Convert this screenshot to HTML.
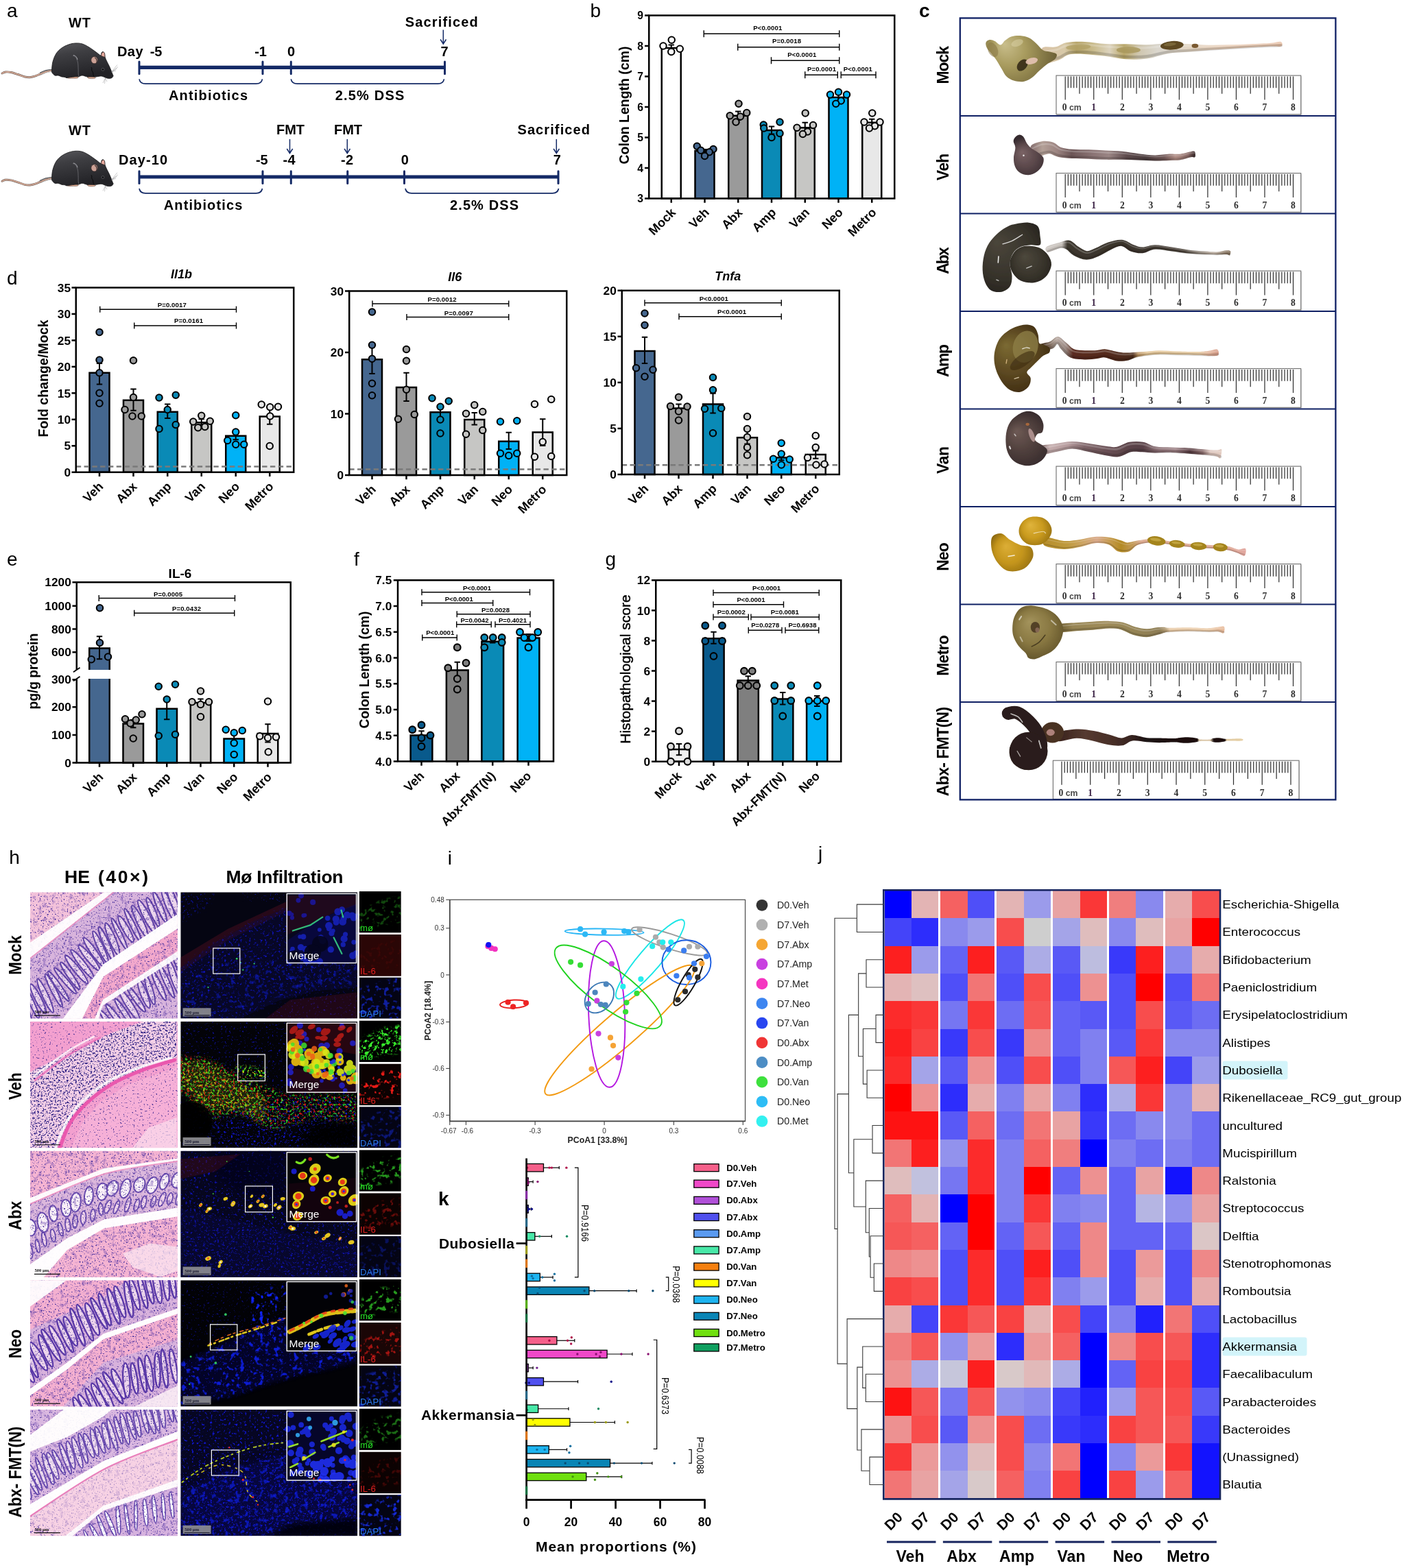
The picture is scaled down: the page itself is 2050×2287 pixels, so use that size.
<!DOCTYPE html>
<html lang="en"><head><meta charset="utf-8"><title>Figure</title>
<style>html,body{margin:0;padding:0;background:#fff}svg{display:block}</style>
</head><body>
<svg width="2050" height="2287" viewBox="0 0 2050 2287" font-family='"Liberation Sans", sans-serif'>
<defs><linearGradient id="mouseg" x1="0" y1="0" x2="0.3" y2="1"><stop offset="0" stop-color="#58585c"/><stop offset=".35" stop-color="#3e3e42"/><stop offset="1" stop-color="#222226"/></linearGradient>
<filter id="cblur" x="-5%" y="-20%" width="110%" height="140%"><feGaussianBlur stdDeviation=".55"/></filter>
<linearGradient id="cg1" gradientUnits="userSpaceOnUse" x1="1520.88" y1="0" x2="1867.8" y2="0"><stop offset="0" stop-color="#d9c3a6"/><stop offset="0.09" stop-color="#d8c9a8"/><stop offset="0.14" stop-color="#b7a56a"/><stop offset="0.21" stop-color="#c9bb8c"/><stop offset="0.28" stop-color="#dcd3bd"/><stop offset="0.34" stop-color="#b9a76a"/><stop offset="0.4" stop-color="#cfc6ae"/><stop offset="0.48" stop-color="#dad6cd"/><stop offset="0.61" stop-color="#e3d6c4"/><stop offset="0.78" stop-color="#e9cdb6"/><stop offset="1" stop-color="#e8c2a8"/></linearGradient>
<radialGradient id="cg2" gradientUnits="userSpaceOnUse" cx="1480" cy="82.5" r="62.5" fx="1464.38" fy="63.75"><stop offset="0" stop-color="#c9be8c"/><stop offset="0.4" stop-color="#a89b5e"/><stop offset="1" stop-color="#6a5e34"/></radialGradient>
<linearGradient id="cg3" gradientUnits="userSpaceOnUse" x1="1505.77" y1="0" x2="1742.09" y2="0"><stop offset="0" stop-color="#8c7674"/><stop offset="0.06" stop-color="#b3a097"/><stop offset="0.15" stop-color="#9c8481"/><stop offset="0.24" stop-color="#6c5556"/><stop offset="0.37" stop-color="#8a7374"/><stop offset="0.47" stop-color="#9a8584"/><stop offset="0.58" stop-color="#5d4a4c"/><stop offset="0.7" stop-color="#4a3b3c"/><stop offset="0.81" stop-color="#6e5554"/><stop offset="0.88" stop-color="#b08c84"/><stop offset="0.96" stop-color="#8a6a66"/><stop offset="1" stop-color="#3c2c2c"/></linearGradient>
<radialGradient id="cg4" gradientUnits="userSpaceOnUse" cx="1498.21" cy="231.95" r="33.24" fx="1489.9" fy="221.98"><stop offset="0" stop-color="#7b6466"/><stop offset="0.5" stop-color="#5b484b"/><stop offset="1" stop-color="#352a2e"/></radialGradient>
<linearGradient id="cg5" gradientUnits="userSpaceOnUse" x1="1526.92" y1="0" x2="1793.46" y2="0"><stop offset="0" stop-color="#cfc9c4"/><stop offset="0.08" stop-color="#c4beb8"/><stop offset="0.11" stop-color="#3d372f"/><stop offset="0.32" stop-color="#3a342c"/><stop offset="0.54" stop-color="#3b342d"/><stop offset="0.75" stop-color="#4a4138"/><stop offset="0.83" stop-color="#8d8378"/><stop offset="0.91" stop-color="#b9aa9c"/><stop offset="1" stop-color="#7d6a55"/></linearGradient>
<radialGradient id="cg6" gradientUnits="userSpaceOnUse" cx="1469.51" cy="372.44" r="66.48" fx="1452.88" fy="352.49"><stop offset="0" stop-color="#4b463b"/><stop offset="0.6" stop-color="#37332b"/><stop offset="1" stop-color="#24211c"/></radialGradient>
<radialGradient id="cg7" gradientUnits="userSpaceOnUse" cx="1502.75" cy="384.53" r="36.26" fx="1493.68" fy="373.65"><stop offset="0" stop-color="#4d483c"/><stop offset="0.6" stop-color="#39352c"/><stop offset="1" stop-color="#25221d"/></radialGradient>
<linearGradient id="cg8" gradientUnits="userSpaceOnUse" x1="1517.86" y1="0" x2="1775.33" y2="0"><stop offset="0" stop-color="#3a2414"/><stop offset="0.05" stop-color="#7a6658"/><stop offset="0.09" stop-color="#b9aaa2"/><stop offset="0.14" stop-color="#9b8a84"/><stop offset="0.18" stop-color="#5a2c20"/><stop offset="0.36" stop-color="#552a1c"/><stop offset="0.52" stop-color="#4a2a1a"/><stop offset="0.55" stop-color="#b89060"/><stop offset="0.6" stop-color="#e3c493"/><stop offset="0.89" stop-color="#e6c89c"/><stop offset="0.95" stop-color="#e2b49a"/><stop offset="1" stop-color="#d9a08c"/></linearGradient>
<radialGradient id="cg9" gradientUnits="userSpaceOnUse" cx="1481.59" cy="521.48" r="60.44" fx="1466.48" fy="503.35"><stop offset="0" stop-color="#7b6a32"/><stop offset="0.5" stop-color="#5e4a22"/><stop offset="1" stop-color="#3a2810"/></radialGradient>
<linearGradient id="cg10" gradientUnits="userSpaceOnUse" x1="1514.84" y1="0" x2="1780.16" y2="0"><stop offset="0" stop-color="#6a5453"/><stop offset="0.06" stop-color="#c4acac"/><stop offset="0.16" stop-color="#b59a9c"/><stop offset="0.25" stop-color="#7e6468"/><stop offset="0.36" stop-color="#6a5055"/><stop offset="0.48" stop-color="#5c4449"/><stop offset="0.57" stop-color="#584046"/><stop offset="0.66" stop-color="#8b6f74"/><stop offset="0.75" stop-color="#9a7e82"/><stop offset="0.83" stop-color="#55393f"/><stop offset="0.9" stop-color="#8a6c6c"/><stop offset="0.94" stop-color="#dcc4bc"/><stop offset="1" stop-color="#e2cbc0"/></linearGradient>
<radialGradient id="cg11" gradientUnits="userSpaceOnUse" cx="1493.68" cy="642.33" r="45.33" fx="1482.35" fy="628.73"><stop offset="0" stop-color="#6e5a55"/><stop offset="0.5" stop-color="#50403d"/><stop offset="1" stop-color="#33282a"/></radialGradient>
<linearGradient id="cg12" gradientUnits="userSpaceOnUse" x1="1523.9" y1="0" x2="1815.22" y2="0"><stop offset="0" stop-color="#b78f2c"/><stop offset="0.11" stop-color="#bf9a3c"/><stop offset="0.2" stop-color="#cfa66a"/><stop offset="0.26" stop-color="#d9a98a"/><stop offset="0.33" stop-color="#c49a4a"/><stop offset="0.38" stop-color="#b38a24"/><stop offset="0.44" stop-color="#c39a58"/><stop offset="0.48" stop-color="#dba98e"/><stop offset="0.92" stop-color="#dda592"/><stop offset="1" stop-color="#e2a8a0"/></linearGradient>
<radialGradient id="cg13" gradientUnits="userSpaceOnUse" cx="1475.55" cy="806.99" r="36.26" fx="1466.48" fy="796.12"><stop offset="0" stop-color="#dcae36"/><stop offset="0.55" stop-color="#c4951c"/><stop offset="1" stop-color="#8e6a10"/></radialGradient>
<radialGradient id="cg14" gradientUnits="userSpaceOnUse" cx="1508.79" cy="773.75" r="27.8" fx="1501.84" fy="765.41"><stop offset="0" stop-color="#e0b43c"/><stop offset="0.55" stop-color="#c99a1e"/><stop offset="1" stop-color="#936e12"/></radialGradient>
<linearGradient id="cg15" gradientUnits="userSpaceOnUse" x1="1545.05" y1="0" x2="1784.4" y2="0"><stop offset="0" stop-color="#6f5e32"/><stop offset="0.08" stop-color="#978553"/><stop offset="0.28" stop-color="#9f8c5a"/><stop offset="0.47" stop-color="#948354"/><stop offset="0.61" stop-color="#8e7d55"/><stop offset="0.65" stop-color="#b9a078"/><stop offset="0.67" stop-color="#e8c9a4"/><stop offset="0.91" stop-color="#ecccaa"/><stop offset="1" stop-color="#e8bb9c"/></linearGradient>
<radialGradient id="cg16" gradientUnits="userSpaceOnUse" cx="1511.81" cy="920.29" r="45.33" fx="1500.48" fy="906.69"><stop offset="0" stop-color="#a3935c"/><stop offset="0.55" stop-color="#897842"/><stop offset="1" stop-color="#5f5128"/></radialGradient>
<linearGradient id="cg17" gradientUnits="userSpaceOnUse" x1="1542.03" y1="0" x2="1810.08" y2="0"><stop offset="0" stop-color="#3a231d"/><stop offset="0.15" stop-color="#553a30"/><stop offset="0.28" stop-color="#4a3029"/><stop offset="0.39" stop-color="#3a2622"/><stop offset="0.48" stop-color="#1c1212"/><stop offset="0.76" stop-color="#1a1010"/><stop offset="0.77" stop-color="#d9c6a8"/><stop offset="0.83" stop-color="#dcc8aa"/><stop offset="0.85" stop-color="#1a1010"/><stop offset="0.91" stop-color="#1a1010"/><stop offset="0.92" stop-color="#e0c9a0"/><stop offset="1" stop-color="#e6d0a6"/></linearGradient>
<filter id="spP" x="0" y="0" width="1" height="1" color-interpolation-filters="sRGB"><feTurbulence type="fractalNoise" baseFrequency=".45" numOctaves="2" seed="3"/><feColorMatrix values="0 0 0 0 0.3 0 0 0 0 0.2 0 0 0 0 0.62 7 0 0 0 -4.3"/><feComposite in2="SourceAlpha" operator="in"/></filter>
<filter id="spP3" x="0" y="0" width="1" height="1" color-interpolation-filters="sRGB"><feTurbulence type="fractalNoise" baseFrequency=".16" numOctaves="2" seed="17"/><feColorMatrix values="0 0 0 0 0.42 0 0 0 0 0.28 0 0 0 0 0.68 6 0 0 0 -3.3"/><feComposite in2="SourceAlpha" operator="in"/></filter>
<filter id="spP2" x="0" y="0" width="1" height="1" color-interpolation-filters="sRGB"><feTurbulence type="fractalNoise" baseFrequency=".4" numOctaves="2" seed="11"/><feColorMatrix values="0 0 0 0 0.28 0 0 0 0 0.18 0 0 0 0 0.58 7 0 0 0 -4.5"/><feComposite in2="SourceAlpha" operator="in"/></filter>
<filter id="spV" x="0" y="0" width="1" height="1" color-interpolation-filters="sRGB"><feTurbulence type="fractalNoise" baseFrequency=".4" numOctaves="2" seed="5"/><feColorMatrix values="0 0 0 0 0.2 0 0 0 0 0.15 0 0 0 0 0.52 7 0 0 0 -3.8"/><feComposite in2="SourceAlpha" operator="in"/></filter>
<filter id="hb6" x="-20%" y="-20%" width="140%" height="140%"><feGaussianBlur stdDeviation="6"/></filter><filter id="hb3" x="-20%" y="-20%" width="140%" height="140%"><feGaussianBlur stdDeviation="3"/></filter>
<clipPath id="hc1"><rect x="43.9" y="1301.3" width="215" height="184.3"/></clipPath>
<clipPath id="hc2"><rect x="43.9" y="1489.95" width="215" height="184.3"/></clipPath>
<clipPath id="hc3"><rect x="43.9" y="1678.6" width="215" height="184.3"/></clipPath>
<clipPath id="hc4"><rect x="43.9" y="1867.25" width="215" height="184.3"/></clipPath>
<clipPath id="hc5"><rect x="43.9" y="2055.9" width="215" height="184.3"/></clipPath>
<filter id="fB1" x="0" y="0" width="1" height="1" color-interpolation-filters="sRGB"><feTurbulence type="fractalNoise" baseFrequency=".32" numOctaves="2" seed="2"/><feColorMatrix result="n" values="0 0 0 0 0.08 0 0 0 0 0.09 0 0 0 0 0.82 6 0 0 0 -3.85"/><feGaussianBlur in="SourceAlpha" stdDeviation="3" result="m"/><feComposite in="n" in2="m" operator="in"/></filter>
<filter id="fB2" x="0" y="0" width="1" height="1" color-interpolation-filters="sRGB"><feTurbulence type="fractalNoise" baseFrequency=".3" numOctaves="2" seed="8"/><feColorMatrix result="n" values="0 0 0 0 0.07 0 0 0 0 0.09 0 0 0 0 0.85 6 0 0 0 -3.6"/><feGaussianBlur in="SourceAlpha" stdDeviation="3" result="m"/><feComposite in="n" in2="m" operator="in"/></filter>
<filter id="fB3" x="0" y="0" width="1" height="1" color-interpolation-filters="sRGB"><feTurbulence type="fractalNoise" baseFrequency=".14" numOctaves="2" seed="4"/><feColorMatrix result="n" values="0 0 0 0 0.06 0 0 0 0 0.14 0 0 0 0 1 7 0 0 0 -4"/><feGaussianBlur in="SourceAlpha" stdDeviation="2" result="m"/><feComposite in="n" in2="m" operator="in"/></filter>
<filter id="fG" x="0" y="0" width="1" height="1" color-interpolation-filters="sRGB"><feTurbulence type="fractalNoise" baseFrequency=".3" numOctaves="2" seed="21"/><feColorMatrix result="n" values="0 0 0 0 0.2 0 0 0 0 0.95 0 0 0 0 0.15 7 0 0 0 -4"/><feGaussianBlur in="SourceAlpha" stdDeviation="3" result="m"/><feComposite in="n" in2="m" operator="in"/></filter>
<filter id="fR" x="0" y="0" width="1" height="1" color-interpolation-filters="sRGB"><feTurbulence type="fractalNoise" baseFrequency=".3" numOctaves="2" seed="33"/><feColorMatrix result="n" values="0 0 0 0 0.95 0 0 0 0 0.1 0 0 0 0 0.08 7 0 0 0 -4"/><feGaussianBlur in="SourceAlpha" stdDeviation="3" result="m"/><feComposite in="n" in2="m" operator="in"/></filter>
<filter id="fY" x="0" y="0" width="1" height="1" color-interpolation-filters="sRGB"><feTurbulence type="fractalNoise" baseFrequency=".28" numOctaves="2" seed="45"/><feColorMatrix result="n" values="0 0 0 0 0.95 0 0 0 0 0.9 0 0 0 0 0.1 7 0 0 0 -4.1"/><feGaussianBlur in="SourceAlpha" stdDeviation="3" result="m"/><feComposite in="n" in2="m" operator="in"/></filter>
<filter id="fG2" x="0" y="0" width="1" height="1" color-interpolation-filters="sRGB"><feTurbulence type="fractalNoise" baseFrequency=".16" numOctaves="2" seed="5"/><feColorMatrix result="n" values="0 0 0 0 0.25 0 0 0 0 1 0 0 0 0 0.2 7 0 0 0 -3.9"/><feGaussianBlur in="SourceAlpha" stdDeviation="1.5" result="m"/><feComposite in="n" in2="m" operator="in"/></filter>
<filter id="fR2" x="0" y="0" width="1" height="1" color-interpolation-filters="sRGB"><feTurbulence type="fractalNoise" baseFrequency=".16" numOctaves="2" seed="9"/><feColorMatrix result="n" values="0 0 0 0 1 0 0 0 0 0.12 0 0 0 0 0.1 7 0 0 0 -3.9"/><feGaussianBlur in="SourceAlpha" stdDeviation="1.5" result="m"/><feComposite in="n" in2="m" operator="in"/></filter>
<filter id="fB4" x="0" y="0" width="1" height="1" color-interpolation-filters="sRGB"><feTurbulence type="fractalNoise" baseFrequency=".15" numOctaves="2" seed="13"/><feColorMatrix result="n" values="0 0 0 0 0.1 0 0 0 0 0.2 0 0 0 0 1 7 0 0 0 -3.8"/><feGaussianBlur in="SourceAlpha" stdDeviation="1.5" result="m"/><feComposite in="n" in2="m" operator="in"/></filter>
<clipPath id="hc6"><rect x="263.3" y="1301.3" width="257.9" height="184.3"/></clipPath>
<clipPath id="hc7"><rect x="523.9" y="1300.1" width="60.8" height="60.2"/></clipPath>
<clipPath id="hc8"><rect x="523.9" y="1363.1" width="60.8" height="60.4"/></clipPath>
<clipPath id="hc9"><rect x="523.9" y="1425.7" width="60.8" height="59.9"/></clipPath>
<clipPath id="hc10"><rect x="263.3" y="1489.95" width="257.9" height="184.3"/></clipPath>
<clipPath id="hc11"><rect x="523.9" y="1488.75" width="60.8" height="60.2"/></clipPath>
<clipPath id="hc12"><rect x="523.9" y="1551.75" width="60.8" height="60.4"/></clipPath>
<clipPath id="hc13"><rect x="523.9" y="1614.35" width="60.8" height="59.9"/></clipPath>
<clipPath id="hc14"><rect x="263.3" y="1678.6" width="257.9" height="184.3"/></clipPath>
<clipPath id="hc15"><rect x="523.9" y="1677.4" width="60.8" height="60.2"/></clipPath>
<clipPath id="hc16"><rect x="523.9" y="1740.4" width="60.8" height="60.4"/></clipPath>
<clipPath id="hc17"><rect x="523.9" y="1803" width="60.8" height="59.9"/></clipPath>
<clipPath id="hc18"><rect x="263.3" y="1867.25" width="257.9" height="184.3"/></clipPath>
<clipPath id="hc19"><rect x="523.9" y="1866.05" width="60.8" height="60.2"/></clipPath>
<clipPath id="hc20"><rect x="523.9" y="1929.05" width="60.8" height="60.4"/></clipPath>
<clipPath id="hc21"><rect x="523.9" y="1991.65" width="60.8" height="59.9"/></clipPath>
<clipPath id="hc22"><rect x="263.3" y="2055.9" width="257.9" height="184.3"/></clipPath>
<clipPath id="hc23"><rect x="523.9" y="2054.7" width="60.8" height="60.2"/></clipPath>
<clipPath id="hc24"><rect x="523.9" y="2117.7" width="60.8" height="60.4"/></clipPath>
<clipPath id="hc25"><rect x="523.9" y="2180.3" width="60.8" height="59.9"/></clipPath></defs>
<rect width="2050" height="2287" fill="#fff"/>
<text x="10" y="24.5" font-size="28">a</text>
<text x="116" y="39.5" font-size="20" text-anchor="middle" font-weight="bold" textLength="32" lengthAdjust="spacing">WT</text>
<g transform="translate(0 50)">
<path d="M75.5 52.5C73.92 52.92 69.42 53.83 66 55C62.58 56.17 58.5 58.25 55 59.5C51.5 60.75 48.17 62.08 45 62.5C41.83 62.92 39.17 62.67 36 62C32.83 61.33 29.33 59.58 26 58.5C22.67 57.42 19 56.08 16 55.5C13 54.92 10.17 54.75 8 55C5.83 55.25 3.83 56.67 3 57" fill="none" stroke="#6b5a52" stroke-width="2.9" stroke-linecap="round"/>
<path d="M75.5 52.5C73.92 52.92 69.42 53.83 66 55C62.58 56.17 58.5 58.25 55 59.5C51.5 60.75 48.17 62.08 45 62.5C41.83 62.92 39.17 62.67 36 62C32.83 61.33 29.33 59.58 26 58.5C22.67 57.42 19 56.08 16 55.5C13 54.92 10.17 54.75 8 55C5.83 55.25 3.83 56.67 3 57" fill="none" stroke="#dcae9a" stroke-width="1.6" stroke-linecap="round"/>
<path d="M75.5 51.5C70 51.6 64 53 58 56.5" fill="none" stroke="#6b6b6e" stroke-width="1.6"/>
<path d="M75.5 54.6C70 55 65 57 60 59.5" fill="none" stroke="#d8d8d8" stroke-width="1"/>
<path d="M97 61.5C100 60.5 110 60.5 114.5 62.5C114 64.5 110 64.3 106 64.2C102 64.4 98.5 64.6 97 63Z" fill="#e2ad93" stroke="#4a3a34" stroke-width=".5"/>
<path d="M127.5 61.5C131 60.8 136 61.5 139.5 63C139 65 135 64.6 132 64.6C130 64.6 128 64 127.5 63Z" fill="#e2ad93" stroke="#4a3a34" stroke-width=".5"/>
<path d="M75.5 52C75.67 49.33 75.92 44 77 40C78.08 36 79.83 31.33 82 28C84.17 24.67 87 22.17 90 20C93 17.83 96.67 16.17 100 15C103.33 13.83 106.67 13.17 110 13C113.33 12.83 116.67 13 120 14C123.33 15 126.67 17 130 19C133.33 21 137.17 24 140 26C142.83 28 145.67 30.83 147 31C148.33 31.17 147.5 27.92 148 27C148.5 26.08 149.25 25.33 150 25.5C150.75 25.67 152 26.75 152.5 28C153 29.25 152.42 31 153 33C153.58 35 154.83 37.5 156 40C157.17 42.5 158.67 45 160 48C161.33 51 163.17 55.83 164 58C164.83 60.17 165.33 60 165 61C164.67 62 163.5 63.5 162 64C160.5 64.5 158.33 64.5 156 64C153.67 63.5 150.67 61.33 148 61C145.33 60.67 142.67 61.83 140 62C137.33 62.17 134.17 62 132 62C129.83 62 129 62.33 127 62C125 61.67 122 60.08 120 60C118 59.92 117 61.17 115 61.5C113 61.83 111 61.67 108 62C105 62.33 99.17 63.42 97 63.5C94.83 63.58 96.17 62.75 95 62.5C93.83 62.25 91.67 62.42 90 62C88.33 61.58 86.67 60.33 85 60C83.33 59.67 81.5 60.67 80 60C78.5 59.33 76.75 57.33 76 56C75.25 54.67 75.33 54.67 75.5 52Z" fill="url(#mouseg)" stroke="#151517" stroke-width=".8"/>
<path d="M106 31C112 32 114 40 114 48C114.5 54 113.5 58 115 61" fill="none" stroke="#77777c" stroke-width=".9" opacity=".8"/>
<path d="M107 30.5C110.5 31.2 112.5 34 113 37" fill="none" stroke="#c9c9cf" stroke-width=".9" opacity=".8"/>
<path d="M133 48C135 50 132.5 52 134.5 54C136.5 56 135 59 137 61.5" fill="none" stroke="#0a0a0b" stroke-width="1"/>
<path d="M147.5 31.5C147.5 28 149 25.8 150.8 26C152.8 26.3 153 30 152.8 33.5Z" fill="#e6a99c" stroke="#2a2224" stroke-width=".7"/>
<ellipse cx="137.6" cy="37.6" rx="4.8" ry="5.2" fill="#cda296" stroke="#3a2c2c" stroke-width=".8"/>
<path d="M138 34C141 35 142 39 140.5 42.5" fill="none" stroke="#3a3030" stroke-width="1.2"/>
<circle cx="150" cy="51.3" r="1.9" fill="#0c0c0e" stroke="#86868c" stroke-width=".5"/>
<path d="M162.5 55L171 44.5" stroke="#8a8a8e" stroke-width=".45" fill="none"/>
<path d="M162.5 55L172 47.5" stroke="#8a8a8e" stroke-width=".45" fill="none"/>
<path d="M162.5 55L170.5 50" stroke="#8a8a8e" stroke-width=".45" fill="none"/>
<path d="M162.5 55L169 53" stroke="#8a8a8e" stroke-width=".45" fill="none"/>
<path d="M153.5 64L150 71" stroke="#8a8a8e" stroke-width=".45" fill="none"/>
<path d="M153.5 64L152.5 72" stroke="#8a8a8e" stroke-width=".45" fill="none"/>
<path d="M153.5 64L156 69" stroke="#8a8a8e" stroke-width=".45" fill="none"/>
</g>
<text x="171" y="82" font-size="20" font-weight="bold" textLength="37.5" lengthAdjust="spacing">Day</text>
<text x="227.5" y="82" font-size="20" text-anchor="middle" font-weight="bold" textLength="17.5" lengthAdjust="spacing">-5</text>
<text x="380" y="82" font-size="20" text-anchor="middle" font-weight="bold" textLength="17.5" lengthAdjust="spacing">-1</text>
<text x="424.5" y="82" font-size="20" text-anchor="middle" font-weight="bold">0</text>
<text x="648" y="82" font-size="20" text-anchor="middle" font-weight="bold">7</text>
<line x1="203" y1="98.3" x2="648.5" y2="98.3" stroke="#142a66" stroke-width="5.2"/>
<line x1="203" y1="90" x2="203" y2="107.8" stroke="#142a66" stroke-width="3" stroke-linecap="round"/>
<line x1="383" y1="90" x2="383" y2="107.8" stroke="#142a66" stroke-width="3" stroke-linecap="round"/>
<line x1="424.3" y1="90" x2="424.3" y2="107.8" stroke="#142a66" stroke-width="3" stroke-linecap="round"/>
<line x1="648.5" y1="90" x2="648.5" y2="107.8" stroke="#142a66" stroke-width="3" stroke-linecap="round"/>
<path d="M203 115.3C204 120.6 207 122.1 212 122.1L373.5 122.1C378.5 122.1 381.5 120.6 382.5 115.3" fill="none" stroke="#142a66" stroke-width="1.7"/>
<path d="M424.3 115.3C425.3 120.6 428.3 122.1 433.3 122.1L638.5 122.1C643.5 122.1 646.5 120.6 647.5 115.3" fill="none" stroke="#142a66" stroke-width="1.7"/>
<text x="303.5" y="145.5" font-size="20" text-anchor="middle" font-weight="bold" textLength="115" lengthAdjust="spacing">Antibiotics</text>
<text x="539" y="145.5" font-size="20" text-anchor="middle" font-weight="bold" textLength="100.5" lengthAdjust="spacing">2.5% DSS</text>
<text x="643.7" y="39" font-size="20" text-anchor="middle" font-weight="bold" textLength="106" lengthAdjust="spacing">Sacrificed</text>
<line x1="646.3" y1="43.5" x2="646.3" y2="63" stroke="#142a66" stroke-width="1.5"/>
<path d="M642.1 57.5L646.3 64L650.5 57.5" fill="none" stroke="#142a66" stroke-width="1.5" stroke-linejoin="miter"/>
<text x="116" y="196.8" font-size="20" text-anchor="middle" font-weight="bold" textLength="32" lengthAdjust="spacing">WT</text>
<g transform="translate(0 207.3)">
<path d="M75.5 52.5C73.92 52.92 69.42 53.83 66 55C62.58 56.17 58.5 58.25 55 59.5C51.5 60.75 48.17 62.08 45 62.5C41.83 62.92 39.17 62.67 36 62C32.83 61.33 29.33 59.58 26 58.5C22.67 57.42 19 56.08 16 55.5C13 54.92 10.17 54.75 8 55C5.83 55.25 3.83 56.67 3 57" fill="none" stroke="#6b5a52" stroke-width="2.9" stroke-linecap="round"/>
<path d="M75.5 52.5C73.92 52.92 69.42 53.83 66 55C62.58 56.17 58.5 58.25 55 59.5C51.5 60.75 48.17 62.08 45 62.5C41.83 62.92 39.17 62.67 36 62C32.83 61.33 29.33 59.58 26 58.5C22.67 57.42 19 56.08 16 55.5C13 54.92 10.17 54.75 8 55C5.83 55.25 3.83 56.67 3 57" fill="none" stroke="#dcae9a" stroke-width="1.6" stroke-linecap="round"/>
<path d="M75.5 51.5C70 51.6 64 53 58 56.5" fill="none" stroke="#6b6b6e" stroke-width="1.6"/>
<path d="M75.5 54.6C70 55 65 57 60 59.5" fill="none" stroke="#d8d8d8" stroke-width="1"/>
<path d="M97 61.5C100 60.5 110 60.5 114.5 62.5C114 64.5 110 64.3 106 64.2C102 64.4 98.5 64.6 97 63Z" fill="#e2ad93" stroke="#4a3a34" stroke-width=".5"/>
<path d="M127.5 61.5C131 60.8 136 61.5 139.5 63C139 65 135 64.6 132 64.6C130 64.6 128 64 127.5 63Z" fill="#e2ad93" stroke="#4a3a34" stroke-width=".5"/>
<path d="M75.5 52C75.67 49.33 75.92 44 77 40C78.08 36 79.83 31.33 82 28C84.17 24.67 87 22.17 90 20C93 17.83 96.67 16.17 100 15C103.33 13.83 106.67 13.17 110 13C113.33 12.83 116.67 13 120 14C123.33 15 126.67 17 130 19C133.33 21 137.17 24 140 26C142.83 28 145.67 30.83 147 31C148.33 31.17 147.5 27.92 148 27C148.5 26.08 149.25 25.33 150 25.5C150.75 25.67 152 26.75 152.5 28C153 29.25 152.42 31 153 33C153.58 35 154.83 37.5 156 40C157.17 42.5 158.67 45 160 48C161.33 51 163.17 55.83 164 58C164.83 60.17 165.33 60 165 61C164.67 62 163.5 63.5 162 64C160.5 64.5 158.33 64.5 156 64C153.67 63.5 150.67 61.33 148 61C145.33 60.67 142.67 61.83 140 62C137.33 62.17 134.17 62 132 62C129.83 62 129 62.33 127 62C125 61.67 122 60.08 120 60C118 59.92 117 61.17 115 61.5C113 61.83 111 61.67 108 62C105 62.33 99.17 63.42 97 63.5C94.83 63.58 96.17 62.75 95 62.5C93.83 62.25 91.67 62.42 90 62C88.33 61.58 86.67 60.33 85 60C83.33 59.67 81.5 60.67 80 60C78.5 59.33 76.75 57.33 76 56C75.25 54.67 75.33 54.67 75.5 52Z" fill="url(#mouseg)" stroke="#151517" stroke-width=".8"/>
<path d="M106 31C112 32 114 40 114 48C114.5 54 113.5 58 115 61" fill="none" stroke="#77777c" stroke-width=".9" opacity=".8"/>
<path d="M107 30.5C110.5 31.2 112.5 34 113 37" fill="none" stroke="#c9c9cf" stroke-width=".9" opacity=".8"/>
<path d="M133 48C135 50 132.5 52 134.5 54C136.5 56 135 59 137 61.5" fill="none" stroke="#0a0a0b" stroke-width="1"/>
<path d="M147.5 31.5C147.5 28 149 25.8 150.8 26C152.8 26.3 153 30 152.8 33.5Z" fill="#e6a99c" stroke="#2a2224" stroke-width=".7"/>
<ellipse cx="137.6" cy="37.6" rx="4.8" ry="5.2" fill="#cda296" stroke="#3a2c2c" stroke-width=".8"/>
<path d="M138 34C141 35 142 39 140.5 42.5" fill="none" stroke="#3a3030" stroke-width="1.2"/>
<circle cx="150" cy="51.3" r="1.9" fill="#0c0c0e" stroke="#86868c" stroke-width=".5"/>
<path d="M162.5 55L171 44.5" stroke="#8a8a8e" stroke-width=".45" fill="none"/>
<path d="M162.5 55L172 47.5" stroke="#8a8a8e" stroke-width=".45" fill="none"/>
<path d="M162.5 55L170.5 50" stroke="#8a8a8e" stroke-width=".45" fill="none"/>
<path d="M162.5 55L169 53" stroke="#8a8a8e" stroke-width=".45" fill="none"/>
<path d="M153.5 64L150 71" stroke="#8a8a8e" stroke-width=".45" fill="none"/>
<path d="M153.5 64L152.5 72" stroke="#8a8a8e" stroke-width=".45" fill="none"/>
<path d="M153.5 64L156 69" stroke="#8a8a8e" stroke-width=".45" fill="none"/>
</g>
<text x="173" y="240" font-size="20" font-weight="bold" textLength="71" lengthAdjust="spacing">Day-10</text>
<text x="381.8" y="240" font-size="20" text-anchor="middle" font-weight="bold" textLength="17.5" lengthAdjust="spacing">-5</text>
<text x="421.5" y="240" font-size="20" text-anchor="middle" font-weight="bold" textLength="18" lengthAdjust="spacing">-4</text>
<text x="506" y="240" font-size="20" text-anchor="middle" font-weight="bold" textLength="18" lengthAdjust="spacing">-2</text>
<text x="590.3" y="240" font-size="20" text-anchor="middle" font-weight="bold">0</text>
<text x="812.3" y="240" font-size="20" text-anchor="middle" font-weight="bold">7</text>
<line x1="203" y1="258" x2="814" y2="258" stroke="#142a66" stroke-width="5.2"/>
<line x1="203" y1="249.7" x2="203" y2="267.5" stroke="#142a66" stroke-width="3" stroke-linecap="round"/>
<line x1="383" y1="249.7" x2="383" y2="267.5" stroke="#142a66" stroke-width="3" stroke-linecap="round"/>
<line x1="424.3" y1="249.7" x2="424.3" y2="267.5" stroke="#142a66" stroke-width="3" stroke-linecap="round"/>
<line x1="506.75" y1="249.7" x2="506.75" y2="267.5" stroke="#142a66" stroke-width="3" stroke-linecap="round"/>
<line x1="589.5" y1="249.7" x2="589.5" y2="267.5" stroke="#142a66" stroke-width="3" stroke-linecap="round"/>
<line x1="814" y1="249.7" x2="814" y2="267.5" stroke="#142a66" stroke-width="3" stroke-linecap="round"/>
<path d="M203 275C204 280.3 207 281.8 212 281.8L373.5 281.8C378.5 281.8 381.5 280.3 382.5 275" fill="none" stroke="#142a66" stroke-width="1.7"/>
<path d="M591 275C592 280.3 595 281.8 600 281.8L805.5 281.8C810.5 281.8 813.5 280.3 814.5 275" fill="none" stroke="#142a66" stroke-width="1.7"/>
<text x="296" y="305.5" font-size="20" text-anchor="middle" font-weight="bold" textLength="114.5" lengthAdjust="spacing">Antibiotics</text>
<text x="706" y="305.5" font-size="20" text-anchor="middle" font-weight="bold" textLength="100" lengthAdjust="spacing">2.5% DSS</text>
<text x="423.5" y="196.3" font-size="20" text-anchor="middle" font-weight="bold" textLength="41" lengthAdjust="spacing">FMT</text>
<text x="507.5" y="196.3" font-size="20" text-anchor="middle" font-weight="bold" textLength="41" lengthAdjust="spacing">FMT</text>
<text x="807.2" y="196.3" font-size="20" text-anchor="middle" font-weight="bold" textLength="105.5" lengthAdjust="spacing">Sacrificed</text>
<line x1="422.5" y1="203" x2="422.5" y2="222.5" stroke="#142a66" stroke-width="1.5"/>
<path d="M418.3 217L422.5 223.5L426.7 217" fill="none" stroke="#142a66" stroke-width="1.5" stroke-linejoin="miter"/>
<line x1="506.3" y1="203" x2="506.3" y2="222.5" stroke="#142a66" stroke-width="1.5"/>
<path d="M502.1 217L506.3 223.5L510.5 217" fill="none" stroke="#142a66" stroke-width="1.5" stroke-linejoin="miter"/>
<line x1="811.3" y1="203" x2="811.3" y2="222.5" stroke="#142a66" stroke-width="1.5"/>
<path d="M807.1 217L811.3 223.5L815.5 217" fill="none" stroke="#142a66" stroke-width="1.5" stroke-linejoin="miter"/>
<text x="860.5" y="24.5" font-size="28">b</text>
<rect x="964.75" y="70" width="28" height="219.5" fill="#fff" stroke="#000" stroke-width="2.5"/>
<rect x="1013.5" y="220" width="28" height="69.5" fill="#45678f" stroke="#000" stroke-width="2.5"/>
<rect x="1062.25" y="168.75" width="28" height="120.75" fill="#9a9a9a" stroke="#000" stroke-width="2.5"/>
<rect x="1111" y="190" width="28" height="99.5" fill="#0a8ab6" stroke="#000" stroke-width="2.5"/>
<rect x="1159.75" y="186.25" width="28" height="103.25" fill="#c6c6c4" stroke="#000" stroke-width="2.5"/>
<rect x="1208.5" y="142" width="28" height="147.5" fill="#00b2f6" stroke="#000" stroke-width="2.5"/>
<rect x="1257.25" y="178.75" width="28" height="110.75" fill="#e8e8e8" stroke="#000" stroke-width="2.5"/>
<line x1="978.75" y1="65.5" x2="978.75" y2="74" stroke="#000" stroke-width="2"/>
<line x1="974.55" y1="65.5" x2="982.95" y2="65.5" stroke="#000" stroke-width="2"/>
<line x1="974.55" y1="74" x2="982.95" y2="74" stroke="#000" stroke-width="2"/>
<line x1="1027.5" y1="218" x2="1027.5" y2="222.5" stroke="#000" stroke-width="2"/>
<line x1="1023.3" y1="218" x2="1031.7" y2="218" stroke="#000" stroke-width="2"/>
<line x1="1023.3" y1="222.5" x2="1031.7" y2="222.5" stroke="#000" stroke-width="2"/>
<line x1="1076.25" y1="162.5" x2="1076.25" y2="175" stroke="#000" stroke-width="2"/>
<line x1="1072.05" y1="162.5" x2="1080.45" y2="162.5" stroke="#000" stroke-width="2"/>
<line x1="1072.05" y1="175" x2="1080.45" y2="175" stroke="#000" stroke-width="2"/>
<line x1="1125" y1="184.5" x2="1125" y2="195.5" stroke="#000" stroke-width="2"/>
<line x1="1120.8" y1="184.5" x2="1129.2" y2="184.5" stroke="#000" stroke-width="2"/>
<line x1="1120.8" y1="195.5" x2="1129.2" y2="195.5" stroke="#000" stroke-width="2"/>
<line x1="1173.75" y1="178.75" x2="1173.75" y2="193.75" stroke="#000" stroke-width="2"/>
<line x1="1169.55" y1="178.75" x2="1177.95" y2="178.75" stroke="#000" stroke-width="2"/>
<line x1="1169.55" y1="193.75" x2="1177.95" y2="193.75" stroke="#000" stroke-width="2"/>
<line x1="1222.5" y1="137.5" x2="1222.5" y2="147" stroke="#000" stroke-width="2"/>
<line x1="1218.3" y1="137.5" x2="1226.7" y2="137.5" stroke="#000" stroke-width="2"/>
<line x1="1218.3" y1="147" x2="1226.7" y2="147" stroke="#000" stroke-width="2"/>
<line x1="1271.25" y1="173.75" x2="1271.25" y2="183.75" stroke="#000" stroke-width="2"/>
<line x1="1267.05" y1="173.75" x2="1275.45" y2="173.75" stroke="#000" stroke-width="2"/>
<line x1="1267.05" y1="183.75" x2="1275.45" y2="183.75" stroke="#000" stroke-width="2"/>
<rect x="946.25" y="22.5" width="358" height="267" fill="none" stroke="#000" stroke-width="2.5"/>
<circle cx="979.25" cy="58.25" r="4.7" fill="#fff" stroke="#000" stroke-width="2.1"/>
<circle cx="967" cy="67" r="4.7" fill="#fff" stroke="#000" stroke-width="2.1"/>
<circle cx="991.25" cy="71.25" r="4.7" fill="#fff" stroke="#000" stroke-width="2.1"/>
<circle cx="978.75" cy="75.5" r="4.7" fill="#fff" stroke="#000" stroke-width="2.1"/>
<circle cx="1016.25" cy="213.25" r="4.7" fill="#45678f" stroke="#000" stroke-width="2.1"/>
<circle cx="1040" cy="217.5" r="4.7" fill="#45678f" stroke="#000" stroke-width="2.1"/>
<circle cx="1021.75" cy="219.25" r="4.7" fill="#45678f" stroke="#000" stroke-width="2.1"/>
<circle cx="1034.25" cy="221.75" r="4.7" fill="#45678f" stroke="#000" stroke-width="2.1"/>
<circle cx="1027.5" cy="227.5" r="4.7" fill="#45678f" stroke="#000" stroke-width="2.1"/>
<circle cx="1077" cy="151.25" r="4.7" fill="#9a9a9a" stroke="#000" stroke-width="2.1"/>
<circle cx="1088.75" cy="164.5" r="4.7" fill="#9a9a9a" stroke="#000" stroke-width="2.1"/>
<circle cx="1064.25" cy="168.75" r="4.7" fill="#9a9a9a" stroke="#000" stroke-width="2.1"/>
<circle cx="1079.5" cy="170" r="4.7" fill="#9a9a9a" stroke="#000" stroke-width="2.1"/>
<circle cx="1073" cy="178" r="4.7" fill="#9a9a9a" stroke="#000" stroke-width="2.1"/>
<circle cx="1113.25" cy="182" r="4.7" fill="#0a8ab6" stroke="#000" stroke-width="2.1"/>
<circle cx="1137" cy="178" r="4.7" fill="#0a8ab6" stroke="#000" stroke-width="2.1"/>
<circle cx="1113.75" cy="187" r="4.7" fill="#0a8ab6" stroke="#000" stroke-width="2.1"/>
<circle cx="1137" cy="194.5" r="4.7" fill="#0a8ab6" stroke="#000" stroke-width="2.1"/>
<circle cx="1125" cy="200.5" r="4.7" fill="#0a8ab6" stroke="#000" stroke-width="2.1"/>
<circle cx="1174.25" cy="165" r="4.7" fill="#c6c6c4" stroke="#000" stroke-width="2.1"/>
<circle cx="1162" cy="186.25" r="4.7" fill="#c6c6c4" stroke="#000" stroke-width="2.1"/>
<circle cx="1185.5" cy="182.5" r="4.7" fill="#c6c6c4" stroke="#000" stroke-width="2.1"/>
<circle cx="1177.5" cy="192" r="4.7" fill="#c6c6c4" stroke="#000" stroke-width="2.1"/>
<circle cx="1170.5" cy="195.5" r="4.7" fill="#c6c6c4" stroke="#000" stroke-width="2.1"/>
<circle cx="1222.5" cy="134.25" r="4.7" fill="#00b2f6" stroke="#000" stroke-width="2.1"/>
<circle cx="1210.5" cy="138" r="4.7" fill="#00b2f6" stroke="#000" stroke-width="2.1"/>
<circle cx="1234.5" cy="138" r="4.7" fill="#00b2f6" stroke="#000" stroke-width="2.1"/>
<circle cx="1226.25" cy="147" r="4.7" fill="#00b2f6" stroke="#000" stroke-width="2.1"/>
<circle cx="1218.75" cy="151.25" r="4.7" fill="#00b2f6" stroke="#000" stroke-width="2.1"/>
<circle cx="1271.75" cy="165" r="4.7" fill="#e8e8e8" stroke="#000" stroke-width="2.1"/>
<circle cx="1260" cy="178" r="4.7" fill="#e8e8e8" stroke="#000" stroke-width="2.1"/>
<circle cx="1283" cy="178" r="4.7" fill="#e8e8e8" stroke="#000" stroke-width="2.1"/>
<circle cx="1275.5" cy="183.75" r="4.7" fill="#e8e8e8" stroke="#000" stroke-width="2.1"/>
<circle cx="1267.5" cy="187" r="4.7" fill="#e8e8e8" stroke="#000" stroke-width="2.1"/>
<line x1="940" y1="22.5" x2="946.25" y2="22.5" stroke="#000" stroke-width="2.5"/>
<text x="938" y="28.12" font-size="15.7" text-anchor="end" font-weight="bold">9</text>
<line x1="940" y1="67" x2="946.25" y2="67" stroke="#000" stroke-width="2.5"/>
<text x="938" y="72.62" font-size="15.7" text-anchor="end" font-weight="bold">8</text>
<line x1="940" y1="111.5" x2="946.25" y2="111.5" stroke="#000" stroke-width="2.5"/>
<text x="938" y="117.12" font-size="15.7" text-anchor="end" font-weight="bold">7</text>
<line x1="940" y1="156" x2="946.25" y2="156" stroke="#000" stroke-width="2.5"/>
<text x="938" y="161.62" font-size="15.7" text-anchor="end" font-weight="bold">6</text>
<line x1="940" y1="200.5" x2="946.25" y2="200.5" stroke="#000" stroke-width="2.5"/>
<text x="938" y="206.12" font-size="15.7" text-anchor="end" font-weight="bold">5</text>
<line x1="940" y1="245" x2="946.25" y2="245" stroke="#000" stroke-width="2.5"/>
<text x="938" y="250.62" font-size="15.7" text-anchor="end" font-weight="bold">4</text>
<line x1="940" y1="289.5" x2="946.25" y2="289.5" stroke="#000" stroke-width="2.5"/>
<text x="938" y="295.12" font-size="15.7" text-anchor="end" font-weight="bold">3</text>
<line x1="978.75" y1="289.5" x2="978.75" y2="295.75" stroke="#000" stroke-width="2.5"/>
<text x="986.25" y="311" font-size="18.2" transform="rotate(-45 986.25 311)" text-anchor="end" font-weight="bold">Mock</text>
<line x1="1027.5" y1="289.5" x2="1027.5" y2="295.75" stroke="#000" stroke-width="2.5"/>
<text x="1035" y="311" font-size="18.2" transform="rotate(-45 1035 311)" text-anchor="end" font-weight="bold">Veh</text>
<line x1="1076.25" y1="289.5" x2="1076.25" y2="295.75" stroke="#000" stroke-width="2.5"/>
<text x="1083.75" y="311" font-size="18.2" transform="rotate(-45 1083.75 311)" text-anchor="end" font-weight="bold">Abx</text>
<line x1="1125" y1="289.5" x2="1125" y2="295.75" stroke="#000" stroke-width="2.5"/>
<text x="1132.5" y="311" font-size="18.2" transform="rotate(-45 1132.5 311)" text-anchor="end" font-weight="bold">Amp</text>
<line x1="1173.75" y1="289.5" x2="1173.75" y2="295.75" stroke="#000" stroke-width="2.5"/>
<text x="1181.25" y="311" font-size="18.2" transform="rotate(-45 1181.25 311)" text-anchor="end" font-weight="bold">Van</text>
<line x1="1222.5" y1="289.5" x2="1222.5" y2="295.75" stroke="#000" stroke-width="2.5"/>
<text x="1230" y="311" font-size="18.2" transform="rotate(-45 1230 311)" text-anchor="end" font-weight="bold">Neo</text>
<line x1="1271.25" y1="289.5" x2="1271.25" y2="295.75" stroke="#000" stroke-width="2.5"/>
<text x="1278.75" y="311" font-size="18.2" transform="rotate(-45 1278.75 311)" text-anchor="end" font-weight="bold">Metro</text>
<text x="917" y="153.5" font-size="19.5" transform="rotate(-90 917 153.5)" text-anchor="middle" font-weight="bold" textLength="172" lengthAdjust="spacing">Colon Length (cm)</text>
<line x1="1026.25" y1="49.25" x2="1223.75" y2="49.25" stroke="#000" stroke-width="1.4"/>
<line x1="1026.25" y1="44.25" x2="1026.25" y2="54.25" stroke="#000" stroke-width="1.4"/>
<line x1="1223.75" y1="44.25" x2="1223.75" y2="54.25" stroke="#000" stroke-width="1.4"/>
<text x="1119.25" y="43.75" font-size="9.6" text-anchor="middle" font-weight="bold" textLength="42" lengthAdjust="spacing">P&lt;0.0001</text>
<line x1="1075.75" y1="68.75" x2="1223.75" y2="68.75" stroke="#000" stroke-width="1.4"/>
<line x1="1075.75" y1="63.75" x2="1075.75" y2="73.75" stroke="#000" stroke-width="1.4"/>
<line x1="1223.75" y1="63.75" x2="1223.75" y2="73.75" stroke="#000" stroke-width="1.4"/>
<text x="1147" y="63" font-size="9.6" text-anchor="middle" font-weight="bold" textLength="42" lengthAdjust="spacing">P=0.0018</text>
<line x1="1124.5" y1="88.25" x2="1223.75" y2="88.25" stroke="#000" stroke-width="1.4"/>
<line x1="1124.5" y1="83.25" x2="1124.5" y2="93.25" stroke="#000" stroke-width="1.4"/>
<line x1="1223.75" y1="83.25" x2="1223.75" y2="93.25" stroke="#000" stroke-width="1.4"/>
<text x="1169.25" y="83.25" font-size="9.6" text-anchor="middle" font-weight="bold" textLength="42" lengthAdjust="spacing">P&lt;0.0001</text>
<line x1="1173.75" y1="109.25" x2="1221.25" y2="109.25" stroke="#000" stroke-width="1.4"/>
<line x1="1173.75" y1="104.25" x2="1173.75" y2="114.25" stroke="#000" stroke-width="1.4"/>
<line x1="1221.25" y1="104.25" x2="1221.25" y2="114.25" stroke="#000" stroke-width="1.4"/>
<text x="1198" y="104.25" font-size="9.6" text-anchor="middle" font-weight="bold" textLength="42" lengthAdjust="spacing">P=0.0001</text>
<line x1="1226.25" y1="109.25" x2="1277" y2="109.25" stroke="#000" stroke-width="1.4"/>
<line x1="1226.25" y1="104.25" x2="1226.25" y2="114.25" stroke="#000" stroke-width="1.4"/>
<line x1="1277" y1="104.25" x2="1277" y2="114.25" stroke="#000" stroke-width="1.4"/>
<text x="1250.75" y="104.25" font-size="9.6" text-anchor="middle" font-weight="bold" textLength="42" lengthAdjust="spacing">P&lt;0.0001</text>
<text x="10" y="415" font-size="28">d</text>
<rect x="130.5" y="543.75" width="29" height="145" fill="#45678f" stroke="#000" stroke-width="2.5"/>
<rect x="180" y="583.75" width="29" height="105" fill="#9a9a9a" stroke="#000" stroke-width="2.5"/>
<rect x="229.75" y="600.75" width="29" height="88" fill="#0a8ab6" stroke="#000" stroke-width="2.5"/>
<rect x="279.25" y="616.25" width="29" height="72.5" fill="#c6c6c4" stroke="#000" stroke-width="2.5"/>
<rect x="329.25" y="635.75" width="29" height="53" fill="#00b2f6" stroke="#000" stroke-width="2.5"/>
<rect x="378.75" y="607.5" width="29" height="81.25" fill="#e8e8e8" stroke="#000" stroke-width="2.5"/>
<line x1="110.75" y1="680.5" x2="428.25" y2="680.5" stroke="#7a7a7a" stroke-width="2.3" stroke-dasharray="7.4 4.4"/>
<line x1="145" y1="530" x2="145" y2="560.5" stroke="#000" stroke-width="2"/>
<line x1="140.8" y1="530" x2="149.2" y2="530" stroke="#000" stroke-width="2"/>
<line x1="140.8" y1="560.5" x2="149.2" y2="560.5" stroke="#000" stroke-width="2"/>
<line x1="194.5" y1="567.5" x2="194.5" y2="598.75" stroke="#000" stroke-width="2"/>
<line x1="190.3" y1="567.5" x2="198.7" y2="567.5" stroke="#000" stroke-width="2"/>
<line x1="190.3" y1="598.75" x2="198.7" y2="598.75" stroke="#000" stroke-width="2"/>
<line x1="244.25" y1="589.5" x2="244.25" y2="610" stroke="#000" stroke-width="2"/>
<line x1="240.05" y1="589.5" x2="248.45" y2="589.5" stroke="#000" stroke-width="2"/>
<line x1="240.05" y1="610" x2="248.45" y2="610" stroke="#000" stroke-width="2"/>
<line x1="293.75" y1="611.25" x2="293.75" y2="619.5" stroke="#000" stroke-width="2"/>
<line x1="289.55" y1="611.25" x2="297.95" y2="611.25" stroke="#000" stroke-width="2"/>
<line x1="289.55" y1="619.5" x2="297.95" y2="619.5" stroke="#000" stroke-width="2"/>
<line x1="343.75" y1="630" x2="343.75" y2="641.25" stroke="#000" stroke-width="2"/>
<line x1="339.55" y1="630" x2="347.95" y2="630" stroke="#000" stroke-width="2"/>
<line x1="339.55" y1="641.25" x2="347.95" y2="641.25" stroke="#000" stroke-width="2"/>
<line x1="393.25" y1="596.25" x2="393.25" y2="618.75" stroke="#000" stroke-width="2"/>
<line x1="389.05" y1="596.25" x2="397.45" y2="596.25" stroke="#000" stroke-width="2"/>
<line x1="389.05" y1="618.75" x2="397.45" y2="618.75" stroke="#000" stroke-width="2"/>
<rect x="110.75" y="419.5" width="317.5" height="269.25" fill="none" stroke="#000" stroke-width="2.5"/>
<circle cx="145" cy="484.5" r="4.7" fill="#45678f" stroke="#000" stroke-width="2.1"/>
<circle cx="145" cy="525" r="4.7" fill="#45678f" stroke="#000" stroke-width="2.1"/>
<circle cx="145" cy="543.75" r="4.7" fill="#45678f" stroke="#000" stroke-width="2.1"/>
<circle cx="145" cy="573.25" r="4.7" fill="#45678f" stroke="#000" stroke-width="2.1"/>
<circle cx="145" cy="588.25" r="4.7" fill="#45678f" stroke="#000" stroke-width="2.1"/>
<circle cx="194.5" cy="525.75" r="4.7" fill="#9a9a9a" stroke="#000" stroke-width="2.1"/>
<circle cx="194.5" cy="579.5" r="4.7" fill="#9a9a9a" stroke="#000" stroke-width="2.1"/>
<circle cx="182" cy="597.5" r="4.7" fill="#9a9a9a" stroke="#000" stroke-width="2.1"/>
<circle cx="193" cy="607" r="4.7" fill="#9a9a9a" stroke="#000" stroke-width="2.1"/>
<circle cx="206.25" cy="607" r="4.7" fill="#9a9a9a" stroke="#000" stroke-width="2.1"/>
<circle cx="232" cy="580" r="4.7" fill="#0a8ab6" stroke="#000" stroke-width="2.1"/>
<circle cx="256.25" cy="576.25" r="4.7" fill="#0a8ab6" stroke="#000" stroke-width="2.1"/>
<circle cx="244.25" cy="597.5" r="4.7" fill="#0a8ab6" stroke="#000" stroke-width="2.1"/>
<circle cx="256.25" cy="619.5" r="4.7" fill="#0a8ab6" stroke="#000" stroke-width="2.1"/>
<circle cx="232" cy="625.5" r="4.7" fill="#0a8ab6" stroke="#000" stroke-width="2.1"/>
<circle cx="293.75" cy="606.25" r="4.7" fill="#c6c6c4" stroke="#000" stroke-width="2.1"/>
<circle cx="281.75" cy="615" r="4.7" fill="#c6c6c4" stroke="#000" stroke-width="2.1"/>
<circle cx="306.25" cy="614.25" r="4.7" fill="#c6c6c4" stroke="#000" stroke-width="2.1"/>
<circle cx="288.75" cy="623.75" r="4.7" fill="#c6c6c4" stroke="#000" stroke-width="2.1"/>
<circle cx="298.75" cy="622.5" r="4.7" fill="#c6c6c4" stroke="#000" stroke-width="2.1"/>
<circle cx="343.75" cy="605.75" r="4.7" fill="#00b2f6" stroke="#000" stroke-width="2.1"/>
<circle cx="343.75" cy="630" r="4.7" fill="#00b2f6" stroke="#000" stroke-width="2.1"/>
<circle cx="331.75" cy="642.5" r="4.7" fill="#00b2f6" stroke="#000" stroke-width="2.1"/>
<circle cx="343.75" cy="648.25" r="4.7" fill="#00b2f6" stroke="#000" stroke-width="2.1"/>
<circle cx="355.75" cy="648.25" r="4.7" fill="#00b2f6" stroke="#000" stroke-width="2.1"/>
<circle cx="381.25" cy="590" r="4.7" fill="#e8e8e8" stroke="#000" stroke-width="2.1"/>
<circle cx="393.75" cy="593.75" r="4.7" fill="#e8e8e8" stroke="#000" stroke-width="2.1"/>
<circle cx="405.5" cy="593.25" r="4.7" fill="#e8e8e8" stroke="#000" stroke-width="2.1"/>
<circle cx="393.75" cy="607" r="4.7" fill="#e8e8e8" stroke="#000" stroke-width="2.1"/>
<circle cx="393.25" cy="650.5" r="4.7" fill="#e8e8e8" stroke="#000" stroke-width="2.1"/>
<line x1="104.5" y1="688.75" x2="110.75" y2="688.75" stroke="#000" stroke-width="2.5"/>
<text x="103" y="694.94" font-size="17.3" text-anchor="end" font-weight="bold">0</text>
<line x1="104.5" y1="650.29" x2="110.75" y2="650.29" stroke="#000" stroke-width="2.5"/>
<text x="103" y="656.48" font-size="17.3" text-anchor="end" font-weight="bold">5</text>
<line x1="104.5" y1="611.82" x2="110.75" y2="611.82" stroke="#000" stroke-width="2.5"/>
<text x="103" y="618.01" font-size="17.3" text-anchor="end" font-weight="bold">10</text>
<line x1="104.5" y1="573.36" x2="110.75" y2="573.36" stroke="#000" stroke-width="2.5"/>
<text x="103" y="579.55" font-size="17.3" text-anchor="end" font-weight="bold">15</text>
<line x1="104.5" y1="534.89" x2="110.75" y2="534.89" stroke="#000" stroke-width="2.5"/>
<text x="103" y="541.09" font-size="17.3" text-anchor="end" font-weight="bold">20</text>
<line x1="104.5" y1="496.43" x2="110.75" y2="496.43" stroke="#000" stroke-width="2.5"/>
<text x="103" y="502.62" font-size="17.3" text-anchor="end" font-weight="bold">25</text>
<line x1="104.5" y1="457.96" x2="110.75" y2="457.96" stroke="#000" stroke-width="2.5"/>
<text x="103" y="464.16" font-size="17.3" text-anchor="end" font-weight="bold">30</text>
<line x1="104.5" y1="419.5" x2="110.75" y2="419.5" stroke="#000" stroke-width="2.5"/>
<text x="103" y="425.69" font-size="17.3" text-anchor="end" font-weight="bold">35</text>
<line x1="145" y1="688.75" x2="145" y2="695" stroke="#000" stroke-width="2.5"/>
<text x="151.5" y="710.75" font-size="18.2" transform="rotate(-45 151.5 710.75)" text-anchor="end" font-weight="bold">Veh</text>
<line x1="194.5" y1="688.75" x2="194.5" y2="695" stroke="#000" stroke-width="2.5"/>
<text x="201" y="710.75" font-size="18.2" transform="rotate(-45 201 710.75)" text-anchor="end" font-weight="bold">Abx</text>
<line x1="244.25" y1="688.75" x2="244.25" y2="695" stroke="#000" stroke-width="2.5"/>
<text x="250.75" y="710.75" font-size="18.2" transform="rotate(-45 250.75 710.75)" text-anchor="end" font-weight="bold">Amp</text>
<line x1="293.75" y1="688.75" x2="293.75" y2="695" stroke="#000" stroke-width="2.5"/>
<text x="300.25" y="710.75" font-size="18.2" transform="rotate(-45 300.25 710.75)" text-anchor="end" font-weight="bold">Van</text>
<line x1="343.75" y1="688.75" x2="343.75" y2="695" stroke="#000" stroke-width="2.5"/>
<text x="350.25" y="710.75" font-size="18.2" transform="rotate(-45 350.25 710.75)" text-anchor="end" font-weight="bold">Neo</text>
<line x1="393.25" y1="688.75" x2="393.25" y2="695" stroke="#000" stroke-width="2.5"/>
<text x="399.75" y="710.75" font-size="18.2" transform="rotate(-45 399.75 710.75)" text-anchor="end" font-weight="bold">Metro</text>
<text x="264.5" y="405.75" font-size="18" text-anchor="middle" font-weight="bold" font-style="italic">Il1b</text>
<text x="70" y="552" font-size="19.5" transform="rotate(-90 70 552)" text-anchor="middle" font-weight="bold" textLength="171" lengthAdjust="spacing">Fold change/Mock</text>
<line x1="145.75" y1="451.25" x2="344.5" y2="451.25" stroke="#000" stroke-width="1.4"/>
<line x1="145.75" y1="446.65" x2="145.75" y2="455.85" stroke="#000" stroke-width="1.4"/>
<line x1="344.5" y1="446.65" x2="344.5" y2="455.85" stroke="#000" stroke-width="1.4"/>
<text x="250.75" y="448" font-size="9.6" text-anchor="middle" font-weight="bold" textLength="42" lengthAdjust="spacing">P=0.0017</text>
<line x1="195.75" y1="475" x2="344.5" y2="475" stroke="#000" stroke-width="1.4"/>
<line x1="195.75" y1="470.4" x2="195.75" y2="479.6" stroke="#000" stroke-width="1.4"/>
<line x1="344.5" y1="470.4" x2="344.5" y2="479.6" stroke="#000" stroke-width="1.4"/>
<text x="275" y="471.25" font-size="9.6" text-anchor="middle" font-weight="bold" textLength="42" lengthAdjust="spacing">P=0.0161</text>
<rect x="528" y="524.25" width="29" height="168.75" fill="#45678f" stroke="#000" stroke-width="2.5"/>
<rect x="578" y="565" width="29" height="128" fill="#9a9a9a" stroke="#000" stroke-width="2.5"/>
<rect x="627.5" y="601.25" width="29" height="91.75" fill="#0a8ab6" stroke="#000" stroke-width="2.5"/>
<rect x="677.25" y="612" width="29" height="81" fill="#c6c6c4" stroke="#000" stroke-width="2.5"/>
<rect x="727.25" y="643.75" width="29" height="49.25" fill="#00b2f6" stroke="#000" stroke-width="2.5"/>
<rect x="776.75" y="630.5" width="29" height="62.5" fill="#e8e8e8" stroke="#000" stroke-width="2.5"/>
<line x1="509.25" y1="684.5" x2="826.25" y2="684.5" stroke="#7a7a7a" stroke-width="2.3" stroke-dasharray="7.4 4.4"/>
<line x1="542.5" y1="506.25" x2="542.5" y2="545" stroke="#000" stroke-width="2"/>
<line x1="538.3" y1="506.25" x2="546.7" y2="506.25" stroke="#000" stroke-width="2"/>
<line x1="538.3" y1="545" x2="546.7" y2="545" stroke="#000" stroke-width="2"/>
<line x1="592.5" y1="543.75" x2="592.5" y2="585" stroke="#000" stroke-width="2"/>
<line x1="588.3" y1="543.75" x2="596.7" y2="543.75" stroke="#000" stroke-width="2"/>
<line x1="588.3" y1="585" x2="596.7" y2="585" stroke="#000" stroke-width="2"/>
<line x1="642" y1="592.5" x2="642" y2="610" stroke="#000" stroke-width="2"/>
<line x1="637.8" y1="592.5" x2="646.2" y2="592.5" stroke="#000" stroke-width="2"/>
<line x1="637.8" y1="610" x2="646.2" y2="610" stroke="#000" stroke-width="2"/>
<line x1="691.75" y1="602" x2="691.75" y2="619.5" stroke="#000" stroke-width="2"/>
<line x1="687.55" y1="602" x2="695.95" y2="602" stroke="#000" stroke-width="2"/>
<line x1="687.55" y1="619.5" x2="695.95" y2="619.5" stroke="#000" stroke-width="2"/>
<line x1="741.75" y1="630.75" x2="741.75" y2="655" stroke="#000" stroke-width="2"/>
<line x1="737.55" y1="630.75" x2="745.95" y2="630.75" stroke="#000" stroke-width="2"/>
<line x1="737.55" y1="655" x2="745.95" y2="655" stroke="#000" stroke-width="2"/>
<line x1="791.25" y1="611.25" x2="791.25" y2="650" stroke="#000" stroke-width="2"/>
<line x1="787.05" y1="611.25" x2="795.45" y2="611.25" stroke="#000" stroke-width="2"/>
<line x1="787.05" y1="650" x2="795.45" y2="650" stroke="#000" stroke-width="2"/>
<rect x="509.25" y="424.5" width="317" height="268.5" fill="none" stroke="#000" stroke-width="2.5"/>
<circle cx="542.5" cy="455" r="4.7" fill="#45678f" stroke="#000" stroke-width="2.1"/>
<circle cx="542.5" cy="503.25" r="4.7" fill="#45678f" stroke="#000" stroke-width="2.1"/>
<circle cx="542.5" cy="523.25" r="4.7" fill="#45678f" stroke="#000" stroke-width="2.1"/>
<circle cx="542.5" cy="559.25" r="4.7" fill="#45678f" stroke="#000" stroke-width="2.1"/>
<circle cx="542.5" cy="576.75" r="4.7" fill="#45678f" stroke="#000" stroke-width="2.1"/>
<circle cx="592.5" cy="509.5" r="4.7" fill="#9a9a9a" stroke="#000" stroke-width="2.1"/>
<circle cx="592.5" cy="526.25" r="4.7" fill="#9a9a9a" stroke="#000" stroke-width="2.1"/>
<circle cx="592.5" cy="568.25" r="4.7" fill="#9a9a9a" stroke="#000" stroke-width="2.1"/>
<circle cx="580.5" cy="611.25" r="4.7" fill="#9a9a9a" stroke="#000" stroke-width="2.1"/>
<circle cx="604.25" cy="604.5" r="4.7" fill="#9a9a9a" stroke="#000" stroke-width="2.1"/>
<circle cx="630" cy="580.75" r="4.7" fill="#0a8ab6" stroke="#000" stroke-width="2.1"/>
<circle cx="654.25" cy="585" r="4.7" fill="#0a8ab6" stroke="#000" stroke-width="2.1"/>
<circle cx="642" cy="593.25" r="4.7" fill="#0a8ab6" stroke="#000" stroke-width="2.1"/>
<circle cx="642" cy="612" r="4.7" fill="#0a8ab6" stroke="#000" stroke-width="2.1"/>
<circle cx="642" cy="632" r="4.7" fill="#0a8ab6" stroke="#000" stroke-width="2.1"/>
<circle cx="691.75" cy="590.75" r="4.7" fill="#c6c6c4" stroke="#000" stroke-width="2.1"/>
<circle cx="679.5" cy="603.25" r="4.7" fill="#c6c6c4" stroke="#000" stroke-width="2.1"/>
<circle cx="703.75" cy="600.5" r="4.7" fill="#c6c6c4" stroke="#000" stroke-width="2.1"/>
<circle cx="679.5" cy="633.25" r="4.7" fill="#c6c6c4" stroke="#000" stroke-width="2.1"/>
<circle cx="703.75" cy="627.5" r="4.7" fill="#c6c6c4" stroke="#000" stroke-width="2.1"/>
<circle cx="729.5" cy="615" r="4.7" fill="#00b2f6" stroke="#000" stroke-width="2.1"/>
<circle cx="753.75" cy="613.75" r="4.7" fill="#00b2f6" stroke="#000" stroke-width="2.1"/>
<circle cx="729.5" cy="661.25" r="4.7" fill="#00b2f6" stroke="#000" stroke-width="2.1"/>
<circle cx="741.75" cy="664.5" r="4.7" fill="#00b2f6" stroke="#000" stroke-width="2.1"/>
<circle cx="753.75" cy="661.25" r="4.7" fill="#00b2f6" stroke="#000" stroke-width="2.1"/>
<circle cx="779.5" cy="589.5" r="4.7" fill="#e8e8e8" stroke="#000" stroke-width="2.1"/>
<circle cx="803.75" cy="582.5" r="4.7" fill="#e8e8e8" stroke="#000" stroke-width="2.1"/>
<circle cx="791.25" cy="644.5" r="4.7" fill="#e8e8e8" stroke="#000" stroke-width="2.1"/>
<circle cx="779.5" cy="666.25" r="4.7" fill="#e8e8e8" stroke="#000" stroke-width="2.1"/>
<circle cx="803.75" cy="665.5" r="4.7" fill="#e8e8e8" stroke="#000" stroke-width="2.1"/>
<line x1="503" y1="693" x2="509.25" y2="693" stroke="#000" stroke-width="2.5"/>
<text x="501" y="699.19" font-size="17.3" text-anchor="end" font-weight="bold">0</text>
<line x1="503" y1="603.5" x2="509.25" y2="603.5" stroke="#000" stroke-width="2.5"/>
<text x="501" y="609.69" font-size="17.3" text-anchor="end" font-weight="bold">10</text>
<line x1="503" y1="514" x2="509.25" y2="514" stroke="#000" stroke-width="2.5"/>
<text x="501" y="520.19" font-size="17.3" text-anchor="end" font-weight="bold">20</text>
<line x1="503" y1="424.5" x2="509.25" y2="424.5" stroke="#000" stroke-width="2.5"/>
<text x="501" y="430.69" font-size="17.3" text-anchor="end" font-weight="bold">30</text>
<line x1="542.5" y1="693" x2="542.5" y2="699.25" stroke="#000" stroke-width="2.5"/>
<text x="549" y="715" font-size="18.2" transform="rotate(-45 549 715)" text-anchor="end" font-weight="bold">Veh</text>
<line x1="592.5" y1="693" x2="592.5" y2="699.25" stroke="#000" stroke-width="2.5"/>
<text x="599" y="715" font-size="18.2" transform="rotate(-45 599 715)" text-anchor="end" font-weight="bold">Abx</text>
<line x1="642" y1="693" x2="642" y2="699.25" stroke="#000" stroke-width="2.5"/>
<text x="648.5" y="715" font-size="18.2" transform="rotate(-45 648.5 715)" text-anchor="end" font-weight="bold">Amp</text>
<line x1="691.75" y1="693" x2="691.75" y2="699.25" stroke="#000" stroke-width="2.5"/>
<text x="698.25" y="715" font-size="18.2" transform="rotate(-45 698.25 715)" text-anchor="end" font-weight="bold">Van</text>
<line x1="741.75" y1="693" x2="741.75" y2="699.25" stroke="#000" stroke-width="2.5"/>
<text x="748.25" y="715" font-size="18.2" transform="rotate(-45 748.25 715)" text-anchor="end" font-weight="bold">Neo</text>
<line x1="791.25" y1="693" x2="791.25" y2="699.25" stroke="#000" stroke-width="2.5"/>
<text x="797.75" y="715" font-size="18.2" transform="rotate(-45 797.75 715)" text-anchor="end" font-weight="bold">Metro</text>
<text x="663.25" y="410" font-size="18" text-anchor="middle" font-weight="bold" font-style="italic">Il6</text>
<line x1="543" y1="443" x2="741.75" y2="443" stroke="#000" stroke-width="1.4"/>
<line x1="543" y1="438.4" x2="543" y2="447.6" stroke="#000" stroke-width="1.4"/>
<line x1="741.75" y1="438.4" x2="741.75" y2="447.6" stroke="#000" stroke-width="1.4"/>
<text x="644.5" y="440" font-size="9.6" text-anchor="middle" font-weight="bold" textLength="42" lengthAdjust="spacing">P=0.0012</text>
<line x1="593" y1="462.5" x2="741.75" y2="462.5" stroke="#000" stroke-width="1.4"/>
<line x1="593" y1="457.9" x2="593" y2="467.1" stroke="#000" stroke-width="1.4"/>
<line x1="741.75" y1="457.9" x2="741.75" y2="467.1" stroke="#000" stroke-width="1.4"/>
<text x="668.75" y="459.5" font-size="9.6" text-anchor="middle" font-weight="bold" textLength="42" lengthAdjust="spacing">P=0.0097</text>
<rect x="925.5" y="512" width="29" height="180" fill="#45678f" stroke="#000" stroke-width="2.5"/>
<rect x="975" y="595.5" width="29" height="96.5" fill="#9a9a9a" stroke="#000" stroke-width="2.5"/>
<rect x="1025" y="589.5" width="29" height="102.5" fill="#0a8ab6" stroke="#000" stroke-width="2.5"/>
<rect x="1075" y="638.25" width="29" height="53.75" fill="#c6c6c4" stroke="#000" stroke-width="2.5"/>
<rect x="1124.75" y="667.5" width="29" height="24.5" fill="#00b2f6" stroke="#000" stroke-width="2.5"/>
<rect x="1174.75" y="663" width="29" height="29" fill="#e8e8e8" stroke="#000" stroke-width="2.5"/>
<line x1="906.75" y1="678.25" x2="1223.75" y2="678.25" stroke="#7a7a7a" stroke-width="2.3" stroke-dasharray="7.4 4.4"/>
<line x1="940" y1="491.75" x2="940" y2="530" stroke="#000" stroke-width="2"/>
<line x1="935.8" y1="491.75" x2="944.2" y2="491.75" stroke="#000" stroke-width="2"/>
<line x1="935.8" y1="530" x2="944.2" y2="530" stroke="#000" stroke-width="2"/>
<line x1="989.5" y1="589.5" x2="989.5" y2="597.5" stroke="#000" stroke-width="2"/>
<line x1="985.3" y1="589.5" x2="993.7" y2="589.5" stroke="#000" stroke-width="2"/>
<line x1="985.3" y1="597.5" x2="993.7" y2="597.5" stroke="#000" stroke-width="2"/>
<line x1="1039.5" y1="573.75" x2="1039.5" y2="602.5" stroke="#000" stroke-width="2"/>
<line x1="1035.3" y1="573.75" x2="1043.7" y2="573.75" stroke="#000" stroke-width="2"/>
<line x1="1035.3" y1="602.5" x2="1043.7" y2="602.5" stroke="#000" stroke-width="2"/>
<line x1="1089.5" y1="627.5" x2="1089.5" y2="647.5" stroke="#000" stroke-width="2"/>
<line x1="1085.3" y1="627.5" x2="1093.7" y2="627.5" stroke="#000" stroke-width="2"/>
<line x1="1085.3" y1="647.5" x2="1093.7" y2="647.5" stroke="#000" stroke-width="2"/>
<line x1="1139.25" y1="663.75" x2="1139.25" y2="671.25" stroke="#000" stroke-width="2"/>
<line x1="1135.05" y1="663.75" x2="1143.45" y2="663.75" stroke="#000" stroke-width="2"/>
<line x1="1135.05" y1="671.25" x2="1143.45" y2="671.25" stroke="#000" stroke-width="2"/>
<line x1="1189.25" y1="657.5" x2="1189.25" y2="668.75" stroke="#000" stroke-width="2"/>
<line x1="1185.05" y1="657.5" x2="1193.45" y2="657.5" stroke="#000" stroke-width="2"/>
<line x1="1185.05" y1="668.75" x2="1193.45" y2="668.75" stroke="#000" stroke-width="2"/>
<rect x="906.75" y="423.75" width="317" height="268.25" fill="none" stroke="#000" stroke-width="2.5"/>
<circle cx="940" cy="457" r="4.7" fill="#45678f" stroke="#000" stroke-width="2.1"/>
<circle cx="940" cy="474.25" r="4.7" fill="#45678f" stroke="#000" stroke-width="2.1"/>
<circle cx="927.5" cy="536.75" r="4.7" fill="#45678f" stroke="#000" stroke-width="2.1"/>
<circle cx="952" cy="539.25" r="4.7" fill="#45678f" stroke="#000" stroke-width="2.1"/>
<circle cx="940" cy="549.25" r="4.7" fill="#45678f" stroke="#000" stroke-width="2.1"/>
<circle cx="989.5" cy="579.25" r="4.7" fill="#9a9a9a" stroke="#000" stroke-width="2.1"/>
<circle cx="977.5" cy="592.5" r="4.7" fill="#9a9a9a" stroke="#000" stroke-width="2.1"/>
<circle cx="1002" cy="593" r="4.7" fill="#9a9a9a" stroke="#000" stroke-width="2.1"/>
<circle cx="989.5" cy="600" r="4.7" fill="#9a9a9a" stroke="#000" stroke-width="2.1"/>
<circle cx="989.5" cy="613" r="4.7" fill="#9a9a9a" stroke="#000" stroke-width="2.1"/>
<circle cx="1039.5" cy="550.5" r="4.7" fill="#0a8ab6" stroke="#000" stroke-width="2.1"/>
<circle cx="1039.5" cy="568.75" r="4.7" fill="#0a8ab6" stroke="#000" stroke-width="2.1"/>
<circle cx="1027.5" cy="596.25" r="4.7" fill="#0a8ab6" stroke="#000" stroke-width="2.1"/>
<circle cx="1051.75" cy="595.5" r="4.7" fill="#0a8ab6" stroke="#000" stroke-width="2.1"/>
<circle cx="1039.5" cy="631.75" r="4.7" fill="#0a8ab6" stroke="#000" stroke-width="2.1"/>
<circle cx="1089.5" cy="607.5" r="4.7" fill="#c6c6c4" stroke="#000" stroke-width="2.1"/>
<circle cx="1089.5" cy="625.5" r="4.7" fill="#c6c6c4" stroke="#000" stroke-width="2.1"/>
<circle cx="1089.5" cy="637.5" r="4.7" fill="#c6c6c4" stroke="#000" stroke-width="2.1"/>
<circle cx="1089.5" cy="652.5" r="4.7" fill="#c6c6c4" stroke="#000" stroke-width="2.1"/>
<circle cx="1089.5" cy="663.75" r="4.7" fill="#c6c6c4" stroke="#000" stroke-width="2.1"/>
<circle cx="1139.25" cy="646.25" r="4.7" fill="#00b2f6" stroke="#000" stroke-width="2.1"/>
<circle cx="1139.25" cy="662" r="4.7" fill="#00b2f6" stroke="#000" stroke-width="2.1"/>
<circle cx="1127.5" cy="669.25" r="4.7" fill="#00b2f6" stroke="#000" stroke-width="2.1"/>
<circle cx="1151.25" cy="670" r="4.7" fill="#00b2f6" stroke="#000" stroke-width="2.1"/>
<circle cx="1139.25" cy="678" r="4.7" fill="#00b2f6" stroke="#000" stroke-width="2.1"/>
<circle cx="1189.25" cy="635.5" r="4.7" fill="#e8e8e8" stroke="#000" stroke-width="2.1"/>
<circle cx="1189.25" cy="652.5" r="4.7" fill="#e8e8e8" stroke="#000" stroke-width="2.1"/>
<circle cx="1177.5" cy="667.5" r="4.7" fill="#e8e8e8" stroke="#000" stroke-width="2.1"/>
<circle cx="1190" cy="678" r="4.7" fill="#e8e8e8" stroke="#000" stroke-width="2.1"/>
<circle cx="1202" cy="677" r="4.7" fill="#e8e8e8" stroke="#000" stroke-width="2.1"/>
<line x1="900.5" y1="692" x2="906.75" y2="692" stroke="#000" stroke-width="2.5"/>
<text x="898.75" y="698.19" font-size="17.3" text-anchor="end" font-weight="bold">0</text>
<line x1="900.5" y1="624.94" x2="906.75" y2="624.94" stroke="#000" stroke-width="2.5"/>
<text x="898.75" y="631.13" font-size="17.3" text-anchor="end" font-weight="bold">5</text>
<line x1="900.5" y1="557.88" x2="906.75" y2="557.88" stroke="#000" stroke-width="2.5"/>
<text x="898.75" y="564.07" font-size="17.3" text-anchor="end" font-weight="bold">10</text>
<line x1="900.5" y1="490.81" x2="906.75" y2="490.81" stroke="#000" stroke-width="2.5"/>
<text x="898.75" y="497.01" font-size="17.3" text-anchor="end" font-weight="bold">15</text>
<line x1="900.5" y1="423.75" x2="906.75" y2="423.75" stroke="#000" stroke-width="2.5"/>
<text x="898.75" y="429.94" font-size="17.3" text-anchor="end" font-weight="bold">20</text>
<line x1="940" y1="692" x2="940" y2="698.25" stroke="#000" stroke-width="2.5"/>
<text x="946.5" y="714" font-size="18.2" transform="rotate(-45 946.5 714)" text-anchor="end" font-weight="bold">Veh</text>
<line x1="989.5" y1="692" x2="989.5" y2="698.25" stroke="#000" stroke-width="2.5"/>
<text x="996" y="714" font-size="18.2" transform="rotate(-45 996 714)" text-anchor="end" font-weight="bold">Abx</text>
<line x1="1039.5" y1="692" x2="1039.5" y2="698.25" stroke="#000" stroke-width="2.5"/>
<text x="1046" y="714" font-size="18.2" transform="rotate(-45 1046 714)" text-anchor="end" font-weight="bold">Amp</text>
<line x1="1089.5" y1="692" x2="1089.5" y2="698.25" stroke="#000" stroke-width="2.5"/>
<text x="1096" y="714" font-size="18.2" transform="rotate(-45 1096 714)" text-anchor="end" font-weight="bold">Van</text>
<line x1="1139.25" y1="692" x2="1139.25" y2="698.25" stroke="#000" stroke-width="2.5"/>
<text x="1145.75" y="714" font-size="18.2" transform="rotate(-45 1145.75 714)" text-anchor="end" font-weight="bold">Neo</text>
<line x1="1189.25" y1="692" x2="1189.25" y2="698.25" stroke="#000" stroke-width="2.5"/>
<text x="1195.75" y="714" font-size="18.2" transform="rotate(-45 1195.75 714)" text-anchor="end" font-weight="bold">Metro</text>
<text x="1061.25" y="408.75" font-size="18" text-anchor="middle" font-weight="bold" font-style="italic">Tnfa</text>
<line x1="940" y1="441.75" x2="1139.25" y2="441.75" stroke="#000" stroke-width="1.4"/>
<line x1="940" y1="437.15" x2="940" y2="446.35" stroke="#000" stroke-width="1.4"/>
<line x1="1139.25" y1="437.15" x2="1139.25" y2="446.35" stroke="#000" stroke-width="1.4"/>
<text x="1040.75" y="438.75" font-size="9.6" text-anchor="middle" font-weight="bold" textLength="42" lengthAdjust="spacing">P&lt;0.0001</text>
<line x1="990" y1="461.75" x2="1139.25" y2="461.75" stroke="#000" stroke-width="1.4"/>
<line x1="990" y1="457.15" x2="990" y2="466.35" stroke="#000" stroke-width="1.4"/>
<line x1="1139.25" y1="457.15" x2="1139.25" y2="466.35" stroke="#000" stroke-width="1.4"/>
<text x="1067" y="458.25" font-size="9.6" text-anchor="middle" font-weight="bold" textLength="42" lengthAdjust="spacing">P&lt;0.0001</text>
<text x="10" y="824.5" font-size="28">e</text>
<rect x="130.25" y="945.5" width="29.5" height="167" fill="#45678f" stroke="#000" stroke-width="2.5"/>
<rect x="179.5" y="1055.5" width="29.5" height="57" fill="#9a9a9a" stroke="#000" stroke-width="2.5"/>
<rect x="228.5" y="1033.75" width="29.5" height="78.75" fill="#0a8ab6" stroke="#000" stroke-width="2.5"/>
<rect x="277.75" y="1025" width="29.5" height="87.5" fill="#c6c6c4" stroke="#000" stroke-width="2.5"/>
<rect x="326.5" y="1077.5" width="29.5" height="35" fill="#00b2f6" stroke="#000" stroke-width="2.5"/>
<rect x="375.75" y="1070" width="29.5" height="42.5" fill="#e8e8e8" stroke="#000" stroke-width="2.5"/>
<rect x="126.25" y="977" width="37.5" height="13" fill="#fff"/>
<line x1="145" y1="928.25" x2="145" y2="961.25" stroke="#000" stroke-width="2"/>
<line x1="140.8" y1="928.25" x2="149.2" y2="928.25" stroke="#000" stroke-width="2"/>
<line x1="140.8" y1="961.25" x2="149.2" y2="961.25" stroke="#000" stroke-width="2"/>
<line x1="194.25" y1="1050" x2="194.25" y2="1061.25" stroke="#000" stroke-width="2"/>
<line x1="190.05" y1="1050" x2="198.45" y2="1050" stroke="#000" stroke-width="2"/>
<line x1="190.05" y1="1061.25" x2="198.45" y2="1061.25" stroke="#000" stroke-width="2"/>
<line x1="243.25" y1="1017.5" x2="243.25" y2="1049.25" stroke="#000" stroke-width="2"/>
<line x1="239.05" y1="1017.5" x2="247.45" y2="1017.5" stroke="#000" stroke-width="2"/>
<line x1="239.05" y1="1049.25" x2="247.45" y2="1049.25" stroke="#000" stroke-width="2"/>
<line x1="292.5" y1="1019.5" x2="292.5" y2="1030.5" stroke="#000" stroke-width="2"/>
<line x1="288.3" y1="1019.5" x2="296.7" y2="1019.5" stroke="#000" stroke-width="2"/>
<line x1="288.3" y1="1030.5" x2="296.7" y2="1030.5" stroke="#000" stroke-width="2"/>
<line x1="341.25" y1="1071.25" x2="341.25" y2="1083.75" stroke="#000" stroke-width="2"/>
<line x1="337.05" y1="1071.25" x2="345.45" y2="1071.25" stroke="#000" stroke-width="2"/>
<line x1="337.05" y1="1083.75" x2="345.45" y2="1083.75" stroke="#000" stroke-width="2"/>
<line x1="390.5" y1="1056.25" x2="390.5" y2="1082.5" stroke="#000" stroke-width="2"/>
<line x1="386.3" y1="1056.25" x2="394.7" y2="1056.25" stroke="#000" stroke-width="2"/>
<line x1="386.3" y1="1082.5" x2="394.7" y2="1082.5" stroke="#000" stroke-width="2"/>
<rect x="111.75" y="849.25" width="312" height="263.25" fill="none" stroke="#000" stroke-width="2.5"/>
<rect x="108.75" y="977" width="6" height="13" fill="#fff"/>
<line x1="106.95" y1="980.2" x2="116.55" y2="973.8" stroke="#000" stroke-width="1.9"/>
<line x1="106.95" y1="993.2" x2="116.55" y2="986.8" stroke="#000" stroke-width="1.9"/>
<circle cx="145.5" cy="886.75" r="4.7" fill="#45678f" stroke="#000" stroke-width="2.1"/>
<circle cx="145.5" cy="937.5" r="4.7" fill="#45678f" stroke="#000" stroke-width="2.1"/>
<circle cx="133.25" cy="961.75" r="4.7" fill="#45678f" stroke="#000" stroke-width="2.1"/>
<circle cx="157.5" cy="958" r="4.7" fill="#45678f" stroke="#000" stroke-width="2.1"/>
<circle cx="182.5" cy="1048.75" r="4.7" fill="#9a9a9a" stroke="#000" stroke-width="2.1"/>
<circle cx="198.25" cy="1050" r="4.7" fill="#9a9a9a" stroke="#000" stroke-width="2.1"/>
<circle cx="207" cy="1041.75" r="4.7" fill="#9a9a9a" stroke="#000" stroke-width="2.1"/>
<circle cx="190" cy="1055" r="4.7" fill="#9a9a9a" stroke="#000" stroke-width="2.1"/>
<circle cx="194.25" cy="1077" r="4.7" fill="#9a9a9a" stroke="#000" stroke-width="2.1"/>
<circle cx="231.25" cy="1001.25" r="4.7" fill="#0a8ab6" stroke="#000" stroke-width="2.1"/>
<circle cx="255.5" cy="998.25" r="4.7" fill="#0a8ab6" stroke="#000" stroke-width="2.1"/>
<circle cx="243.25" cy="1020" r="4.7" fill="#0a8ab6" stroke="#000" stroke-width="2.1"/>
<circle cx="231.25" cy="1073.25" r="4.7" fill="#0a8ab6" stroke="#000" stroke-width="2.1"/>
<circle cx="255.5" cy="1071.25" r="4.7" fill="#0a8ab6" stroke="#000" stroke-width="2.1"/>
<circle cx="292.5" cy="1008" r="4.7" fill="#c6c6c4" stroke="#000" stroke-width="2.1"/>
<circle cx="280" cy="1023.75" r="4.7" fill="#c6c6c4" stroke="#000" stroke-width="2.1"/>
<circle cx="304.5" cy="1023.75" r="4.7" fill="#c6c6c4" stroke="#000" stroke-width="2.1"/>
<circle cx="292.5" cy="1027.5" r="4.7" fill="#c6c6c4" stroke="#000" stroke-width="2.1"/>
<circle cx="292.5" cy="1045.5" r="4.7" fill="#c6c6c4" stroke="#000" stroke-width="2.1"/>
<circle cx="329.25" cy="1064.25" r="4.7" fill="#00b2f6" stroke="#000" stroke-width="2.1"/>
<circle cx="353.25" cy="1065.5" r="4.7" fill="#00b2f6" stroke="#000" stroke-width="2.1"/>
<circle cx="341.25" cy="1068.75" r="4.7" fill="#00b2f6" stroke="#000" stroke-width="2.1"/>
<circle cx="341.25" cy="1083.75" r="4.7" fill="#00b2f6" stroke="#000" stroke-width="2.1"/>
<circle cx="341.25" cy="1100.5" r="4.7" fill="#00b2f6" stroke="#000" stroke-width="2.1"/>
<circle cx="390.5" cy="1023" r="4.7" fill="#e8e8e8" stroke="#000" stroke-width="2.1"/>
<circle cx="378.75" cy="1073.75" r="4.7" fill="#e8e8e8" stroke="#000" stroke-width="2.1"/>
<circle cx="402.5" cy="1075" r="4.7" fill="#e8e8e8" stroke="#000" stroke-width="2.1"/>
<circle cx="390.5" cy="1076.25" r="4.7" fill="#e8e8e8" stroke="#000" stroke-width="2.1"/>
<circle cx="391.25" cy="1096.75" r="4.7" fill="#e8e8e8" stroke="#000" stroke-width="2.1"/>
<line x1="105.5" y1="849.25" x2="111.75" y2="849.25" stroke="#000" stroke-width="2.5"/>
<text x="103.75" y="855.44" font-size="17.3" text-anchor="end" font-weight="bold">1200</text>
<line x1="105.5" y1="883.75" x2="111.75" y2="883.75" stroke="#000" stroke-width="2.5"/>
<text x="103.75" y="889.94" font-size="17.3" text-anchor="end" font-weight="bold">1000</text>
<line x1="105.5" y1="917.5" x2="111.75" y2="917.5" stroke="#000" stroke-width="2.5"/>
<text x="103.75" y="923.69" font-size="17.3" text-anchor="end" font-weight="bold">800</text>
<line x1="105.5" y1="951.25" x2="111.75" y2="951.25" stroke="#000" stroke-width="2.5"/>
<text x="103.75" y="957.44" font-size="17.3" text-anchor="end" font-weight="bold">600</text>
<line x1="105.5" y1="991.25" x2="111.75" y2="991.25" stroke="#000" stroke-width="2.5"/>
<text x="103.75" y="997.44" font-size="17.3" text-anchor="end" font-weight="bold">300</text>
<line x1="105.5" y1="1031.25" x2="111.75" y2="1031.25" stroke="#000" stroke-width="2.5"/>
<text x="103.75" y="1037.44" font-size="17.3" text-anchor="end" font-weight="bold">200</text>
<line x1="105.5" y1="1072" x2="111.75" y2="1072" stroke="#000" stroke-width="2.5"/>
<text x="103.75" y="1078.19" font-size="17.3" text-anchor="end" font-weight="bold">100</text>
<line x1="105.5" y1="1112.5" x2="111.75" y2="1112.5" stroke="#000" stroke-width="2.5"/>
<text x="103.75" y="1118.69" font-size="17.3" text-anchor="end" font-weight="bold">0</text>
<line x1="145" y1="1112.5" x2="145" y2="1118.75" stroke="#000" stroke-width="2.5"/>
<text x="151.5" y="1134.5" font-size="18.2" transform="rotate(-45 151.5 1134.5)" text-anchor="end" font-weight="bold">Veh</text>
<line x1="194.25" y1="1112.5" x2="194.25" y2="1118.75" stroke="#000" stroke-width="2.5"/>
<text x="200.75" y="1134.5" font-size="18.2" transform="rotate(-45 200.75 1134.5)" text-anchor="end" font-weight="bold">Abx</text>
<line x1="243.25" y1="1112.5" x2="243.25" y2="1118.75" stroke="#000" stroke-width="2.5"/>
<text x="249.75" y="1134.5" font-size="18.2" transform="rotate(-45 249.75 1134.5)" text-anchor="end" font-weight="bold">Amp</text>
<line x1="292.5" y1="1112.5" x2="292.5" y2="1118.75" stroke="#000" stroke-width="2.5"/>
<text x="299" y="1134.5" font-size="18.2" transform="rotate(-45 299 1134.5)" text-anchor="end" font-weight="bold">Van</text>
<line x1="341.25" y1="1112.5" x2="341.25" y2="1118.75" stroke="#000" stroke-width="2.5"/>
<text x="347.75" y="1134.5" font-size="18.2" transform="rotate(-45 347.75 1134.5)" text-anchor="end" font-weight="bold">Neo</text>
<line x1="390.5" y1="1112.5" x2="390.5" y2="1118.75" stroke="#000" stroke-width="2.5"/>
<text x="397" y="1134.5" font-size="18.2" transform="rotate(-45 397 1134.5)" text-anchor="end" font-weight="bold">Metro</text>
<text x="262.5" y="842.5" font-size="19" text-anchor="middle" font-weight="bold">IL-6</text>
<text x="55" y="979" font-size="19.5" transform="rotate(-90 55 979)" text-anchor="middle" font-weight="bold" textLength="111" lengthAdjust="spacing">pg/g protein</text>
<line x1="144.25" y1="872.5" x2="342.5" y2="872.5" stroke="#000" stroke-width="1.4"/>
<line x1="144.25" y1="867.9" x2="144.25" y2="877.1" stroke="#000" stroke-width="1.4"/>
<line x1="342.5" y1="867.9" x2="342.5" y2="877.1" stroke="#000" stroke-width="1.4"/>
<text x="245" y="869.5" font-size="9.6" text-anchor="middle" font-weight="bold" textLength="42" lengthAdjust="spacing">P=0.0005</text>
<line x1="195.75" y1="894.25" x2="341.75" y2="894.25" stroke="#000" stroke-width="1.4"/>
<line x1="195.75" y1="889.65" x2="195.75" y2="898.85" stroke="#000" stroke-width="1.4"/>
<line x1="341.75" y1="889.65" x2="341.75" y2="898.85" stroke="#000" stroke-width="1.4"/>
<text x="272" y="890.75" font-size="9.6" text-anchor="middle" font-weight="bold" textLength="42" lengthAdjust="spacing">P=0.0432</text>
<text x="516" y="824.5" font-size="28">f</text>
<rect x="598.62" y="1072.5" width="31.75" height="38" fill="#095a8c" stroke="#000" stroke-width="2.5"/>
<rect x="650.88" y="977.5" width="31.75" height="133" fill="#7f7f7f" stroke="#000" stroke-width="2.5"/>
<rect x="702.38" y="935.75" width="31.75" height="174.75" fill="#0a8ab6" stroke="#000" stroke-width="2.5"/>
<rect x="754.62" y="930.5" width="31.75" height="180" fill="#00b2f6" stroke="#000" stroke-width="2.5"/>
<line x1="614.5" y1="1066.25" x2="614.5" y2="1078.75" stroke="#000" stroke-width="2"/>
<line x1="610.3" y1="1066.25" x2="618.7" y2="1066.25" stroke="#000" stroke-width="2"/>
<line x1="610.3" y1="1078.75" x2="618.7" y2="1078.75" stroke="#000" stroke-width="2"/>
<line x1="666.75" y1="965.75" x2="666.75" y2="989.25" stroke="#000" stroke-width="2"/>
<line x1="662.55" y1="965.75" x2="670.95" y2="965.75" stroke="#000" stroke-width="2"/>
<line x1="662.55" y1="989.25" x2="670.95" y2="989.25" stroke="#000" stroke-width="2"/>
<line x1="718.25" y1="932.5" x2="718.25" y2="937.5" stroke="#000" stroke-width="2"/>
<line x1="714.05" y1="932.5" x2="722.45" y2="932.5" stroke="#000" stroke-width="2"/>
<line x1="714.05" y1="937.5" x2="722.45" y2="937.5" stroke="#000" stroke-width="2"/>
<line x1="770.5" y1="925" x2="770.5" y2="935" stroke="#000" stroke-width="2"/>
<line x1="766.3" y1="925" x2="774.7" y2="925" stroke="#000" stroke-width="2"/>
<line x1="766.3" y1="935" x2="774.7" y2="935" stroke="#000" stroke-width="2"/>
<rect x="580" y="846.25" width="227" height="264.25" fill="none" stroke="#000" stroke-width="2.5"/>
<circle cx="614.5" cy="1057.5" r="4.85" fill="#095a8c" stroke="#000" stroke-width="2.1"/>
<circle cx="601.25" cy="1064.25" r="4.85" fill="#095a8c" stroke="#000" stroke-width="2.1"/>
<circle cx="627.5" cy="1072.5" r="4.85" fill="#095a8c" stroke="#000" stroke-width="2.1"/>
<circle cx="614.5" cy="1076.25" r="4.85" fill="#095a8c" stroke="#000" stroke-width="2.1"/>
<circle cx="614.5" cy="1088.75" r="4.85" fill="#095a8c" stroke="#000" stroke-width="2.1"/>
<circle cx="666.75" cy="944.25" r="4.85" fill="#7f7f7f" stroke="#000" stroke-width="2.1"/>
<circle cx="679.5" cy="967" r="4.85" fill="#7f7f7f" stroke="#000" stroke-width="2.1"/>
<circle cx="653.25" cy="974.25" r="4.85" fill="#7f7f7f" stroke="#000" stroke-width="2.1"/>
<circle cx="666.75" cy="990" r="4.85" fill="#7f7f7f" stroke="#000" stroke-width="2.1"/>
<circle cx="666.75" cy="1005.5" r="4.85" fill="#7f7f7f" stroke="#000" stroke-width="2.1"/>
<circle cx="706.25" cy="930" r="4.85" fill="#0a8ab6" stroke="#000" stroke-width="2.1"/>
<circle cx="718.75" cy="930" r="4.85" fill="#0a8ab6" stroke="#000" stroke-width="2.1"/>
<circle cx="731.75" cy="930" r="4.85" fill="#0a8ab6" stroke="#000" stroke-width="2.1"/>
<circle cx="706.25" cy="944.25" r="4.85" fill="#0a8ab6" stroke="#000" stroke-width="2.1"/>
<circle cx="731.75" cy="937" r="4.85" fill="#0a8ab6" stroke="#000" stroke-width="2.1"/>
<circle cx="758" cy="922" r="4.85" fill="#00b2f6" stroke="#000" stroke-width="2.1"/>
<circle cx="784.25" cy="922" r="4.85" fill="#00b2f6" stroke="#000" stroke-width="2.1"/>
<circle cx="764.5" cy="930" r="4.85" fill="#00b2f6" stroke="#000" stroke-width="2.1"/>
<circle cx="776.25" cy="930" r="4.85" fill="#00b2f6" stroke="#000" stroke-width="2.1"/>
<circle cx="770.5" cy="944.25" r="4.85" fill="#00b2f6" stroke="#000" stroke-width="2.1"/>
<line x1="573.75" y1="1110.5" x2="580" y2="1110.5" stroke="#000" stroke-width="2.5"/>
<text x="571.25" y="1116.69" font-size="17.3" text-anchor="end" font-weight="bold">4.0</text>
<line x1="573.75" y1="1072.75" x2="580" y2="1072.75" stroke="#000" stroke-width="2.5"/>
<text x="571.25" y="1078.94" font-size="17.3" text-anchor="end" font-weight="bold">4.5</text>
<line x1="573.75" y1="1035" x2="580" y2="1035" stroke="#000" stroke-width="2.5"/>
<text x="571.25" y="1041.19" font-size="17.3" text-anchor="end" font-weight="bold">5.0</text>
<line x1="573.75" y1="997.25" x2="580" y2="997.25" stroke="#000" stroke-width="2.5"/>
<text x="571.25" y="1003.44" font-size="17.3" text-anchor="end" font-weight="bold">5.5</text>
<line x1="573.75" y1="959.5" x2="580" y2="959.5" stroke="#000" stroke-width="2.5"/>
<text x="571.25" y="965.69" font-size="17.3" text-anchor="end" font-weight="bold">6.0</text>
<line x1="573.75" y1="921.75" x2="580" y2="921.75" stroke="#000" stroke-width="2.5"/>
<text x="571.25" y="927.94" font-size="17.3" text-anchor="end" font-weight="bold">6.5</text>
<line x1="573.75" y1="884" x2="580" y2="884" stroke="#000" stroke-width="2.5"/>
<text x="571.25" y="890.19" font-size="17.3" text-anchor="end" font-weight="bold">7.0</text>
<line x1="573.75" y1="846.25" x2="580" y2="846.25" stroke="#000" stroke-width="2.5"/>
<text x="571.25" y="852.44" font-size="17.3" text-anchor="end" font-weight="bold">7.5</text>
<line x1="614.5" y1="1110.5" x2="614.5" y2="1116.75" stroke="#000" stroke-width="2.5"/>
<text x="619.5" y="1132.8" font-size="18.2" transform="rotate(-45 619.5 1132.8)" text-anchor="end" font-weight="bold">Veh</text>
<line x1="666.75" y1="1110.5" x2="666.75" y2="1116.75" stroke="#000" stroke-width="2.5"/>
<text x="671.75" y="1132.8" font-size="18.2" transform="rotate(-45 671.75 1132.8)" text-anchor="end" font-weight="bold">Abx</text>
<line x1="718.25" y1="1110.5" x2="718.25" y2="1116.75" stroke="#000" stroke-width="2.5"/>
<text x="723.25" y="1132.8" font-size="18.2" transform="rotate(-45 723.25 1132.8)" text-anchor="end" font-weight="bold">Abx-FMT(N)</text>
<line x1="770.5" y1="1110.5" x2="770.5" y2="1116.75" stroke="#000" stroke-width="2.5"/>
<text x="775.5" y="1132.8" font-size="18.2" transform="rotate(-45 775.5 1132.8)" text-anchor="end" font-weight="bold">Neo</text>
<text x="537.5" y="977" font-size="19.5" transform="rotate(-90 537.5 977)" text-anchor="middle" font-weight="bold" textLength="171" lengthAdjust="spacing">Colon Length (cm)</text>
<line x1="615" y1="863.75" x2="772.5" y2="863.75" stroke="#000" stroke-width="1.4"/>
<line x1="615" y1="859.15" x2="615" y2="868.35" stroke="#000" stroke-width="1.4"/>
<line x1="772.5" y1="859.15" x2="772.5" y2="868.35" stroke="#000" stroke-width="1.4"/>
<text x="695.5" y="860.75" font-size="9.6" text-anchor="middle" font-weight="bold" textLength="41" lengthAdjust="spacing">P&lt;0.0001</text>
<line x1="615" y1="879.5" x2="718.75" y2="879.5" stroke="#000" stroke-width="1.4"/>
<line x1="615" y1="874.9" x2="615" y2="884.1" stroke="#000" stroke-width="1.4"/>
<line x1="718.75" y1="874.9" x2="718.75" y2="884.1" stroke="#000" stroke-width="1.4"/>
<text x="669.25" y="877" font-size="9.6" text-anchor="middle" font-weight="bold" textLength="41" lengthAdjust="spacing">P&lt;0.0001</text>
<line x1="666.25" y1="895.75" x2="773" y2="895.75" stroke="#000" stroke-width="1.4"/>
<line x1="666.25" y1="891.15" x2="666.25" y2="900.35" stroke="#000" stroke-width="1.4"/>
<line x1="773" y1="891.15" x2="773" y2="900.35" stroke="#000" stroke-width="1.4"/>
<text x="722.5" y="893" font-size="9.6" text-anchor="middle" font-weight="bold" textLength="41" lengthAdjust="spacing">P=0.0028</text>
<line x1="665.75" y1="910.75" x2="716.25" y2="910.75" stroke="#000" stroke-width="1.4"/>
<line x1="665.75" y1="906.15" x2="665.75" y2="915.35" stroke="#000" stroke-width="1.4"/>
<line x1="716.25" y1="906.15" x2="716.25" y2="915.35" stroke="#000" stroke-width="1.4"/>
<text x="692" y="908" font-size="9.6" text-anchor="middle" font-weight="bold" textLength="41" lengthAdjust="spacing">P=0.0042</text>
<line x1="722" y1="910.75" x2="773" y2="910.75" stroke="#000" stroke-width="1.4"/>
<line x1="722" y1="906.15" x2="722" y2="915.35" stroke="#000" stroke-width="1.4"/>
<line x1="773" y1="906.15" x2="773" y2="915.35" stroke="#000" stroke-width="1.4"/>
<text x="747.5" y="908" font-size="9.6" text-anchor="middle" font-weight="bold" textLength="41" lengthAdjust="spacing">P=0.4021</text>
<line x1="615.75" y1="930" x2="666.25" y2="930" stroke="#000" stroke-width="1.4"/>
<line x1="615.75" y1="925.4" x2="615.75" y2="934.6" stroke="#000" stroke-width="1.4"/>
<line x1="666.25" y1="925.4" x2="666.25" y2="934.6" stroke="#000" stroke-width="1.4"/>
<text x="641.75" y="925.75" font-size="9.6" text-anchor="middle" font-weight="bold" textLength="41" lengthAdjust="spacing">P&lt;0.0001</text>
<text x="882.5" y="824.5" font-size="28">g</text>
<rect x="974.88" y="1093" width="30.25" height="17.75" fill="#f1f1f1" stroke="#000" stroke-width="2.5"/>
<rect x="1025.38" y="931.25" width="30.25" height="179.5" fill="#095a8c" stroke="#000" stroke-width="2.5"/>
<rect x="1075.62" y="992.5" width="30.25" height="118.25" fill="#7f7f7f" stroke="#000" stroke-width="2.5"/>
<rect x="1126.12" y="1019.5" width="30.25" height="91.25" fill="#0a8ab6" stroke="#000" stroke-width="2.5"/>
<rect x="1176.12" y="1022.5" width="30.25" height="88.25" fill="#00b2f6" stroke="#000" stroke-width="2.5"/>
<line x1="990" y1="1085" x2="990" y2="1101.25" stroke="#000" stroke-width="2"/>
<line x1="985.8" y1="1085" x2="994.2" y2="1085" stroke="#000" stroke-width="2"/>
<line x1="985.8" y1="1101.25" x2="994.2" y2="1101.25" stroke="#000" stroke-width="2"/>
<line x1="1040.5" y1="921.75" x2="1040.5" y2="938.75" stroke="#000" stroke-width="2"/>
<line x1="1036.3" y1="921.75" x2="1044.7" y2="921.75" stroke="#000" stroke-width="2"/>
<line x1="1036.3" y1="938.75" x2="1044.7" y2="938.75" stroke="#000" stroke-width="2"/>
<line x1="1090.75" y1="986.25" x2="1090.75" y2="997.5" stroke="#000" stroke-width="2"/>
<line x1="1086.55" y1="986.25" x2="1094.95" y2="986.25" stroke="#000" stroke-width="2"/>
<line x1="1086.55" y1="997.5" x2="1094.95" y2="997.5" stroke="#000" stroke-width="2"/>
<line x1="1141.25" y1="1010" x2="1141.25" y2="1027.5" stroke="#000" stroke-width="2"/>
<line x1="1137.05" y1="1010" x2="1145.45" y2="1010" stroke="#000" stroke-width="2"/>
<line x1="1137.05" y1="1027.5" x2="1145.45" y2="1027.5" stroke="#000" stroke-width="2"/>
<line x1="1191.25" y1="1015" x2="1191.25" y2="1030" stroke="#000" stroke-width="2"/>
<line x1="1187.05" y1="1015" x2="1195.45" y2="1015" stroke="#000" stroke-width="2"/>
<line x1="1187.05" y1="1030" x2="1195.45" y2="1030" stroke="#000" stroke-width="2"/>
<rect x="956.25" y="846.25" width="270" height="264.5" fill="none" stroke="#000" stroke-width="2.5"/>
<circle cx="990" cy="1066.25" r="4.85" fill="#dedede" stroke="#000" stroke-width="2.1"/>
<circle cx="978" cy="1088.75" r="4.85" fill="#dedede" stroke="#000" stroke-width="2.1"/>
<circle cx="1002.5" cy="1088.75" r="4.85" fill="#dedede" stroke="#000" stroke-width="2.1"/>
<circle cx="978" cy="1110.75" r="4.85" fill="#dedede" stroke="#000" stroke-width="2.1"/>
<circle cx="1002.5" cy="1110.75" r="4.85" fill="#dedede" stroke="#000" stroke-width="2.1"/>
<circle cx="1028.25" cy="912.5" r="4.85" fill="#095a8c" stroke="#000" stroke-width="2.1"/>
<circle cx="1053" cy="912.5" r="4.85" fill="#095a8c" stroke="#000" stroke-width="2.1"/>
<circle cx="1028.25" cy="935" r="4.85" fill="#095a8c" stroke="#000" stroke-width="2.1"/>
<circle cx="1053" cy="935" r="4.85" fill="#095a8c" stroke="#000" stroke-width="2.1"/>
<circle cx="1040.5" cy="957" r="4.85" fill="#095a8c" stroke="#000" stroke-width="2.1"/>
<circle cx="1085" cy="978.75" r="4.85" fill="#7f7f7f" stroke="#000" stroke-width="2.1"/>
<circle cx="1096.75" cy="978.75" r="4.85" fill="#7f7f7f" stroke="#000" stroke-width="2.1"/>
<circle cx="1078.75" cy="1000" r="4.85" fill="#7f7f7f" stroke="#000" stroke-width="2.1"/>
<circle cx="1090.75" cy="1000" r="4.85" fill="#7f7f7f" stroke="#000" stroke-width="2.1"/>
<circle cx="1103.25" cy="1000" r="4.85" fill="#7f7f7f" stroke="#000" stroke-width="2.1"/>
<circle cx="1129.25" cy="1000" r="4.85" fill="#0a8ab6" stroke="#000" stroke-width="2.1"/>
<circle cx="1153.25" cy="1000" r="4.85" fill="#0a8ab6" stroke="#000" stroke-width="2.1"/>
<circle cx="1129.25" cy="1022" r="4.85" fill="#0a8ab6" stroke="#000" stroke-width="2.1"/>
<circle cx="1153.25" cy="1022" r="4.85" fill="#0a8ab6" stroke="#000" stroke-width="2.1"/>
<circle cx="1141.25" cy="1044.5" r="4.85" fill="#0a8ab6" stroke="#000" stroke-width="2.1"/>
<circle cx="1191.75" cy="1000" r="4.85" fill="#00b2f6" stroke="#000" stroke-width="2.1"/>
<circle cx="1179.25" cy="1022" r="4.85" fill="#00b2f6" stroke="#000" stroke-width="2.1"/>
<circle cx="1191.75" cy="1022" r="4.85" fill="#00b2f6" stroke="#000" stroke-width="2.1"/>
<circle cx="1204.25" cy="1022" r="4.85" fill="#00b2f6" stroke="#000" stroke-width="2.1"/>
<circle cx="1191.75" cy="1044.5" r="4.85" fill="#00b2f6" stroke="#000" stroke-width="2.1"/>
<line x1="950" y1="1110.75" x2="956.25" y2="1110.75" stroke="#000" stroke-width="2.5"/>
<text x="948" y="1116.94" font-size="17.3" text-anchor="end" font-weight="bold">0</text>
<line x1="950" y1="1066.67" x2="956.25" y2="1066.67" stroke="#000" stroke-width="2.5"/>
<text x="948" y="1072.86" font-size="17.3" text-anchor="end" font-weight="bold">2</text>
<line x1="950" y1="1022.58" x2="956.25" y2="1022.58" stroke="#000" stroke-width="2.5"/>
<text x="948" y="1028.78" font-size="17.3" text-anchor="end" font-weight="bold">4</text>
<line x1="950" y1="978.5" x2="956.25" y2="978.5" stroke="#000" stroke-width="2.5"/>
<text x="948" y="984.69" font-size="17.3" text-anchor="end" font-weight="bold">6</text>
<line x1="950" y1="934.42" x2="956.25" y2="934.42" stroke="#000" stroke-width="2.5"/>
<text x="948" y="940.61" font-size="17.3" text-anchor="end" font-weight="bold">8</text>
<line x1="950" y1="890.33" x2="956.25" y2="890.33" stroke="#000" stroke-width="2.5"/>
<text x="948" y="896.53" font-size="17.3" text-anchor="end" font-weight="bold">10</text>
<line x1="950" y1="846.25" x2="956.25" y2="846.25" stroke="#000" stroke-width="2.5"/>
<text x="948" y="852.44" font-size="17.3" text-anchor="end" font-weight="bold">12</text>
<line x1="990" y1="1110.75" x2="990" y2="1117" stroke="#000" stroke-width="2.5"/>
<text x="995" y="1133.05" font-size="18.2" transform="rotate(-45 995 1133.05)" text-anchor="end" font-weight="bold">Mock</text>
<line x1="1040.5" y1="1110.75" x2="1040.5" y2="1117" stroke="#000" stroke-width="2.5"/>
<text x="1045.5" y="1133.05" font-size="18.2" transform="rotate(-45 1045.5 1133.05)" text-anchor="end" font-weight="bold">Veh</text>
<line x1="1090.75" y1="1110.75" x2="1090.75" y2="1117" stroke="#000" stroke-width="2.5"/>
<text x="1095.75" y="1133.05" font-size="18.2" transform="rotate(-45 1095.75 1133.05)" text-anchor="end" font-weight="bold">Abx</text>
<line x1="1141.25" y1="1110.75" x2="1141.25" y2="1117" stroke="#000" stroke-width="2.5"/>
<text x="1146.25" y="1133.05" font-size="18.2" transform="rotate(-45 1146.25 1133.05)" text-anchor="end" font-weight="bold">Abx-FMT(N)</text>
<line x1="1191.25" y1="1110.75" x2="1191.25" y2="1117" stroke="#000" stroke-width="2.5"/>
<text x="1196.25" y="1133.05" font-size="18.2" transform="rotate(-45 1196.25 1133.05)" text-anchor="end" font-weight="bold">Neo</text>
<text x="918.5" y="976" font-size="20.5" transform="rotate(-90 918.5 976)" text-anchor="middle" textLength="217.5" lengthAdjust="spacingAndGlyphs" stroke="#000" stroke-width=".45">Histopathological score</text>
<line x1="1040" y1="864.5" x2="1194.25" y2="864.5" stroke="#000" stroke-width="1.4"/>
<line x1="1040" y1="859.9" x2="1040" y2="869.1" stroke="#000" stroke-width="1.4"/>
<line x1="1194.25" y1="859.9" x2="1194.25" y2="869.1" stroke="#000" stroke-width="1.4"/>
<text x="1117.5" y="860.75" font-size="9.6" text-anchor="middle" font-weight="bold" textLength="41" lengthAdjust="spacing">P&lt;0.0001</text>
<line x1="1040" y1="881.75" x2="1142.5" y2="881.75" stroke="#000" stroke-width="1.4"/>
<line x1="1040" y1="877.15" x2="1040" y2="886.35" stroke="#000" stroke-width="1.4"/>
<line x1="1142.5" y1="877.15" x2="1142.5" y2="886.35" stroke="#000" stroke-width="1.4"/>
<text x="1095" y="878" font-size="9.6" text-anchor="middle" font-weight="bold" textLength="41" lengthAdjust="spacing">P&lt;0.0001</text>
<line x1="1040" y1="900" x2="1091.25" y2="900" stroke="#000" stroke-width="1.4"/>
<line x1="1040" y1="895.4" x2="1040" y2="904.6" stroke="#000" stroke-width="1.4"/>
<line x1="1091.25" y1="895.4" x2="1091.25" y2="904.6" stroke="#000" stroke-width="1.4"/>
<text x="1066.25" y="895.75" font-size="9.6" text-anchor="middle" font-weight="bold" textLength="41" lengthAdjust="spacing">P=0.0002</text>
<line x1="1095" y1="900" x2="1194.25" y2="900" stroke="#000" stroke-width="1.4"/>
<line x1="1095" y1="895.4" x2="1095" y2="904.6" stroke="#000" stroke-width="1.4"/>
<line x1="1194.25" y1="895.4" x2="1194.25" y2="904.6" stroke="#000" stroke-width="1.4"/>
<text x="1144.25" y="895.75" font-size="9.6" text-anchor="middle" font-weight="bold" textLength="41" lengthAdjust="spacing">P=0.0081</text>
<line x1="1091.25" y1="919.25" x2="1140" y2="919.25" stroke="#000" stroke-width="1.4"/>
<line x1="1091.25" y1="914.65" x2="1091.25" y2="923.85" stroke="#000" stroke-width="1.4"/>
<line x1="1140" y1="914.65" x2="1140" y2="923.85" stroke="#000" stroke-width="1.4"/>
<text x="1115.75" y="915" font-size="9.6" text-anchor="middle" font-weight="bold" textLength="41" lengthAdjust="spacing">P=0.0278</text>
<line x1="1145" y1="919.25" x2="1193.75" y2="919.25" stroke="#000" stroke-width="1.4"/>
<line x1="1145" y1="914.65" x2="1145" y2="923.85" stroke="#000" stroke-width="1.4"/>
<line x1="1193.75" y1="914.65" x2="1193.75" y2="923.85" stroke="#000" stroke-width="1.4"/>
<text x="1170" y="915" font-size="9.6" text-anchor="middle" font-weight="bold" textLength="41" lengthAdjust="spacing">P=0.6938</text>
<text x="1340" y="24.5" font-size="28" font-weight="bold">c</text>
<text x="1383" y="94.75" font-size="23" transform="rotate(-90 1383 94.75)" text-anchor="middle" font-weight="bold" textLength="55.5" lengthAdjust="spacing">Mock</text>
<text x="1383" y="243.4" font-size="23" transform="rotate(-90 1383 243.4)" text-anchor="middle" font-weight="bold" textLength="39.5" lengthAdjust="spacing">Veh</text>
<text x="1383" y="380" font-size="23" transform="rotate(-90 1383 380)" text-anchor="middle" font-weight="bold" textLength="39.5" lengthAdjust="spacing">Abx</text>
<text x="1383" y="526" font-size="23" transform="rotate(-90 1383 526)" text-anchor="middle" font-weight="bold" textLength="48" lengthAdjust="spacing">Amp</text>
<text x="1383" y="671" font-size="23" transform="rotate(-90 1383 671)" text-anchor="middle" font-weight="bold" textLength="40" lengthAdjust="spacing">Van</text>
<text x="1383" y="812" font-size="23" transform="rotate(-90 1383 812)" text-anchor="middle" font-weight="bold" textLength="41.5" lengthAdjust="spacing">Neo</text>
<text x="1383" y="956" font-size="23" transform="rotate(-90 1383 956)" text-anchor="middle" font-weight="bold" textLength="59.5" lengthAdjust="spacing">Metro</text>
<text x="1383" y="1096" font-size="23" transform="rotate(-90 1383 1096)" text-anchor="middle" font-weight="bold" textLength="130.5" lengthAdjust="spacing">Abx- FMT(N)</text>
<g transform="translate(1540 110.1)">
<rect x="1" y="1.2" width="356.75" height="56.75" fill="#9a9a9a" opacity=".55"/>
<rect x="0" y="0" width="356.75" height="56.75" fill="#fff" stroke="#6e6e6e" stroke-width="1.1"/>
<path d="M13.2 1.5v34M17.35 1.5v16.6M21.51 1.5v16.6M25.66 1.5v16.6M29.82 1.5v16.6M33.97 1.5v25.2M38.12 1.5v16.6M42.28 1.5v16.6M46.43 1.5v16.6M50.59 1.5v16.6M54.74 1.5v34M58.89 1.5v16.6M63.05 1.5v16.6M67.2 1.5v16.6M71.36 1.5v16.6M75.51 1.5v25.2M79.66 1.5v16.6M83.82 1.5v16.6M87.97 1.5v16.6M92.13 1.5v16.6M96.28 1.5v34M100.43 1.5v16.6M104.59 1.5v16.6M108.74 1.5v16.6M112.9 1.5v16.6M117.05 1.5v25.2M121.2 1.5v16.6M125.36 1.5v16.6M129.51 1.5v16.6M133.67 1.5v16.6M137.82 1.5v34M141.97 1.5v16.6M146.13 1.5v16.6M150.28 1.5v16.6M154.44 1.5v16.6M158.59 1.5v25.2M162.74 1.5v16.6M166.9 1.5v16.6M171.05 1.5v16.6M175.21 1.5v16.6M179.36 1.5v34M183.51 1.5v16.6M187.67 1.5v16.6M191.82 1.5v16.6M195.98 1.5v16.6M200.13 1.5v25.2M204.28 1.5v16.6M208.44 1.5v16.6M212.59 1.5v16.6M216.75 1.5v16.6M220.9 1.5v34M225.05 1.5v16.6M229.21 1.5v16.6M233.36 1.5v16.6M237.52 1.5v16.6M241.67 1.5v25.2M245.82 1.5v16.6M249.98 1.5v16.6M254.13 1.5v16.6M258.29 1.5v16.6M262.44 1.5v34M266.59 1.5v16.6M270.75 1.5v16.6M274.9 1.5v16.6M279.06 1.5v16.6M283.21 1.5v25.2M287.36 1.5v16.6M291.52 1.5v16.6M295.67 1.5v16.6M299.83 1.5v16.6M303.98 1.5v34M308.13 1.5v16.6M312.29 1.5v16.6M316.44 1.5v16.6M320.6 1.5v16.6M324.75 1.5v25.2M328.9 1.5v16.6M333.06 1.5v16.6M337.21 1.5v16.6M341.37 1.5v16.6M345.52 1.5v34" stroke="#2c2c2c" stroke-width="1.2" fill="none"/>
<g font-family='"Liberation Serif", serif' font-size="13.6" font-weight="bold" fill="#2e2e2e" text-anchor="middle">
<text x="22.7" y="51.4">0<tspan font-family='"Liberation Sans", sans-serif' font-size="12.3" fill="#4a4a4a"> cm</tspan></text>
<text x="54.74" y="51.4" fill="#3c2446">1</text>
<text x="96.28" y="51.4">2</text>
<text x="137.82" y="51.4">3</text>
<text x="179.36" y="51.4">4</text>
<text x="220.9" y="51.4">5</text>
<text x="262.44" y="51.4">6</text>
<text x="303.98" y="51.4">7</text>
<text x="345.52" y="51.4">8</text>
</g></g>
<g transform="translate(1540 252.6)">
<rect x="1" y="1.2" width="356.75" height="56.75" fill="#9a9a9a" opacity=".55"/>
<rect x="0" y="0" width="356.75" height="56.75" fill="#fff" stroke="#6e6e6e" stroke-width="1.1"/>
<path d="M13.2 1.5v34M17.35 1.5v16.6M21.51 1.5v16.6M25.66 1.5v16.6M29.82 1.5v16.6M33.97 1.5v25.2M38.12 1.5v16.6M42.28 1.5v16.6M46.43 1.5v16.6M50.59 1.5v16.6M54.74 1.5v34M58.89 1.5v16.6M63.05 1.5v16.6M67.2 1.5v16.6M71.36 1.5v16.6M75.51 1.5v25.2M79.66 1.5v16.6M83.82 1.5v16.6M87.97 1.5v16.6M92.13 1.5v16.6M96.28 1.5v34M100.43 1.5v16.6M104.59 1.5v16.6M108.74 1.5v16.6M112.9 1.5v16.6M117.05 1.5v25.2M121.2 1.5v16.6M125.36 1.5v16.6M129.51 1.5v16.6M133.67 1.5v16.6M137.82 1.5v34M141.97 1.5v16.6M146.13 1.5v16.6M150.28 1.5v16.6M154.44 1.5v16.6M158.59 1.5v25.2M162.74 1.5v16.6M166.9 1.5v16.6M171.05 1.5v16.6M175.21 1.5v16.6M179.36 1.5v34M183.51 1.5v16.6M187.67 1.5v16.6M191.82 1.5v16.6M195.98 1.5v16.6M200.13 1.5v25.2M204.28 1.5v16.6M208.44 1.5v16.6M212.59 1.5v16.6M216.75 1.5v16.6M220.9 1.5v34M225.05 1.5v16.6M229.21 1.5v16.6M233.36 1.5v16.6M237.52 1.5v16.6M241.67 1.5v25.2M245.82 1.5v16.6M249.98 1.5v16.6M254.13 1.5v16.6M258.29 1.5v16.6M262.44 1.5v34M266.59 1.5v16.6M270.75 1.5v16.6M274.9 1.5v16.6M279.06 1.5v16.6M283.21 1.5v25.2M287.36 1.5v16.6M291.52 1.5v16.6M295.67 1.5v16.6M299.83 1.5v16.6M303.98 1.5v34M308.13 1.5v16.6M312.29 1.5v16.6M316.44 1.5v16.6M320.6 1.5v16.6M324.75 1.5v25.2M328.9 1.5v16.6M333.06 1.5v16.6M337.21 1.5v16.6M341.37 1.5v16.6M345.52 1.5v34" stroke="#2c2c2c" stroke-width="1.2" fill="none"/>
<g font-family='"Liberation Serif", serif' font-size="13.6" font-weight="bold" fill="#2e2e2e" text-anchor="middle">
<text x="22.7" y="51.4">0<tspan font-family='"Liberation Sans", sans-serif' font-size="12.3" fill="#4a4a4a"> cm</tspan></text>
<text x="54.74" y="51.4" fill="#3c2446">1</text>
<text x="96.28" y="51.4">2</text>
<text x="137.82" y="51.4">3</text>
<text x="179.36" y="51.4">4</text>
<text x="220.9" y="51.4">5</text>
<text x="262.44" y="51.4">6</text>
<text x="303.98" y="51.4">7</text>
<text x="345.52" y="51.4">8</text>
</g></g>
<g transform="translate(1540 395.1)">
<rect x="1" y="1.2" width="356.75" height="56.75" fill="#9a9a9a" opacity=".55"/>
<rect x="0" y="0" width="356.75" height="56.75" fill="#fff" stroke="#6e6e6e" stroke-width="1.1"/>
<path d="M13.2 1.5v34M17.35 1.5v16.6M21.51 1.5v16.6M25.66 1.5v16.6M29.82 1.5v16.6M33.97 1.5v25.2M38.12 1.5v16.6M42.28 1.5v16.6M46.43 1.5v16.6M50.59 1.5v16.6M54.74 1.5v34M58.89 1.5v16.6M63.05 1.5v16.6M67.2 1.5v16.6M71.36 1.5v16.6M75.51 1.5v25.2M79.66 1.5v16.6M83.82 1.5v16.6M87.97 1.5v16.6M92.13 1.5v16.6M96.28 1.5v34M100.43 1.5v16.6M104.59 1.5v16.6M108.74 1.5v16.6M112.9 1.5v16.6M117.05 1.5v25.2M121.2 1.5v16.6M125.36 1.5v16.6M129.51 1.5v16.6M133.67 1.5v16.6M137.82 1.5v34M141.97 1.5v16.6M146.13 1.5v16.6M150.28 1.5v16.6M154.44 1.5v16.6M158.59 1.5v25.2M162.74 1.5v16.6M166.9 1.5v16.6M171.05 1.5v16.6M175.21 1.5v16.6M179.36 1.5v34M183.51 1.5v16.6M187.67 1.5v16.6M191.82 1.5v16.6M195.98 1.5v16.6M200.13 1.5v25.2M204.28 1.5v16.6M208.44 1.5v16.6M212.59 1.5v16.6M216.75 1.5v16.6M220.9 1.5v34M225.05 1.5v16.6M229.21 1.5v16.6M233.36 1.5v16.6M237.52 1.5v16.6M241.67 1.5v25.2M245.82 1.5v16.6M249.98 1.5v16.6M254.13 1.5v16.6M258.29 1.5v16.6M262.44 1.5v34M266.59 1.5v16.6M270.75 1.5v16.6M274.9 1.5v16.6M279.06 1.5v16.6M283.21 1.5v25.2M287.36 1.5v16.6M291.52 1.5v16.6M295.67 1.5v16.6M299.83 1.5v16.6M303.98 1.5v34M308.13 1.5v16.6M312.29 1.5v16.6M316.44 1.5v16.6M320.6 1.5v16.6M324.75 1.5v25.2M328.9 1.5v16.6M333.06 1.5v16.6M337.21 1.5v16.6M341.37 1.5v16.6M345.52 1.5v34" stroke="#2c2c2c" stroke-width="1.2" fill="none"/>
<g font-family='"Liberation Serif", serif' font-size="13.6" font-weight="bold" fill="#2e2e2e" text-anchor="middle">
<text x="22.7" y="51.4">0<tspan font-family='"Liberation Sans", sans-serif' font-size="12.3" fill="#4a4a4a"> cm</tspan></text>
<text x="54.74" y="51.4" fill="#3c2446">1</text>
<text x="96.28" y="51.4">2</text>
<text x="137.82" y="51.4">3</text>
<text x="179.36" y="51.4">4</text>
<text x="220.9" y="51.4">5</text>
<text x="262.44" y="51.4">6</text>
<text x="303.98" y="51.4">7</text>
<text x="345.52" y="51.4">8</text>
</g></g>
<g transform="translate(1540 537.6)">
<rect x="1" y="1.2" width="356.75" height="56.75" fill="#9a9a9a" opacity=".55"/>
<rect x="0" y="0" width="356.75" height="56.75" fill="#fff" stroke="#6e6e6e" stroke-width="1.1"/>
<path d="M13.2 1.5v34M17.35 1.5v16.6M21.51 1.5v16.6M25.66 1.5v16.6M29.82 1.5v16.6M33.97 1.5v25.2M38.12 1.5v16.6M42.28 1.5v16.6M46.43 1.5v16.6M50.59 1.5v16.6M54.74 1.5v34M58.89 1.5v16.6M63.05 1.5v16.6M67.2 1.5v16.6M71.36 1.5v16.6M75.51 1.5v25.2M79.66 1.5v16.6M83.82 1.5v16.6M87.97 1.5v16.6M92.13 1.5v16.6M96.28 1.5v34M100.43 1.5v16.6M104.59 1.5v16.6M108.74 1.5v16.6M112.9 1.5v16.6M117.05 1.5v25.2M121.2 1.5v16.6M125.36 1.5v16.6M129.51 1.5v16.6M133.67 1.5v16.6M137.82 1.5v34M141.97 1.5v16.6M146.13 1.5v16.6M150.28 1.5v16.6M154.44 1.5v16.6M158.59 1.5v25.2M162.74 1.5v16.6M166.9 1.5v16.6M171.05 1.5v16.6M175.21 1.5v16.6M179.36 1.5v34M183.51 1.5v16.6M187.67 1.5v16.6M191.82 1.5v16.6M195.98 1.5v16.6M200.13 1.5v25.2M204.28 1.5v16.6M208.44 1.5v16.6M212.59 1.5v16.6M216.75 1.5v16.6M220.9 1.5v34M225.05 1.5v16.6M229.21 1.5v16.6M233.36 1.5v16.6M237.52 1.5v16.6M241.67 1.5v25.2M245.82 1.5v16.6M249.98 1.5v16.6M254.13 1.5v16.6M258.29 1.5v16.6M262.44 1.5v34M266.59 1.5v16.6M270.75 1.5v16.6M274.9 1.5v16.6M279.06 1.5v16.6M283.21 1.5v25.2M287.36 1.5v16.6M291.52 1.5v16.6M295.67 1.5v16.6M299.83 1.5v16.6M303.98 1.5v34M308.13 1.5v16.6M312.29 1.5v16.6M316.44 1.5v16.6M320.6 1.5v16.6M324.75 1.5v25.2M328.9 1.5v16.6M333.06 1.5v16.6M337.21 1.5v16.6M341.37 1.5v16.6M345.52 1.5v34" stroke="#2c2c2c" stroke-width="1.2" fill="none"/>
<g font-family='"Liberation Serif", serif' font-size="13.6" font-weight="bold" fill="#2e2e2e" text-anchor="middle">
<text x="22.7" y="51.4">0<tspan font-family='"Liberation Sans", sans-serif' font-size="12.3" fill="#4a4a4a"> cm</tspan></text>
<text x="54.74" y="51.4" fill="#3c2446">1</text>
<text x="96.28" y="51.4">2</text>
<text x="137.82" y="51.4">3</text>
<text x="179.36" y="51.4">4</text>
<text x="220.9" y="51.4">5</text>
<text x="262.44" y="51.4">6</text>
<text x="303.98" y="51.4">7</text>
<text x="345.52" y="51.4">8</text>
</g></g>
<g transform="translate(1540 680.1)">
<rect x="1" y="1.2" width="356.75" height="56.75" fill="#9a9a9a" opacity=".55"/>
<rect x="0" y="0" width="356.75" height="56.75" fill="#fff" stroke="#6e6e6e" stroke-width="1.1"/>
<path d="M13.2 1.5v34M17.35 1.5v16.6M21.51 1.5v16.6M25.66 1.5v16.6M29.82 1.5v16.6M33.97 1.5v25.2M38.12 1.5v16.6M42.28 1.5v16.6M46.43 1.5v16.6M50.59 1.5v16.6M54.74 1.5v34M58.89 1.5v16.6M63.05 1.5v16.6M67.2 1.5v16.6M71.36 1.5v16.6M75.51 1.5v25.2M79.66 1.5v16.6M83.82 1.5v16.6M87.97 1.5v16.6M92.13 1.5v16.6M96.28 1.5v34M100.43 1.5v16.6M104.59 1.5v16.6M108.74 1.5v16.6M112.9 1.5v16.6M117.05 1.5v25.2M121.2 1.5v16.6M125.36 1.5v16.6M129.51 1.5v16.6M133.67 1.5v16.6M137.82 1.5v34M141.97 1.5v16.6M146.13 1.5v16.6M150.28 1.5v16.6M154.44 1.5v16.6M158.59 1.5v25.2M162.74 1.5v16.6M166.9 1.5v16.6M171.05 1.5v16.6M175.21 1.5v16.6M179.36 1.5v34M183.51 1.5v16.6M187.67 1.5v16.6M191.82 1.5v16.6M195.98 1.5v16.6M200.13 1.5v25.2M204.28 1.5v16.6M208.44 1.5v16.6M212.59 1.5v16.6M216.75 1.5v16.6M220.9 1.5v34M225.05 1.5v16.6M229.21 1.5v16.6M233.36 1.5v16.6M237.52 1.5v16.6M241.67 1.5v25.2M245.82 1.5v16.6M249.98 1.5v16.6M254.13 1.5v16.6M258.29 1.5v16.6M262.44 1.5v34M266.59 1.5v16.6M270.75 1.5v16.6M274.9 1.5v16.6M279.06 1.5v16.6M283.21 1.5v25.2M287.36 1.5v16.6M291.52 1.5v16.6M295.67 1.5v16.6M299.83 1.5v16.6M303.98 1.5v34M308.13 1.5v16.6M312.29 1.5v16.6M316.44 1.5v16.6M320.6 1.5v16.6M324.75 1.5v25.2M328.9 1.5v16.6M333.06 1.5v16.6M337.21 1.5v16.6M341.37 1.5v16.6M345.52 1.5v34" stroke="#2c2c2c" stroke-width="1.2" fill="none"/>
<g font-family='"Liberation Serif", serif' font-size="13.6" font-weight="bold" fill="#2e2e2e" text-anchor="middle">
<text x="22.7" y="51.4">0<tspan font-family='"Liberation Sans", sans-serif' font-size="12.3" fill="#4a4a4a"> cm</tspan></text>
<text x="54.74" y="51.4" fill="#3c2446">1</text>
<text x="96.28" y="51.4">2</text>
<text x="137.82" y="51.4">3</text>
<text x="179.36" y="51.4">4</text>
<text x="220.9" y="51.4">5</text>
<text x="262.44" y="51.4">6</text>
<text x="303.98" y="51.4">7</text>
<text x="345.52" y="51.4">8</text>
</g></g>
<g transform="translate(1540 822.6)">
<rect x="1" y="1.2" width="356.75" height="56.75" fill="#9a9a9a" opacity=".55"/>
<rect x="0" y="0" width="356.75" height="56.75" fill="#fff" stroke="#6e6e6e" stroke-width="1.1"/>
<path d="M13.2 1.5v34M17.35 1.5v16.6M21.51 1.5v16.6M25.66 1.5v16.6M29.82 1.5v16.6M33.97 1.5v25.2M38.12 1.5v16.6M42.28 1.5v16.6M46.43 1.5v16.6M50.59 1.5v16.6M54.74 1.5v34M58.89 1.5v16.6M63.05 1.5v16.6M67.2 1.5v16.6M71.36 1.5v16.6M75.51 1.5v25.2M79.66 1.5v16.6M83.82 1.5v16.6M87.97 1.5v16.6M92.13 1.5v16.6M96.28 1.5v34M100.43 1.5v16.6M104.59 1.5v16.6M108.74 1.5v16.6M112.9 1.5v16.6M117.05 1.5v25.2M121.2 1.5v16.6M125.36 1.5v16.6M129.51 1.5v16.6M133.67 1.5v16.6M137.82 1.5v34M141.97 1.5v16.6M146.13 1.5v16.6M150.28 1.5v16.6M154.44 1.5v16.6M158.59 1.5v25.2M162.74 1.5v16.6M166.9 1.5v16.6M171.05 1.5v16.6M175.21 1.5v16.6M179.36 1.5v34M183.51 1.5v16.6M187.67 1.5v16.6M191.82 1.5v16.6M195.98 1.5v16.6M200.13 1.5v25.2M204.28 1.5v16.6M208.44 1.5v16.6M212.59 1.5v16.6M216.75 1.5v16.6M220.9 1.5v34M225.05 1.5v16.6M229.21 1.5v16.6M233.36 1.5v16.6M237.52 1.5v16.6M241.67 1.5v25.2M245.82 1.5v16.6M249.98 1.5v16.6M254.13 1.5v16.6M258.29 1.5v16.6M262.44 1.5v34M266.59 1.5v16.6M270.75 1.5v16.6M274.9 1.5v16.6M279.06 1.5v16.6M283.21 1.5v25.2M287.36 1.5v16.6M291.52 1.5v16.6M295.67 1.5v16.6M299.83 1.5v16.6M303.98 1.5v34M308.13 1.5v16.6M312.29 1.5v16.6M316.44 1.5v16.6M320.6 1.5v16.6M324.75 1.5v25.2M328.9 1.5v16.6M333.06 1.5v16.6M337.21 1.5v16.6M341.37 1.5v16.6M345.52 1.5v34" stroke="#2c2c2c" stroke-width="1.2" fill="none"/>
<g font-family='"Liberation Serif", serif' font-size="13.6" font-weight="bold" fill="#2e2e2e" text-anchor="middle">
<text x="22.7" y="51.4">0<tspan font-family='"Liberation Sans", sans-serif' font-size="12.3" fill="#4a4a4a"> cm</tspan></text>
<text x="54.74" y="51.4" fill="#3c2446">1</text>
<text x="96.28" y="51.4">2</text>
<text x="137.82" y="51.4">3</text>
<text x="179.36" y="51.4">4</text>
<text x="220.9" y="51.4">5</text>
<text x="262.44" y="51.4">6</text>
<text x="303.98" y="51.4">7</text>
<text x="345.52" y="51.4">8</text>
</g></g>
<g transform="translate(1540 965.5)">
<rect x="1" y="1.2" width="356.75" height="56.75" fill="#9a9a9a" opacity=".55"/>
<rect x="0" y="0" width="356.75" height="56.75" fill="#fff" stroke="#6e6e6e" stroke-width="1.1"/>
<path d="M13.2 1.5v34M17.35 1.5v16.6M21.51 1.5v16.6M25.66 1.5v16.6M29.82 1.5v16.6M33.97 1.5v25.2M38.12 1.5v16.6M42.28 1.5v16.6M46.43 1.5v16.6M50.59 1.5v16.6M54.74 1.5v34M58.89 1.5v16.6M63.05 1.5v16.6M67.2 1.5v16.6M71.36 1.5v16.6M75.51 1.5v25.2M79.66 1.5v16.6M83.82 1.5v16.6M87.97 1.5v16.6M92.13 1.5v16.6M96.28 1.5v34M100.43 1.5v16.6M104.59 1.5v16.6M108.74 1.5v16.6M112.9 1.5v16.6M117.05 1.5v25.2M121.2 1.5v16.6M125.36 1.5v16.6M129.51 1.5v16.6M133.67 1.5v16.6M137.82 1.5v34M141.97 1.5v16.6M146.13 1.5v16.6M150.28 1.5v16.6M154.44 1.5v16.6M158.59 1.5v25.2M162.74 1.5v16.6M166.9 1.5v16.6M171.05 1.5v16.6M175.21 1.5v16.6M179.36 1.5v34M183.51 1.5v16.6M187.67 1.5v16.6M191.82 1.5v16.6M195.98 1.5v16.6M200.13 1.5v25.2M204.28 1.5v16.6M208.44 1.5v16.6M212.59 1.5v16.6M216.75 1.5v16.6M220.9 1.5v34M225.05 1.5v16.6M229.21 1.5v16.6M233.36 1.5v16.6M237.52 1.5v16.6M241.67 1.5v25.2M245.82 1.5v16.6M249.98 1.5v16.6M254.13 1.5v16.6M258.29 1.5v16.6M262.44 1.5v34M266.59 1.5v16.6M270.75 1.5v16.6M274.9 1.5v16.6M279.06 1.5v16.6M283.21 1.5v25.2M287.36 1.5v16.6M291.52 1.5v16.6M295.67 1.5v16.6M299.83 1.5v16.6M303.98 1.5v34M308.13 1.5v16.6M312.29 1.5v16.6M316.44 1.5v16.6M320.6 1.5v16.6M324.75 1.5v25.2M328.9 1.5v16.6M333.06 1.5v16.6M337.21 1.5v16.6M341.37 1.5v16.6M345.52 1.5v34" stroke="#2c2c2c" stroke-width="1.2" fill="none"/>
<g font-family='"Liberation Serif", serif' font-size="13.6" font-weight="bold" fill="#2e2e2e" text-anchor="middle">
<text x="22.7" y="51.4">0<tspan font-family='"Liberation Sans", sans-serif' font-size="12.3" fill="#4a4a4a"> cm</tspan></text>
<text x="54.74" y="51.4" fill="#3c2446">1</text>
<text x="96.28" y="51.4">2</text>
<text x="137.82" y="51.4">3</text>
<text x="179.36" y="51.4">4</text>
<text x="220.9" y="51.4">5</text>
<text x="262.44" y="51.4">6</text>
<text x="303.98" y="51.4">7</text>
<text x="345.52" y="51.4">8</text>
</g></g>
<g transform="translate(1535.4 1109.2)">
<rect x="1" y="1.2" width="358.6" height="56.3" fill="#9a9a9a" opacity=".55"/>
<rect x="0" y="0" width="358.6" height="56.3" fill="#fff" stroke="#6e6e6e" stroke-width="1.1"/>
<path d="M12.6 1.5v34M16.77 1.5v16.6M20.95 1.5v16.6M25.12 1.5v16.6M29.3 1.5v16.6M33.48 1.5v25.2M37.65 1.5v16.6M41.83 1.5v16.6M46 1.5v16.6M50.18 1.5v16.6M54.35 1.5v34M58.52 1.5v16.6M62.7 1.5v16.6M66.88 1.5v16.6M71.05 1.5v16.6M75.22 1.5v25.2M79.4 1.5v16.6M83.57 1.5v16.6M87.75 1.5v16.6M91.92 1.5v16.6M96.1 1.5v34M100.27 1.5v16.6M104.45 1.5v16.6M108.62 1.5v16.6M112.8 1.5v16.6M116.97 1.5v25.2M121.15 1.5v16.6M125.32 1.5v16.6M129.5 1.5v16.6M133.68 1.5v16.6M137.85 1.5v34M142.03 1.5v16.6M146.2 1.5v16.6M150.38 1.5v16.6M154.55 1.5v16.6M158.72 1.5v25.2M162.9 1.5v16.6M167.07 1.5v16.6M171.25 1.5v16.6M175.42 1.5v16.6M179.6 1.5v34M183.78 1.5v16.6M187.95 1.5v16.6M192.12 1.5v16.6M196.3 1.5v16.6M200.47 1.5v25.2M204.65 1.5v16.6M208.82 1.5v16.6M213 1.5v16.6M217.17 1.5v16.6M221.35 1.5v34M225.53 1.5v16.6M229.7 1.5v16.6M233.88 1.5v16.6M238.05 1.5v16.6M242.22 1.5v25.2M246.4 1.5v16.6M250.57 1.5v16.6M254.75 1.5v16.6M258.93 1.5v16.6M263.1 1.5v34M267.28 1.5v16.6M271.45 1.5v16.6M275.62 1.5v16.6M279.8 1.5v16.6M283.98 1.5v25.2M288.15 1.5v16.6M292.33 1.5v16.6M296.5 1.5v16.6M300.68 1.5v16.6M304.85 1.5v34M309.03 1.5v16.6M313.2 1.5v16.6M317.38 1.5v16.6M321.55 1.5v16.6M325.73 1.5v25.2M329.9 1.5v16.6M334.08 1.5v16.6M338.25 1.5v16.6M342.43 1.5v16.6M346.6 1.5v34" stroke="#2c2c2c" stroke-width="1.2" fill="none"/>
<g font-family='"Liberation Serif", serif' font-size="13.6" font-weight="bold" fill="#2e2e2e" text-anchor="middle">
<text x="22.1" y="51.4">0<tspan font-family='"Liberation Sans", sans-serif' font-size="12.3" fill="#4a4a4a"> cm</tspan></text>
<text x="54.35" y="51.4" fill="#3c2446">1</text>
<text x="96.1" y="51.4">2</text>
<text x="137.85" y="51.4">3</text>
<text x="179.6" y="51.4">4</text>
<text x="221.35" y="51.4">5</text>
<text x="263.1" y="51.4">6</text>
<text x="304.85" y="51.4">7</text>
<text x="346.6" y="51.4">8</text>
</g></g>
<g filter="url(#cblur)">
<path d="M1519.38 70.29C1522.22 66.46 1533.44 69.71 1539.44 68.33C1545.44 66.95 1548.34 63.25 1555.38 62.02C1562.42 60.79 1572.17 60.61 1581.67 60.94C1591.16 61.27 1602.25 63.43 1612.34 63.99C1622.43 64.56 1632.39 64.15 1642.2 64.35C1652.01 64.54 1661.33 65.32 1671.22 65.18C1681.11 65.04 1691.36 63.67 1701.54 63.5C1711.72 63.34 1722.11 63.85 1732.27 64.2C1742.44 64.56 1752.45 65.46 1762.53 65.64C1772.6 65.81 1782.66 65.5 1792.73 65.25C1802.8 65 1812.88 64.58 1822.95 64.14C1833.03 63.71 1845.72 63.17 1853.16 62.63C1860.61 62.09 1865.13 60.11 1867.6 60.91C1870.07 61.71 1870.37 66.33 1868.01 67.43C1865.64 68.53 1860.9 67.25 1853.43 67.52C1845.96 67.79 1833.27 68.46 1823.2 69.03C1813.13 69.6 1803.06 70.29 1792.99 70.95C1782.91 71.61 1772.82 72.2 1762.75 72.98C1752.68 73.76 1742.54 74.76 1732.56 75.62C1722.58 76.48 1712.83 76.48 1702.86 78.13C1692.89 79.78 1683 84.15 1672.74 85.52C1662.48 86.89 1651.65 86.97 1641.32 86.36C1630.98 85.75 1620.79 83.12 1610.73 81.87C1600.68 80.63 1589.61 79.26 1580.97 78.88C1572.33 78.5 1564.96 78.23 1558.9 79.62C1552.85 81.01 1550.72 85.26 1544.63 87.21C1538.54 89.16 1526.59 94.11 1522.38 91.29C1518.17 88.47 1516.54 74.12 1519.38 70.29Z" fill="url(#cg1)"/>
<path d="M1521.88 87.79C1525.53 87.17 1537.69 85.91 1543.76 84.06C1549.84 82.21 1552.1 78.05 1558.32 76.69C1564.54 75.32 1572.31 75.52 1581.09 75.89C1589.87 76.26 1600.94 77.76 1611 78.89C1621.07 80.03 1631.22 82.15 1641.46 82.69C1651.71 83.23 1662.29 83.3 1672.49 82.13C1682.68 80.97 1692.63 77.1 1702.64 75.69C1712.64 74.29 1722.5 74.38 1732.51 73.72C1742.53 73.06 1752.64 72.37 1762.71 71.75C1772.78 71.13 1782.87 70.59 1792.94 70C1803.02 69.41 1813.08 68.77 1823.16 68.22C1833.23 67.67 1845.92 67.02 1853.38 66.71C1860.85 66.39 1865.51 66.4 1867.94 66.34" fill="none" stroke="#000" stroke-opacity=".16" stroke-width="4.04" stroke-linecap="round"/>
<path d="M1520.06 75.06C1523.49 74.66 1534.6 74.13 1540.62 72.62C1546.64 71.11 1549.37 67.28 1556.18 66.02C1563 64.75 1572.21 64.68 1581.51 65.02C1590.81 65.36 1601.9 67.34 1611.98 68.06C1622.06 68.78 1632.07 69.06 1642 69.35C1651.93 69.64 1661.59 70.22 1671.56 69.8C1681.54 69.38 1691.71 67.33 1701.84 66.83C1711.97 66.33 1722.22 66.72 1732.34 66.8C1742.46 66.88 1752.5 67.35 1762.58 67.31C1772.65 67.26 1782.71 66.88 1792.79 66.54C1802.86 66.2 1812.94 65.72 1823.01 65.25C1833.08 64.79 1845.78 64.22 1853.22 63.74C1860.67 63.27 1865.28 62.62 1867.69 62.39" fill="none" stroke="#fff" stroke-opacity=".2" stroke-width="2.94" stroke-linecap="round"/>
<ellipse cx="1708.85" cy="66.29" rx="16.92" ry="6.35" fill="#5e4a22" transform="rotate(-4 1708.85 66.29)"/>
<ellipse cx="1705.82" cy="64.77" rx="9.07" ry="2.42" fill="#8d7a48" transform="rotate(-6 1705.82 64.77)" opacity="0.6"/>
<ellipse cx="1742.39" cy="66.89" rx="4.84" ry="3.02" fill="#7a5a30"/>
<ellipse cx="1645.38" cy="72.93" rx="17.53" ry="4.84" fill="#a8965a" opacity="0.8"/>
<ellipse cx="1572.25" cy="68.7" rx="18.13" ry="4.23" fill="#b0a064" transform="rotate(-3 1572.25 68.7)" opacity="0.7"/>
<path d="M1437.5 62C1438.17 60 1440.83 58.33 1443 58C1445.17 57.67 1447.88 58.75 1450.5 60C1453.12 61.25 1456.25 65.67 1458.75 65.5C1461.25 65.33 1462.79 61.04 1465.5 59C1468.21 56.96 1471.33 54.42 1475 53.25C1478.67 52.08 1483.25 51.67 1487.5 52C1491.75 52.33 1496.67 53.42 1500.5 55.25C1504.33 57.08 1507.17 60.04 1510.5 63C1513.83 65.96 1517.17 70.92 1520.5 73C1523.83 75.08 1527.17 74.5 1530.5 75.5C1533.83 76.5 1539.25 77.17 1540.5 79C1541.75 80.83 1540.17 84.17 1538 86.5C1535.83 88.83 1531.25 90.25 1527.5 93C1523.75 95.75 1519.25 99.67 1515.5 103C1511.75 106.33 1508.83 110.33 1505 113C1501.17 115.67 1497 118.25 1492.5 119C1488 119.75 1482.17 118.75 1478 117.5C1473.83 116.25 1470.42 114.33 1467.5 111.5C1464.58 108.67 1462.92 104.42 1460.5 100.5C1458.08 96.58 1455.5 91.75 1453 88C1450.5 84.25 1447.83 81 1445.5 78C1443.17 75 1440.33 72.67 1439 70C1437.67 67.33 1436.83 64 1437.5 62Z" fill="url(#cg2)"/>
<ellipse cx="1447.5" cy="72.5" rx="7" ry="11.25" fill="#8a7a48" transform="rotate(-25 1447.5 72.5)" opacity="0.6"/>
<ellipse cx="1490.66" cy="94.99" rx="6.65" ry="9.67" fill="#2e2414" transform="rotate(40 1490.66 94.99)" opacity="0.85"/>
<ellipse cx="1504.26" cy="88.95" rx="9.07" ry="4.53" fill="#e6c3b4" transform="rotate(-15 1504.26 88.95)" opacity="0.9"/>
<ellipse cx="1483.1" cy="62.66" rx="9.07" ry="4.84" fill="#d8d0a4" transform="rotate(-20 1483.1 62.66)" opacity="0.55"/>
<path d="M1502.84 213.24C1504.55 209.35 1513.55 207.1 1518.92 206.16C1524.29 205.21 1530.38 206.09 1535.06 207.55C1539.75 209.01 1542.26 213.23 1547.03 214.94C1551.79 216.64 1556.9 217.19 1563.66 217.76C1570.42 218.33 1579.59 218.06 1587.61 218.36C1595.63 218.66 1603.71 219.15 1611.79 219.57C1619.86 219.98 1627.98 220.05 1636.05 220.84C1644.13 221.63 1652.23 223.35 1660.24 224.29C1668.25 225.22 1676.63 226.4 1684.09 226.45C1691.56 226.5 1699.08 224.88 1705.03 224.58C1710.97 224.28 1714.82 225.18 1719.77 224.64C1724.72 224.11 1731.04 221.98 1734.73 221.38C1738.42 220.77 1740.65 219.75 1741.91 221.02C1743.16 222.28 1743.23 227.62 1742.27 228.98C1741.31 230.35 1739.71 228.52 1736.15 229.23C1732.58 229.93 1726.01 232.44 1720.89 233.21C1715.76 233.99 1711.55 233.68 1705.41 233.88C1699.27 234.08 1691.68 234.48 1684.04 234.43C1676.39 234.38 1667.65 233.84 1659.54 233.57C1651.43 233.3 1643.42 232.91 1635.38 232.79C1627.34 232.67 1619.33 233.04 1611.29 232.85C1603.25 232.66 1595.21 231.95 1587.11 231.64C1579.02 231.34 1570.05 231.46 1562.71 231.03C1555.37 230.59 1548.39 230.14 1543.08 229.02C1537.78 227.9 1534.25 224.87 1530.87 224.32C1527.5 223.77 1526.53 224.85 1522.83 225.71C1519.14 226.58 1512.03 231.58 1508.7 229.51C1505.36 227.43 1501.14 217.13 1502.84 213.24Z" fill="url(#cg3)"/>
<path d="M1507.72 226.79C1510.13 226.07 1518.21 223.33 1522.18 222.45C1526.16 221.57 1527.98 220.82 1531.57 221.52C1535.16 222.23 1538.52 225.46 1543.74 226.67C1548.96 227.89 1555.63 228.36 1562.87 228.82C1570.11 229.28 1579.11 229.13 1587.2 229.43C1595.28 229.73 1603.32 230.41 1611.37 230.64C1619.42 230.87 1627.44 230.57 1635.49 230.8C1643.54 231.03 1651.57 231.64 1659.66 232.02C1667.75 232.41 1676.43 233.05 1684.05 233.1C1691.66 233.15 1699.24 232.55 1705.35 232.33C1711.46 232.11 1715.61 232.52 1720.7 231.79C1725.79 231.05 1732.33 228.61 1735.91 227.92C1739.5 227.23 1741.16 227.7 1742.21 227.66" fill="none" stroke="#000" stroke-opacity=".16" stroke-width="3.29" stroke-linecap="round"/>
<path d="M1504.17 216.94C1506.78 215.88 1514.82 211.53 1519.81 210.6C1524.8 209.67 1529.72 210.1 1534.11 211.36C1538.5 212.62 1541.24 216.57 1546.13 218.14C1551.02 219.71 1556.55 220.24 1563.45 220.78C1570.34 221.32 1579.46 221.08 1587.5 221.38C1595.54 221.68 1603.61 222.22 1611.67 222.58C1619.74 222.95 1627.83 222.92 1635.9 223.55C1643.97 224.19 1652.05 225.61 1660.08 226.4C1668.11 227.18 1676.57 228.21 1684.08 228.26C1691.59 228.31 1699.12 226.97 1705.11 226.69C1711.1 226.42 1715.04 227.18 1720.03 226.59C1725.02 226 1731.39 223.79 1735.05 223.16C1738.71 222.53 1740.83 222.88 1741.99 222.83" fill="none" stroke="#fff" stroke-opacity=".2" stroke-width="2.39" stroke-linecap="round"/>
<path d="M1480.08 200.22C1481.49 198.61 1484.11 196.69 1486.13 196.59C1488.14 196.49 1490.31 197.5 1492.17 199.62C1494.03 201.73 1495.29 206.41 1497.31 209.29C1499.32 212.16 1501.44 214.57 1504.26 216.84C1507.08 219.11 1511.36 220.62 1514.23 222.88C1517.1 225.15 1520.58 227.32 1521.48 230.44C1522.39 233.56 1521.28 238.3 1519.67 241.62C1518.06 244.95 1515.14 248.12 1511.81 250.38C1508.49 252.65 1503.75 254.92 1499.73 255.22C1495.7 255.52 1490.91 254.21 1487.64 252.2C1484.36 250.18 1481.69 246.76 1480.08 243.13C1478.47 239.51 1477.92 235.07 1477.97 230.44C1478.02 225.81 1480.43 219.36 1480.38 215.33C1480.33 211.3 1477.72 208.78 1477.66 206.26C1477.61 203.75 1478.67 201.83 1480.08 200.22Z" fill="url(#cg4)"/>
<ellipse cx="1492.47" cy="226.81" rx="1.21" ry="1.21" fill="#fff" opacity="0.9"/>
<path d="M1525.65 360.17C1528.32 357.87 1538.56 355.57 1544.19 354.01C1549.82 352.45 1554.66 349.81 1559.42 350.83C1564.17 351.85 1568.51 357.57 1572.72 360.12C1576.92 362.67 1580.6 365.81 1584.66 366.13C1588.71 366.45 1591.91 364.17 1597.06 362.06C1602.21 359.95 1609.05 355.52 1615.57 353.46C1622.08 351.41 1629.97 349.15 1636.13 349.73C1642.29 350.32 1647.6 355.18 1652.53 356.99C1657.47 358.79 1660.5 360.55 1665.74 360.58C1670.98 360.62 1676.8 357.2 1683.95 357.2C1691.1 357.19 1700.51 359.32 1708.63 360.53C1716.76 361.74 1724.69 363.43 1732.71 364.43C1740.72 365.43 1749.73 366.02 1756.72 366.52C1763.72 367.02 1769.42 367.61 1774.69 367.41C1779.95 367.21 1785.09 365.47 1788.32 365.34C1791.56 365.21 1793.37 365.48 1794.12 366.62C1794.87 367.77 1793.77 371.47 1792.8 372.21C1791.84 372.95 1791.33 371.21 1788.32 371.08C1785.32 370.95 1780.07 371.42 1774.76 371.43C1769.45 371.43 1763.57 371.42 1756.46 371.11C1749.36 370.8 1740.23 370.38 1732.13 369.57C1724.03 368.75 1715.84 367.23 1707.85 366.22C1699.86 365.21 1691.13 363.01 1684.18 363.51C1677.23 364 1671.97 368.65 1666.13 369.19C1660.29 369.73 1654.26 368.46 1649.12 366.74C1643.98 365.02 1640.22 359.3 1635.3 358.88C1630.38 358.46 1625.17 361.74 1619.6 364.22C1614.02 366.7 1607.77 371.33 1601.84 373.75C1595.91 376.17 1590.04 378.93 1584.03 378.75C1578.01 378.57 1570.6 375.16 1565.75 372.67C1560.89 370.18 1558.17 365.63 1554.87 363.83C1551.56 362.03 1550.36 361.2 1545.92 361.86C1541.47 362.52 1531.57 368.07 1528.19 367.79C1524.82 367.51 1522.99 362.46 1525.65 360.17Z" fill="url(#cg5)"/>
<path d="M1527.77 366.52C1530.75 365.53 1540.99 361.36 1545.63 360.55C1550.27 359.74 1552.08 359.99 1555.63 361.67C1559.17 363.34 1562.16 368.08 1566.91 370.58C1571.66 373.07 1578.44 376.44 1584.13 376.64C1589.82 376.85 1595.25 374.17 1601.04 371.8C1606.84 369.43 1613.19 364.83 1618.93 362.42C1624.66 360.02 1630.31 356.91 1635.44 357.36C1640.56 357.81 1644.58 363.38 1649.69 365.11C1654.79 366.85 1660.32 368.2 1666.06 367.75C1671.81 367.31 1677.15 362.87 1684.14 362.46C1691.13 362.04 1699.97 364.23 1707.98 365.27C1716 366.31 1724.14 367.87 1732.23 368.71C1740.31 369.56 1749.42 370 1756.51 370.34C1763.59 370.68 1769.45 370.79 1774.75 370.76C1780.05 370.72 1785.28 370.04 1788.32 370.12C1791.37 370.21 1792.24 371.09 1793.02 371.28" fill="none" stroke="#000" stroke-opacity=".16" stroke-width="2.84" stroke-linecap="round"/>
<path d="M1526.23 361.9C1529.29 360.88 1539.22 357.15 1544.58 355.79C1549.94 354.44 1553.96 352.59 1558.38 353.78C1562.81 354.98 1566.78 360.44 1571.13 362.97C1575.49 365.51 1580.01 368.71 1584.51 369C1589.02 369.29 1592.82 366.9 1598.15 364.72C1603.47 362.54 1610.18 358.06 1616.48 355.91C1622.78 353.76 1630.06 351.26 1635.94 351.81C1641.82 352.36 1646.77 357.41 1651.76 359.2C1656.74 360.99 1660.45 362.63 1665.83 362.54C1671.2 362.44 1676.9 358.75 1684 358.63C1691.11 358.51 1700.36 360.66 1708.46 361.82C1716.55 362.98 1724.54 364.64 1732.58 365.6C1740.61 366.56 1749.64 367.11 1756.66 367.56C1763.69 368.02 1769.43 368.47 1774.7 368.32C1779.98 368.17 1785.14 366.71 1788.32 366.64C1791.51 366.57 1792.9 367.68 1793.82 367.89" fill="none" stroke="#fff" stroke-opacity=".2" stroke-width="2.07" stroke-linecap="round"/>
<path d="M1481.59 326.51C1486.63 325.6 1494.44 324.09 1499.73 324.69C1505.01 325.3 1510.5 326.71 1513.32 330.13C1516.14 333.56 1516.14 340.71 1516.65 345.24C1517.15 349.77 1518.66 355.32 1516.35 357.33C1514.03 359.34 1507.53 356.83 1502.75 357.33C1497.96 357.83 1491.92 358.34 1487.64 360.35C1483.36 362.37 1479.58 365.39 1477.06 369.42C1474.54 373.45 1472.78 378.99 1472.53 384.53C1472.28 390.07 1475.55 397.12 1475.55 402.66C1475.55 408.2 1475.05 413.94 1472.53 417.77C1470.01 421.6 1464.97 424.62 1460.44 425.63C1455.91 426.63 1449.36 426.13 1445.33 423.81C1441.3 421.5 1438.38 416.76 1436.26 411.73C1434.15 406.69 1432.89 400.14 1432.64 393.59C1432.39 387.05 1433.14 378.99 1434.75 372.44C1436.36 365.89 1438.78 359.85 1442.31 354.31C1445.83 348.77 1451.37 343.23 1455.91 339.2C1460.44 335.17 1465.22 332.25 1469.51 330.13C1473.79 328.02 1476.56 327.41 1481.59 326.51Z" fill="url(#cg6)"/>
<path d="M1501.24 358.84C1505.77 359.09 1511.81 359.6 1516.35 361.86C1520.88 364.13 1525.66 368.41 1528.43 372.44C1531.2 376.47 1533.22 381.25 1532.97 386.04C1532.72 390.82 1529.95 397.12 1526.92 401.15C1523.9 405.18 1519.37 408.35 1514.84 410.21C1510.3 412.08 1504.76 412.83 1499.73 412.33C1494.69 411.83 1488.75 410.06 1484.62 407.19C1480.49 404.32 1476.96 399.39 1474.95 395.1C1472.93 390.82 1471.92 386.04 1472.53 381.51C1473.13 376.97 1475.8 371.43 1478.57 367.91C1481.34 364.38 1485.37 361.86 1489.15 360.35C1492.93 358.84 1496.7 358.59 1501.24 358.84Z" fill="url(#cg7)"/>
<path d="M1461.95 355.82C1464.22 355.06 1470.76 353.55 1475.55 351.29C1480.33 349.02 1488.14 343.73 1490.66 342.22" fill="none" stroke="#fff" stroke-width="1.3" stroke-linecap="round" opacity="0.8"/>
<path d="M1455.91 373.95C1455.81 375.46 1455.4 381.51 1455.3 383.02" fill="none" stroke="#fff" stroke-width="1.6" stroke-linecap="round" opacity="0.9"/>
<path d="M1496.7 391.18C1497.96 390.67 1503 388.66 1504.26 388.15" fill="none" stroke="#fff" stroke-width="1.2" stroke-linecap="round" opacity="0.7"/>
<path d="M1452.88 408.1C1453.39 408.3 1455.4 409.11 1455.91 409.31" fill="none" stroke="#fff" stroke-width="1.4" stroke-linecap="round" opacity="0.7"/>
<path d="M1516.8 502.57C1518.78 500.4 1526.51 500.3 1530.79 498.37C1535.07 496.44 1538.43 490.65 1542.48 490.98C1546.54 491.31 1551.25 497.31 1555.14 500.37C1559.03 503.43 1561.4 507.52 1565.81 509.33C1570.22 511.14 1576.07 510.95 1581.6 511.21C1587.12 511.48 1593.88 511.22 1598.97 510.93C1604.06 510.63 1606.87 509.02 1612.14 509.43C1617.41 509.84 1625.22 512.53 1630.57 513.39C1635.92 514.24 1639.96 514.51 1644.24 514.56C1648.52 514.61 1651.69 513.98 1656.27 513.68C1660.85 513.37 1666.07 513.14 1671.71 512.73C1677.34 512.32 1682.46 511.26 1690.07 511.21C1697.68 511.16 1707.79 512.12 1717.37 512.42C1726.95 512.72 1740.05 513.12 1747.56 513.02C1755.07 512.92 1757.9 512.37 1762.44 511.82C1766.99 511.27 1772.6 508.68 1774.83 509.73C1777.06 510.78 1777.83 516.57 1775.83 518.13C1773.83 519.69 1767.56 519.11 1762.83 519.06C1758.11 519.02 1755.09 518.16 1747.5 517.86C1739.9 517.56 1726.8 517.45 1717.24 517.25C1707.69 517.05 1697.65 516.5 1690.15 516.65C1682.65 516.8 1677.7 517.45 1672.25 518.15C1666.8 518.84 1661.95 519.62 1657.46 520.83C1652.98 522.04 1650.1 524.43 1645.32 525.39C1640.54 526.34 1634.5 527.22 1628.77 526.56C1623.04 525.9 1615.74 522.05 1610.94 521.45C1606.13 520.86 1604.92 522.47 1599.93 522.98C1594.95 523.48 1587.6 524.74 1581.04 524.5C1574.48 524.26 1566.22 524.07 1560.56 521.55C1554.9 519.02 1550.22 512.64 1547.06 509.36C1543.89 506.07 1543.57 501.99 1541.58 501.82C1539.6 501.65 1538.93 506.74 1535.15 508.34C1531.37 509.93 1521.97 512.35 1518.92 511.39C1515.86 510.43 1514.82 504.74 1516.8 502.57Z" fill="url(#cg8)"/>
<path d="M1518.56 509.92C1521.21 509.38 1530.56 508.32 1534.42 506.67C1538.28 505.02 1539.4 499.82 1541.73 500.01C1544.06 500.21 1545.12 504.61 1548.4 507.86C1551.69 511.11 1555.98 517.11 1561.44 519.51C1566.89 521.92 1574.74 522.04 1581.13 522.29C1587.52 522.53 1594.77 521.44 1599.77 520.97C1604.77 520.49 1606.25 518.88 1611.14 519.45C1616.02 520.02 1623.4 523.68 1629.07 524.36C1634.74 525.05 1640.44 524.37 1645.14 523.58C1649.84 522.79 1652.76 520.69 1657.27 519.64C1661.77 518.58 1666.68 517.89 1672.16 517.24C1677.64 516.59 1682.62 515.87 1690.13 515.74C1697.65 515.61 1707.7 516.23 1717.27 516.45C1726.83 516.66 1739.92 516.82 1747.51 517.05C1755.09 517.29 1758.08 517.91 1762.77 517.85C1767.46 517.8 1773.51 516.92 1775.66 516.73" fill="none" stroke="#000" stroke-opacity=".16" stroke-width="3.66" stroke-linecap="round"/>
<path d="M1517.28 504.57C1519.7 503.92 1527.61 502.49 1531.78 500.63C1535.94 498.78 1538.69 493.15 1542.28 493.44C1545.87 493.74 1549.58 499.3 1553.3 502.41C1557.03 505.52 1559.93 510.14 1564.62 512.11C1569.31 514.08 1575.71 513.97 1581.47 514.23C1587.23 514.49 1594.12 514.01 1599.19 513.66C1604.25 513.32 1606.7 511.71 1611.87 512.16C1617.03 512.61 1624.72 515.57 1630.16 516.38C1635.6 517.19 1640.09 517.2 1644.48 517.02C1648.88 516.84 1651.99 515.81 1656.54 515.3C1661.1 514.79 1666.24 514.44 1671.83 513.96C1677.42 513.49 1682.5 512.52 1690.09 512.45C1697.68 512.37 1707.77 513.24 1717.34 513.52C1726.92 513.8 1740.01 514.13 1747.55 514.12C1755.08 514.11 1757.94 513.88 1762.53 513.46C1767.12 513.05 1772.97 511.94 1775.06 511.64" fill="none" stroke="#fff" stroke-opacity=".2" stroke-width="2.66" stroke-linecap="round"/>
<path d="M1499.73 473.74C1503.25 474.24 1506.47 475.25 1508.79 477.66C1511.11 480.08 1512.57 484.46 1513.63 488.24C1514.68 492.02 1513.93 498.01 1515.14 500.33C1516.35 502.65 1518.41 501.03 1520.88 502.14C1523.35 503.25 1528.43 504.96 1529.95 506.98C1531.46 508.99 1531.46 512.22 1529.95 514.23C1528.43 516.25 1523.9 516.85 1520.88 519.07C1517.86 521.28 1514.84 524.61 1511.81 527.53C1508.79 530.45 1505.16 533.97 1502.75 536.59C1500.33 539.21 1497.31 540.72 1497.31 543.24C1497.31 545.76 1502.34 548.28 1502.75 551.7C1503.15 555.13 1502.24 560.47 1499.73 563.79C1497.21 567.12 1492.17 570.84 1487.64 571.65C1483.1 572.45 1477.06 571.14 1472.53 568.63C1467.99 566.11 1463.97 561.88 1460.44 556.54C1456.91 551.2 1453.14 543.44 1451.37 536.59C1449.61 529.74 1448.86 522.49 1449.86 515.44C1450.87 508.39 1453.64 500.08 1457.42 494.29C1461.2 488.49 1467.49 483.96 1472.53 480.69C1477.56 477.41 1483.1 475.8 1487.64 474.64C1492.17 473.48 1496.2 473.23 1499.73 473.74Z" fill="url(#cg9)"/>
<ellipse cx="1495.19" cy="505.77" rx="18.13" ry="23.57" fill="#8f8048" transform="rotate(15 1495.19 505.77)" opacity="0.75"/>
<ellipse cx="1490.66" cy="526.02" rx="21.15" ry="8.46" fill="#3e2c12" transform="rotate(-35 1490.66 526.02)" opacity="0.6"/>
<path d="M1490.66 508.79C1491.57 508.49 1494.34 507.13 1496.1 506.98C1497.86 506.83 1500.38 507.73 1501.24 507.88" fill="none" stroke="#fff" stroke-width="1.2" stroke-linecap="round" opacity="0.8"/>
<path d="M1467.99 524.51C1467.84 525.41 1467.24 529.04 1467.09 529.95" fill="none" stroke="#e8c890" stroke-width="1.4" stroke-linecap="round" opacity="0.8"/>
<path d="M1479.18 552.31C1480.18 552.01 1484.21 550.8 1485.22 550.49" fill="none" stroke="#f0e0c0" stroke-width="1.4" stroke-linecap="round" opacity="0.8"/>
<path d="M1513.8 651.55C1517.5 648.87 1529.79 648.57 1538.02 647.31C1546.24 646.04 1554.76 644.01 1563.15 643.96C1571.54 643.91 1580.14 645.86 1588.36 647.01C1596.58 648.16 1605.77 650.07 1612.48 650.86C1619.18 651.64 1622.93 652.73 1628.59 651.72C1634.24 650.71 1640.07 645.98 1646.43 644.82C1652.78 643.65 1660.37 643.65 1666.72 644.73C1673.07 645.81 1677.59 649.99 1684.53 651.3C1691.47 652.61 1700.33 652.22 1708.36 652.58C1716.38 652.94 1725.59 653.06 1732.67 653.46C1739.76 653.86 1745.82 654.57 1750.87 654.97C1755.92 655.38 1758.92 655.64 1762.99 655.88C1767.05 656.13 1772.25 656.47 1775.28 656.45C1778.32 656.42 1780.56 653.78 1781.2 655.74C1781.84 657.7 1780.3 666.55 1779.13 668.2C1777.95 669.86 1776.97 666.41 1774.17 665.69C1771.36 664.96 1766.28 664.29 1762.29 663.83C1758.3 663.37 1755.25 663.33 1750.23 662.93C1745.21 662.53 1739.18 661.93 1732.16 661.42C1725.14 660.91 1716.22 660.03 1708.13 659.89C1700.03 659.74 1690.77 660.66 1683.6 660.56C1676.44 660.46 1670.88 659.5 1665.15 659.27C1659.41 659.04 1654.91 658.03 1649.18 659.18C1643.45 660.33 1637.19 665.38 1630.76 666.18C1624.33 666.99 1618 665.25 1610.6 664.02C1603.2 662.79 1594.26 660.38 1586.37 658.81C1578.47 657.24 1570.95 654.55 1563.22 654.6C1555.49 654.65 1547.9 657.65 1540.01 659.11C1532.11 660.56 1520.23 664.59 1515.87 663.33C1511.5 662.07 1510.11 654.22 1513.8 651.55Z" fill="url(#cg10)"/>
<path d="M1515.52 661.37C1519.55 660.66 1531.73 658.57 1539.67 657.14C1547.62 655.72 1555.37 652.88 1563.21 652.83C1571.05 652.78 1578.75 655.34 1586.7 656.84C1594.65 658.34 1603.63 660.67 1610.91 661.83C1618.19 662.98 1624.09 664.61 1630.39 663.77C1636.69 662.93 1642.88 657.94 1648.72 656.79C1654.56 655.63 1659.57 656.48 1665.41 656.85C1671.25 657.22 1676.63 658.71 1683.76 659.02C1690.88 659.32 1700.08 658.49 1708.17 658.67C1716.25 658.85 1725.22 659.6 1732.25 660.09C1739.28 660.58 1745.31 661.2 1750.34 661.6C1755.36 662 1758.4 662.08 1762.41 662.51C1766.41 662.93 1771.51 663.54 1774.35 664.15C1777.2 664.75 1778.62 665.8 1779.47 666.13" fill="none" stroke="#000" stroke-opacity=".16" stroke-width="4.02" stroke-linecap="round"/>
<path d="M1514.27 654.22C1518.31 653.52 1530.32 651.3 1538.47 649.99C1546.62 648.68 1554.93 646.43 1563.17 646.38C1571.41 646.33 1579.76 648.44 1587.91 649.69C1596.05 650.93 1605.19 652.96 1612.05 653.85C1618.91 654.74 1623.25 655.97 1629.08 655.01C1634.91 654.04 1640.84 649.24 1647.05 648.08C1653.27 646.92 1660.15 647.15 1666.36 648.03C1672.57 648.92 1677.33 652.37 1684.32 653.4C1691.31 654.44 1700.26 653.93 1708.3 654.24C1716.34 654.55 1725.49 654.84 1732.56 655.27C1739.63 655.69 1745.68 656.38 1750.72 656.78C1755.77 657.19 1758.78 657.4 1762.83 657.69C1766.88 657.98 1772.05 658.4 1775.03 658.55C1778.01 658.69 1779.78 658.57 1780.73 658.57" fill="none" stroke="#fff" stroke-opacity=".2" stroke-width="2.93" stroke-linecap="round"/>
<path d="M1490.66 601.53C1495.19 599.52 1498.72 599.27 1502.75 600.02C1506.78 600.78 1511.76 603.04 1514.84 606.07C1517.91 609.09 1520.38 614.12 1521.18 618.15C1521.99 622.18 1521.13 627.72 1519.67 630.24C1518.21 632.76 1514.13 631.25 1512.42 633.26C1510.71 635.28 1507.99 639.51 1509.4 642.33C1510.81 645.15 1517.96 647.67 1520.88 650.19C1523.8 652.71 1526.92 654.22 1526.92 657.44C1526.92 660.66 1523.9 666.2 1520.88 669.53C1517.86 672.85 1513.32 675.82 1508.79 677.38C1504.26 678.95 1498.72 679.65 1493.68 678.9C1488.64 678.14 1482.6 675.92 1478.57 672.85C1474.54 669.78 1471.52 665.04 1469.51 660.46C1467.49 655.88 1466.74 650.89 1466.48 645.35C1466.23 639.81 1466.48 632.76 1467.99 627.22C1469.51 621.68 1471.77 616.39 1475.55 612.11C1479.33 607.83 1486.13 603.55 1490.66 601.53Z" fill="url(#cg11)"/>
<ellipse cx="1504.26" cy="634.77" rx="3.63" ry="10.27" fill="#b89a98" transform="rotate(-20 1504.26 634.77)" opacity="0.85"/>
<ellipse cx="1498.21" cy="618.76" rx="2.72" ry="2.12" fill="#b06a3a" opacity="0.9"/>
<path d="M1471.92 651.4C1472.12 651.9 1472.93 653.91 1473.13 654.42" fill="none" stroke="#fff" stroke-width="2.2" stroke-linecap="round" opacity="0.8"/>
<path d="M1479.18 633.26C1479.48 633.67 1480.69 635.28 1480.99 635.68" fill="none" stroke="#fff" stroke-width="1.6" stroke-linecap="round" opacity="0.6"/>
<path d="M1525.01 783.89C1529.78 782.77 1543.14 788.42 1551.38 788.93C1559.62 789.44 1566.98 787.92 1574.43 786.93C1581.89 785.95 1588.7 783.5 1596.1 783.01C1603.5 782.52 1612.31 783.08 1618.83 783.99C1625.36 784.91 1631.11 787.28 1635.24 788.51C1639.37 789.74 1640.2 791.29 1643.63 791.38C1647.07 791.47 1651.18 789.83 1655.85 789.02C1660.52 788.21 1666.68 787.05 1671.67 786.52C1676.66 786 1680.64 785.47 1685.79 785.88C1690.93 786.29 1697.48 788.17 1702.54 788.98C1707.6 789.79 1711.12 790.11 1716.14 790.76C1721.16 791.41 1727.38 792.39 1732.64 792.89C1737.9 793.39 1742.43 793.41 1747.7 793.76C1752.98 794.12 1758.98 794.7 1764.28 795C1769.58 795.3 1774.65 795.18 1779.51 795.58C1784.37 795.99 1789.09 796.48 1793.44 797.45C1797.78 798.42 1801.81 800.93 1805.57 801.39C1809.33 801.85 1814.51 798.66 1815.99 800.22C1817.47 801.78 1816.39 809.69 1814.45 810.75C1812.5 811.8 1808.01 807.91 1804.32 806.56C1800.62 805.21 1796.5 803.59 1792.28 802.64C1788.06 801.69 1783.72 801.38 1779.01 800.88C1774.3 800.38 1769.29 799.95 1764.02 799.65C1758.74 799.35 1752.65 799.42 1747.35 799.07C1742.05 798.72 1737.51 798.03 1732.2 797.53C1726.88 797.02 1720.51 796.69 1715.45 796.03C1710.4 795.38 1706.87 794.28 1701.85 793.58C1696.84 792.88 1690.3 792.14 1685.37 791.85C1680.44 791.55 1676.86 791.22 1672.28 791.81C1667.7 792.39 1662.28 793.24 1657.89 795.35C1653.49 797.46 1650.55 802.98 1645.93 804.48C1641.3 805.97 1635.08 806.02 1630.14 804.33C1625.21 802.64 1621.9 796.34 1616.33 794.33C1610.77 792.33 1603.46 791.78 1596.76 792.3C1590.06 792.81 1583.77 796.01 1576.12 797.44C1568.46 798.87 1559.71 801.18 1550.82 800.88C1541.93 800.59 1527.09 798.48 1522.79 795.65C1518.49 792.82 1520.25 785.01 1525.01 783.89Z" fill="url(#cg12)"/>
<path d="M1523.16 793.69C1527.79 794.56 1542.13 798.56 1550.91 798.89C1559.69 799.22 1568.21 797.05 1575.83 795.69C1583.46 794.33 1589.83 791.26 1596.65 790.75C1603.47 790.24 1611.03 790.79 1616.75 792.61C1622.47 794.44 1626.19 800.08 1630.99 801.69C1635.79 803.3 1641.12 803.53 1645.54 802.29C1649.97 801.06 1653.11 796.19 1657.55 794.3C1661.99 792.4 1667.53 791.5 1672.18 790.93C1676.83 790.35 1680.47 790.54 1685.44 790.85C1690.4 791.17 1696.95 792.1 1701.97 792.81C1706.99 793.53 1710.52 794.5 1715.57 795.15C1720.62 795.81 1726.96 796.25 1732.27 796.75C1737.58 797.26 1742.11 797.83 1747.41 798.19C1752.71 798.54 1758.78 798.57 1764.06 798.87C1769.34 799.17 1774.36 799.51 1779.09 800C1783.83 800.48 1788.23 800.82 1792.47 801.77C1796.71 802.72 1800.82 804.49 1804.53 805.7C1808.23 806.9 1813.01 808.44 1814.7 808.99" fill="none" stroke="#000" stroke-opacity=".16" stroke-width="1.65" stroke-linecap="round"/>
<path d="M1524.51 786.56C1528.96 787.41 1542.87 791.19 1551.25 791.65C1559.64 792.11 1567.32 790.41 1574.82 789.32C1582.32 788.23 1589.01 785.62 1596.25 785.12C1603.49 784.63 1611.96 785.18 1618.26 786.34C1624.57 787.51 1629.77 790.77 1634.08 792.1C1638.4 793.44 1640.45 794.63 1644.16 794.36C1647.86 794.08 1651.7 791.57 1656.31 790.46C1660.92 789.36 1666.91 788.26 1671.81 787.72C1676.71 787.19 1680.6 786.85 1685.69 787.23C1690.79 787.62 1697.34 789.24 1702.39 790.03C1707.43 790.81 1710.96 791.3 1715.98 791.96C1721.01 792.61 1727.26 793.44 1732.54 793.95C1737.81 794.45 1742.34 794.62 1747.62 794.97C1752.9 795.32 1758.93 795.75 1764.22 796.06C1769.52 796.36 1774.57 796.36 1779.4 796.79C1784.22 797.22 1788.86 797.67 1793.17 798.63C1797.49 799.59 1801.54 801.9 1805.29 802.56C1809.03 803.23 1813.92 802.6 1815.64 802.61" fill="none" stroke="#fff" stroke-opacity=".2" stroke-width="1.2" stroke-linecap="round"/>
<ellipse cx="1686.18" cy="788.86" rx="13.3" ry="6.65" fill="#a4841e" transform="rotate(8 1686.18 788.86)"/>
<ellipse cx="1684.97" cy="787.05" rx="7.98" ry="2.33" fill="#cdb04a" transform="rotate(8 1684.97 787.05)" opacity="0.7"/>
<ellipse cx="1716.1" cy="793.4" rx="11.48" ry="5.44" fill="#a4841e" transform="rotate(6 1716.1 793.4)"/>
<ellipse cx="1714.89" cy="791.58" rx="6.89" ry="1.9" fill="#cdb04a" transform="rotate(6 1714.89 791.58)" opacity="0.7"/>
<ellipse cx="1747.53" cy="796.42" rx="11.79" ry="5.74" fill="#a4841e" transform="rotate(4 1747.53 796.42)"/>
<ellipse cx="1746.32" cy="794.6" rx="7.07" ry="2.01" fill="#cdb04a" transform="rotate(4 1746.32 794.6)" opacity="0.7"/>
<ellipse cx="1779.26" cy="798.23" rx="10.58" ry="6.04" fill="#a4841e" transform="rotate(4 1779.26 798.23)"/>
<ellipse cx="1778.05" cy="796.42" rx="6.35" ry="2.12" fill="#cdb04a" transform="rotate(4 1778.05 796.42)" opacity="0.7"/>
<path d="M1448.35 781.31C1450.92 779.29 1456.41 777.28 1460.44 778.29C1464.47 779.29 1467.99 784.58 1472.53 787.35C1477.06 790.12 1482.6 793.14 1487.64 794.91C1492.67 796.67 1499.62 795.16 1502.75 797.93C1505.87 800.7 1507.38 806.74 1506.37 811.53C1505.37 816.31 1500.83 823.06 1496.7 826.64C1492.57 830.21 1486.63 832.18 1481.59 832.98C1476.56 833.79 1471.02 833.54 1466.48 831.47C1461.95 829.41 1457.67 824.92 1454.4 820.59C1451.12 816.26 1448.4 810.52 1446.84 805.48C1445.28 800.45 1444.78 794.4 1445.03 790.37C1445.28 786.34 1445.78 783.32 1448.35 781.31Z" fill="url(#cg13)"/>
<path d="M1508.79 753.51C1512.57 753.51 1517.35 754.01 1520.88 755.62C1524.4 757.23 1527.83 760.15 1529.95 763.18C1532.06 766.2 1533.57 770.23 1533.57 773.75C1533.57 777.28 1532.06 781.16 1529.95 784.33C1527.83 787.5 1524.4 790.98 1520.88 792.79C1517.35 794.6 1512.82 795.21 1508.79 795.21C1504.76 795.21 1500.13 794.6 1496.7 792.79C1493.28 790.98 1490.11 787.5 1488.24 784.33C1486.38 781.16 1485.37 777.28 1485.52 773.75C1485.67 770.23 1487.03 766.2 1489.15 763.18C1491.26 760.15 1494.94 757.23 1498.21 755.62C1501.49 754.01 1505.01 753.51 1508.79 753.51Z" fill="url(#cg14)"/>
<path d="M1470.11 811.53C1471.62 811.28 1477.66 810.27 1479.18 810.02" fill="none" stroke="#fff" stroke-width="1.4" stroke-linecap="round" opacity="0.8"/>
<path d="M1507.28 777.68C1509.55 777.28 1518.01 775.26 1520.88 775.26C1523.75 775.26 1523.9 777.28 1524.51 777.68" fill="none" stroke="#fff" stroke-width="1.2" stroke-linecap="round" opacity="0.6"/>
<path d="M1544.66 910.75C1548.55 908.57 1560.76 908.94 1568.82 908.27C1576.88 907.61 1584.9 907.15 1593.03 906.76C1601.17 906.36 1610.29 905.72 1617.62 905.9C1624.95 906.09 1630.69 906.44 1637 907.87C1643.31 909.31 1649.64 912.95 1655.48 914.53C1661.32 916.1 1666.92 917.19 1672.03 917.32C1677.15 917.46 1681.96 915.77 1686.16 915.35C1690.36 914.93 1694.32 914.74 1697.23 914.81C1700.14 914.88 1697.77 915.72 1703.63 915.78C1709.49 915.85 1722.58 915.15 1732.42 915.21C1742.25 915.26 1755.33 916.23 1762.64 916.12C1769.94 916 1772.52 914.87 1776.24 914.54C1779.95 914.22 1783.64 912.67 1784.91 914.15C1786.18 915.63 1785.33 922.23 1783.88 923.4C1782.44 924.57 1779.78 921.52 1776.24 921.19C1772.7 920.86 1769.94 921.54 1762.64 921.43C1755.33 921.32 1742.23 920.47 1732.42 920.53C1722.61 920.58 1709.51 921.4 1703.79 921.77C1698.07 922.13 1700.73 922.06 1698.1 922.74C1695.47 923.42 1692.37 924.73 1688.01 925.83C1683.65 926.92 1677.89 929.25 1671.92 929.29C1665.96 929.33 1658.46 927.89 1652.22 926.04C1645.97 924.19 1640.2 919.78 1634.42 918.19C1628.65 916.61 1624.32 916.45 1617.54 916.54C1610.77 916.62 1601.76 918.09 1593.78 918.7C1585.8 919.31 1577.7 919.77 1569.64 920.21C1561.59 920.65 1549.62 922.94 1545.45 921.36C1541.29 919.78 1540.76 912.93 1544.66 910.75Z" fill="url(#cg15)"/>
<path d="M1545.32 919.59C1549.35 919.36 1561.45 918.7 1569.5 918.22C1577.56 917.74 1585.65 917.29 1593.66 916.71C1601.66 916.14 1610.69 914.81 1617.56 914.77C1624.42 914.73 1628.99 914.91 1634.85 916.47C1640.72 918.03 1646.58 922.32 1652.76 924.12C1658.94 925.93 1666.12 927.3 1671.94 927.3C1677.77 927.29 1683.37 925.06 1687.7 924.08C1692.04 923.1 1695.28 921.97 1697.95 921.42C1700.63 920.87 1698.02 921.06 1703.76 920.77C1709.5 920.47 1722.6 919.68 1732.42 919.64C1742.23 919.6 1755.33 920.47 1762.64 920.55C1769.94 920.62 1772.67 919.87 1776.24 920.08C1779.81 920.3 1782.75 921.56 1784.05 921.86" fill="none" stroke="#000" stroke-opacity=".16" stroke-width="2.93" stroke-linecap="round"/>
<path d="M1544.84 913.16C1548.87 912.8 1560.95 911.6 1569.01 910.99C1577.07 910.37 1585.1 909.92 1593.2 909.47C1601.3 909.03 1610.4 908.19 1617.6 908.32C1624.81 908.44 1630.23 908.75 1636.42 910.22C1642.61 911.69 1648.8 915.51 1654.74 917.15C1660.67 918.78 1666.7 919.95 1672.01 920.04C1677.32 920.14 1682.35 918.3 1686.58 917.73C1690.82 917.16 1694.58 916.71 1697.43 916.61C1700.28 916.51 1697.83 917.18 1703.67 917.14C1709.5 917.11 1722.59 916.39 1732.42 916.42C1742.25 916.45 1755.33 917.38 1762.64 917.32C1769.94 917.26 1772.56 916.23 1776.24 916.05C1779.91 915.88 1783.27 916.22 1784.68 916.25" fill="none" stroke="#fff" stroke-opacity=".2" stroke-width="2.13" stroke-linecap="round"/>
<path d="M1490.66 885.53C1494.69 883.67 1499.73 882.91 1505.77 883.42C1511.81 883.92 1520.88 885.94 1526.92 888.55C1532.97 891.17 1538.21 894.85 1542.03 899.13C1545.86 903.41 1548.83 909.21 1549.89 914.24C1550.95 919.28 1549.69 924.82 1548.38 929.35C1547.07 933.88 1544.6 937.91 1542.03 941.44C1539.46 944.97 1536.49 947.99 1532.97 950.51C1529.44 953.02 1524.91 954.74 1520.88 956.55C1516.85 958.36 1512.32 960.83 1508.79 961.38C1505.27 961.94 1501.99 961.38 1499.73 959.87C1497.46 958.36 1497.71 955.39 1495.19 952.32C1492.67 949.25 1487.64 945.77 1484.62 941.44C1481.59 937.11 1478.37 931.87 1477.06 926.33C1475.75 920.79 1476 913.49 1476.76 908.2C1477.51 902.91 1479.28 898.38 1481.59 894.6C1483.91 890.82 1486.63 887.4 1490.66 885.53Z" fill="url(#cg16)"/>
<ellipse cx="1509.4" cy="914.85" rx="6.65" ry="7.86" fill="#4a3a24" opacity="0.9"/>
<ellipse cx="1512.42" cy="918.77" rx="3.02" ry="3.63" fill="#8a6a58" opacity="0.9"/>
<path d="M1504.26 942.95C1506.02 941.94 1511.56 939.68 1514.84 936.91C1518.11 934.14 1522.39 928.09 1523.9 926.33" fill="none" stroke="#3a2e18" stroke-width="1.5" stroke-linecap="round" opacity="0.8"/>
<path d="M1486.13 903.66C1486.63 902.91 1488.64 899.89 1489.15 899.13" fill="none" stroke="#fff" stroke-width="2" stroke-linecap="round" opacity="0.6"/>
<path d="M1532.97 905.18C1534.08 906.18 1538.51 910.21 1539.62 911.22" fill="none" stroke="#fff" stroke-width="2" stroke-linecap="round" opacity="0.5"/>
<path d="M1487.64 929.35C1488.14 930.36 1490.16 934.39 1490.66 935.4" fill="none" stroke="#fff" stroke-width="2" stroke-linecap="round" opacity="0.45"/>
<path d="M1540.98 1069.03C1545.29 1066.12 1560.03 1064 1569 1063.5C1577.96 1063 1586.4 1064.6 1594.74 1066.04C1603.09 1067.47 1612.31 1070.36 1619.05 1072.11C1625.8 1073.85 1629.98 1076.53 1635.22 1076.51C1640.46 1076.49 1644.34 1072.02 1650.51 1071.97C1656.68 1071.92 1665.65 1075.45 1672.26 1076.2C1678.86 1076.95 1683.66 1076.34 1690.16 1076.49C1696.66 1076.64 1706.22 1077.19 1711.24 1077.09C1716.26 1076.99 1716.75 1076.19 1720.28 1075.88C1723.81 1075.58 1728.37 1075.13 1732.42 1075.28C1736.46 1075.43 1741.53 1076.24 1744.55 1076.79C1747.58 1077.35 1747.31 1078.3 1750.57 1078.6C1753.83 1078.91 1761.12 1078.91 1764.13 1078.6C1767.14 1078.3 1766.45 1077.19 1768.62 1076.79C1770.79 1076.39 1774.22 1076.04 1777.14 1076.19C1780.07 1076.34 1784.06 1077.42 1786.17 1077.7C1788.28 1077.98 1785.82 1077.9 1789.8 1077.85C1793.78 1077.8 1806.68 1076.97 1810.06 1077.4C1813.44 1077.82 1813.47 1079.89 1810.1 1080.42C1806.74 1080.95 1793.85 1080.42 1789.87 1080.57C1785.89 1080.72 1788.37 1080.95 1786.25 1081.32C1784.13 1081.7 1780.06 1082.68 1777.14 1082.84C1774.22 1082.99 1770.91 1082.53 1768.74 1082.23C1766.58 1081.93 1767.2 1081.22 1764.17 1081.02C1761.13 1080.82 1753.82 1080.82 1750.53 1081.02C1747.25 1081.22 1747.48 1081.78 1744.46 1082.23C1741.44 1082.68 1736.43 1083.59 1732.42 1083.74C1728.4 1083.89 1723.9 1083.34 1720.38 1083.14C1716.86 1082.94 1716.34 1082.53 1711.29 1082.53C1706.24 1082.53 1696.66 1083.19 1690.06 1083.14C1683.46 1083.08 1678.19 1082.67 1671.7 1082.22C1665.21 1081.76 1657.06 1079.55 1651.14 1080.41C1645.23 1081.26 1642.04 1086.36 1636.21 1087.35C1630.37 1088.33 1623.47 1087.49 1616.11 1086.31C1608.76 1085.14 1599.84 1081.88 1592.07 1080.29C1584.3 1078.71 1577.63 1076.68 1569.47 1076.79C1561.3 1076.89 1547.84 1082.22 1543.09 1080.93C1538.34 1079.64 1536.66 1071.93 1540.98 1069.03Z" fill="url(#cg17)"/>
<ellipse cx="1534.48" cy="1068.33" rx="16.62" ry="15.11" fill="#4a3220"/>
<ellipse cx="1531.76" cy="1068.33" rx="6.04" ry="4.84" fill="#b88a84" opacity="0.9"/>
<path d="M1470.11 1040.53C1472.28 1040.38 1478.17 1037.76 1483.1 1039.62C1488.04 1041.48 1494.84 1046.92 1499.73 1051.71C1504.61 1056.49 1509.4 1062.29 1512.42 1068.33C1515.44 1074.37 1517.96 1081.68 1517.86 1087.97C1517.76 1094.27 1515.09 1101.82 1511.81 1106.1C1508.54 1110.39 1502.75 1113.41 1498.21 1113.66C1493.68 1113.91 1487.49 1110.89 1484.62 1107.62C1481.74 1104.34 1480.49 1098.3 1480.99 1094.02C1481.49 1089.74 1486.53 1083.94 1487.64 1081.93" fill="none" stroke="#2b1e1b" stroke-width="18.74" stroke-linecap="round"/>
<ellipse cx="1499.73" cy="1095.53" rx="27.8" ry="27.8" fill="#2a1d1a"/>
<path d="M1474.04 1041.13C1475.8 1041.89 1481.85 1043.65 1484.62 1045.66C1487.39 1047.68 1489.65 1051.96 1490.66 1053.22" fill="none" stroke="#fff" stroke-width="1.6" stroke-linecap="round" opacity="0.7"/>
<path d="M1514.84 1080.42C1515.34 1082.18 1517.35 1089.23 1517.86 1090.99" fill="none" stroke="#fff" stroke-width="1.8" stroke-linecap="round" opacity="0.7"/>
<path d="M1483.1 1095.53C1483.86 1096.79 1486.88 1101.82 1487.64 1103.08" fill="none" stroke="#fff" stroke-width="1.3" stroke-linecap="round" opacity="0.6"/>
<path d="M1496.7 1075.88C1497.96 1076.89 1503 1080.92 1504.26 1081.93" fill="none" stroke="#fff" stroke-width="1.2" stroke-linecap="round" opacity="0.5"/>
</g>
<line x1="1400" y1="168.9" x2="1947.5" y2="168.9" stroke="#0f2064" stroke-width="2"/>
<line x1="1400" y1="311.4" x2="1947.5" y2="311.4" stroke="#0f2064" stroke-width="2"/>
<line x1="1400" y1="453.9" x2="1947.5" y2="453.9" stroke="#0f2064" stroke-width="2"/>
<line x1="1400" y1="596.4" x2="1947.5" y2="596.4" stroke="#0f2064" stroke-width="2"/>
<line x1="1400" y1="738.9" x2="1947.5" y2="738.9" stroke="#0f2064" stroke-width="2"/>
<line x1="1400" y1="881.4" x2="1947.5" y2="881.4" stroke="#0f2064" stroke-width="2"/>
<line x1="1400" y1="1023.9" x2="1947.5" y2="1023.9" stroke="#0f2064" stroke-width="2"/>
<rect x="1399.8" y="26.4" width="547.6" height="1140" fill="none" stroke="#0f2064" stroke-width="2.3"/>
<text x="13.2" y="1260.2" font-size="28">h</text>
<text x="94" y="1287.6" font-size="26.5" font-weight="bold" xml:space="preserve">HE <tspan x="143" textLength="73" lengthAdjust="spacing">(40×)</tspan></text>
<text x="415" y="1287.6" font-size="26.5" text-anchor="middle" font-weight="bold" textLength="171" lengthAdjust="spacing">Mø Infiltration</text>
<text x="30.8" y="1393" font-size="26.5" transform="rotate(-90 30.8 1393)" text-anchor="middle" font-weight="bold" textLength="57.24" lengthAdjust="spacingAndGlyphs">Mock</text>
<text x="30.8" y="1584.3" font-size="26.5" transform="rotate(-90 30.8 1584.3)" text-anchor="middle" font-weight="bold" textLength="39.83" lengthAdjust="spacingAndGlyphs">Veh</text>
<text x="30.8" y="1773" font-size="26.5" transform="rotate(-90 30.8 1773)" text-anchor="middle" font-weight="bold" textLength="42.3" lengthAdjust="spacingAndGlyphs">Abx</text>
<text x="30.8" y="1960" font-size="26.5" transform="rotate(-90 30.8 1960)" text-anchor="middle" font-weight="bold" textLength="42.3" lengthAdjust="spacingAndGlyphs">Neo</text>
<text x="30.8" y="2147" font-size="26.5" transform="rotate(-90 30.8 2147)" text-anchor="middle" font-weight="bold" textLength="133.08" lengthAdjust="spacingAndGlyphs">Abx- FMT(N)</text>
<g clip-path="url(#hc1)">
<rect x="43.9" y="1301.3" width="215" height="184.3" fill="#f3c2da"/>
<path d="M43.9 1396.9L151.9 1311.3L178.9 1289.3L258.9 1289.3L258.9 1333.3L150.9 1406.3L87.9 1491.3L43.9 1491.3Z" fill="#d8b4dc"/>
<path d="M116.9 1491.3L150.9 1424.3L258.9 1354.3L258.9 1387.3L149.9 1458.3L135.9 1491.3Z" fill="#f3a9cc"/>
<path d="M141.9 1491.3L149.9 1466.3L258.9 1396.9L258.9 1491.3Z" fill="#d8b4dc"/>
<g fill="#ecd6ec" stroke="#6446a8" stroke-width="2.1"><ellipse cx="36.36" cy="1469.18" rx="25.32" ry="3.51" transform="rotate(66.75 36.36 1469.18)"/><ellipse cx="46.47" cy="1462.76" rx="24.42" ry="3.46" transform="rotate(65.73 46.47 1462.76)"/><ellipse cx="55.56" cy="1456.72" rx="23.9" ry="4.63" transform="rotate(62.63 55.56 1456.72)"/><ellipse cx="66" cy="1452.19" rx="27.17" ry="4.26" transform="rotate(65.36 66 1452.19)"/><ellipse cx="78.24" cy="1444.3" rx="26.62" ry="3.83" transform="rotate(62.84 78.24 1444.3)"/><ellipse cx="85.19" cy="1438.37" rx="26.35" ry="3.67" transform="rotate(54.79 85.19 1438.37)"/><ellipse cx="95.18" cy="1430.42" rx="24.67" ry="3.49" transform="rotate(49.57 95.18 1430.42)"/><ellipse cx="102.3" cy="1423.2" rx="23.92" ry="3.87" transform="rotate(54.83 102.3 1423.2)"/><ellipse cx="111.47" cy="1413.91" rx="26.21" ry="4.44" transform="rotate(51.41 111.47 1413.91)"/><ellipse cx="120.26" cy="1406.44" rx="26.72" ry="4.49" transform="rotate(51.85 120.26 1406.44)"/><ellipse cx="129.9" cy="1397.08" rx="23.86" ry="4.53" transform="rotate(50.49 129.9 1397.08)"/><ellipse cx="136.85" cy="1388.7" rx="25.43" ry="4.54" transform="rotate(54.7 136.85 1388.7)"/><ellipse cx="146.66" cy="1381.65" rx="25.6" ry="4.28" transform="rotate(65.11 146.66 1381.65)"/><ellipse cx="155.15" cy="1376.73" rx="27.15" ry="4.11" transform="rotate(65.95 155.15 1376.73)"/><ellipse cx="163.71" cy="1369.82" rx="25.29" ry="4.88" transform="rotate(67.53 163.71 1369.82)"/><ellipse cx="174.14" cy="1362.37" rx="25.43" ry="3.43" transform="rotate(63.93 174.14 1362.37)"/><ellipse cx="183.54" cy="1355.06" rx="21.62" ry="4.54" transform="rotate(60.6 183.54 1355.06)"/><ellipse cx="193.52" cy="1349.39" rx="26.7" ry="3.52" transform="rotate(63.8 193.52 1349.39)"/><ellipse cx="204.18" cy="1344.37" rx="26.37" ry="4.69" transform="rotate(64.18 204.18 1344.37)"/><ellipse cx="213.76" cy="1336.65" rx="26.78" ry="4.82" transform="rotate(62.9 213.76 1336.65)"/><ellipse cx="223.02" cy="1330.13" rx="22.71" ry="4.12" transform="rotate(67.28 223.02 1330.13)"/><ellipse cx="233.26" cy="1323.31" rx="23.87" ry="3.95" transform="rotate(67.06 233.26 1323.31)"/><ellipse cx="245.31" cy="1319.22" rx="24.47" ry="4.32" transform="rotate(68.15 245.31 1319.22)"/><ellipse cx="252.59" cy="1313.71" rx="26.12" ry="4.7" transform="rotate(69.37 252.59 1313.71)"/><ellipse cx="263.59" cy="1306.07" rx="21.9" ry="4.34" transform="rotate(62.01 263.59 1306.07)"/></g>
<g fill="#ecd6ec" stroke="#6446a8" stroke-width="2.1"><ellipse cx="159.34" cy="1492.08" rx="23.15" ry="3.91" transform="rotate(53.02 159.34 1492.08)"/><ellipse cx="168.62" cy="1483.22" rx="22.76" ry="3.94" transform="rotate(52.74 168.62 1483.22)"/><ellipse cx="180.72" cy="1475.92" rx="23.07" ry="3.78" transform="rotate(55.96 180.72 1475.92)"/><ellipse cx="188.67" cy="1465.76" rx="27.62" ry="4.88" transform="rotate(57.15 188.67 1465.76)"/><ellipse cx="198.5" cy="1456.96" rx="22.76" ry="3.91" transform="rotate(55.14 198.5 1456.96)"/><ellipse cx="209.66" cy="1449.35" rx="22.25" ry="4.81" transform="rotate(68.68 209.66 1449.35)"/><ellipse cx="218.56" cy="1443.75" rx="22.28" ry="4.19" transform="rotate(73.18 218.56 1443.75)"/><ellipse cx="231.66" cy="1437.47" rx="23.8" ry="3.95" transform="rotate(65.06 231.66 1437.47)"/><ellipse cx="242.34" cy="1430.24" rx="27.16" ry="3.89" transform="rotate(65.62 242.34 1430.24)"/><ellipse cx="253.41" cy="1424.86" rx="27.64" ry="4.6" transform="rotate(71.58 253.41 1424.86)"/><ellipse cx="264.14" cy="1415.85" rx="25.46" ry="3.93" transform="rotate(63.68 264.14 1415.85)"/></g>
<rect x="43.9" y="1301.3" width="215" height="184.3" fill="#000" filter="url(#spP3)" opacity=".4"/>
<rect x="43.9" y="1301.3" width="215" height="184.3" fill="#000" filter="url(#spP)"/>
<path d="M43.9 1374.8L151.9 1301.3L168.9 1289.3L178.9 1289.3L151.9 1311.3L43.9 1396.9Z" fill="#fff" opacity="0.93"/>
<path d="M87.9 1491.3L150.9 1406.3L258.9 1333.3L258.9 1354.3L150.9 1424.3L116.9 1491.3Z" fill="#fff" opacity="0.96"/>
<path d="M135.9 1491.3L149.9 1458.3L258.9 1387.3L258.9 1396.9L149.9 1466.3L141.9 1491.3Z" fill="#fff" opacity="0.9"/>
<path d="M43.9 1397.9C61.9 1383.63 129.4 1330.23 151.9 1312.3C174.4 1294.37 174.4 1293.97 178.9 1290.3" fill="none" stroke="#ee8fc0" stroke-width="1.6" opacity=".85"/>
</g>
<text x="50.4" y="1478.1" font-size="6.6" font-weight="bold" fill="#111" font-family='"Liberation Serif", serif'>500 µm</text>
<line x1="49.9" y1="1481.1" x2="87.9" y2="1481.1" stroke="#111" stroke-width="1.2"/>
<g clip-path="url(#hc2)">
<rect x="43.9" y="1489.95" width="215" height="184.3" fill="#f3a0cf"/>
<path d="M43.9 1563.8L100.82 1534.57L162.36 1506.87L208.52 1489.95L257.75 1489.95L257.75 1542.26L223.9 1549.95L177.75 1571.49L139.28 1594.57L111.59 1622.26L93.13 1649.95L82.36 1674.57L43.9 1674.57Z" fill="#f3cfe6"/>
<path d="M43.9 1563.8L100.82 1534.57L162.36 1506.87L208.52 1489.95L257.75 1489.95L257.75 1542.26L223.9 1549.95L177.75 1571.49L139.28 1594.57L111.59 1622.26L93.13 1649.95L82.36 1674.57L43.9 1674.57Z" fill="#000" filter="url(#spV)"/>
<path d="M103.9 1674.57L119.28 1637.64L146.98 1606.87L185.44 1582.26L257.75 1556.1L257.75 1674.57Z" fill="#f6b4d8" opacity="0.8"/>
<rect x="43.9" y="1489.95" width="215" height="184.3" fill="#000" filter="url(#spP2)"/>
<path d="M80.82 1674.57C83.39 1668.41 89.54 1649.18 96.21 1637.64C102.87 1626.1 110.31 1615.59 120.82 1605.33C131.34 1595.08 145.18 1584.31 159.28 1576.1C173.39 1567.9 190.05 1561.74 205.44 1556.1C220.82 1550.46 243.9 1544.57 251.59 1542.26" fill="none" stroke="#fff" stroke-width="3.4" opacity=".8"/>
<path d="M86.98 1674.57C89.54 1668.41 95.69 1648.67 102.36 1637.64C109.03 1626.62 116.72 1617.9 126.98 1608.41C137.23 1598.92 150.05 1588.8 163.9 1580.72C177.75 1572.64 194.93 1565.72 210.05 1559.95C225.18 1554.18 247.23 1548.41 254.67 1546.1" fill="none" stroke="#ea58ae" stroke-width="5" stroke-linecap="round"/>
<path d="M48.52 1569.95C53.39 1566.36 68.52 1555.08 77.75 1548.41C86.98 1541.74 93.9 1536.1 103.9 1529.95C113.9 1523.8 132.11 1514.57 137.75 1511.49" fill="none" stroke="#fff" stroke-width="2.6" opacity=".75"/>
<path d="M50.05 1576.1C54.93 1572.39 70.05 1560.59 79.28 1553.8C88.52 1547 94.16 1542.13 105.44 1535.33C116.72 1528.54 140.05 1516.74 146.98 1513.03" fill="none" stroke="#ee70ba" stroke-width="3" opacity=".8"/>
<path d="M216.21 1645.33L257.75 1629.95L257.75 1674.57L193.13 1674.57Z" fill="#fbe4f0" opacity="0.6"/>
</g>
<text x="50.4" y="1666.75" font-size="6.6" font-weight="bold" fill="#111" font-family='"Liberation Serif", serif'>500 µm</text>
<line x1="49.9" y1="1669.75" x2="87.9" y2="1669.75" stroke="#111" stroke-width="1.2"/>
<g clip-path="url(#hc3)">
<rect x="43.9" y="1678.6" width="215" height="184.3" fill="#f5b4d2"/>
<path d="M43.9 1755L151.9 1711.1L258.9 1692.6L258.9 1761.6L151.9 1778.6L97.9 1805.9L38.9 1847.6Z" fill="#dcb8dc"/>
<g fill="#fbf2f8" stroke="#6a4cae" stroke-width="2"><ellipse cx="44.98" cy="1790.58" rx="11.89" ry="7.3" transform="rotate(86.78 44.98 1790.58)"/><ellipse cx="62.61" cy="1782.94" rx="14.26" ry="7.94" transform="rotate(80.86 62.61 1782.94)"/><ellipse cx="77.65" cy="1769.83" rx="11.69" ry="6.1" transform="rotate(83.46 77.65 1769.83)"/><ellipse cx="96.31" cy="1762.02" rx="12.61" ry="7.2" transform="rotate(85.21 96.31 1762.02)"/><ellipse cx="110.29" cy="1753.52" rx="14.01" ry="7.52" transform="rotate(95.34 110.29 1753.52)"/><ellipse cx="129.43" cy="1744.43" rx="13.61" ry="6.41" transform="rotate(95.84 129.43 1744.43)"/><ellipse cx="148.97" cy="1738.15" rx="12.35" ry="7.92" transform="rotate(95.08 148.97 1738.15)"/><ellipse cx="164.22" cy="1733.24" rx="11.54" ry="7.82" transform="rotate(110.28 164.22 1733.24)"/><ellipse cx="182.92" cy="1733.47" rx="14.24" ry="7.21" transform="rotate(105.72 182.92 1733.47)"/><ellipse cx="203.32" cy="1728.12" rx="11.1" ry="7.98" transform="rotate(108.71 203.32 1728.12)"/><ellipse cx="222.02" cy="1728.76" rx="12.46" ry="7.74" transform="rotate(110.47 222.02 1728.76)"/><ellipse cx="239.56" cy="1723.46" rx="12" ry="6.19" transform="rotate(108.08 239.56 1723.46)"/><ellipse cx="258.54" cy="1721.56" rx="11.48" ry="7.83" transform="rotate(105.75 258.54 1721.56)"/></g>
<g fill="#f0d4ea" stroke="#6a4cae" stroke-width="1.8"><ellipse cx="44.08" cy="1825.12" rx="10.76" ry="3.32" transform="rotate(83.73 44.08 1825.12)"/><ellipse cx="54.96" cy="1817.3" rx="9.81" ry="2.82" transform="rotate(78.96 54.96 1817.3)"/><ellipse cx="64.39" cy="1807.57" rx="10.5" ry="3.01" transform="rotate(79.29 64.39 1807.57)"/><ellipse cx="77.26" cy="1802.16" rx="9.31" ry="3.43" transform="rotate(80.11 77.26 1802.16)"/><ellipse cx="88.2" cy="1792.74" rx="9.9" ry="3.1" transform="rotate(77.32 88.2 1792.74)"/><ellipse cx="98.85" cy="1786.73" rx="9.9" ry="3.73" transform="rotate(83.68 98.85 1786.73)"/><ellipse cx="109.52" cy="1781.78" rx="9.76" ry="3.43" transform="rotate(92.96 109.52 1781.78)"/><ellipse cx="121.57" cy="1776.13" rx="9.7" ry="3.95" transform="rotate(93.03 121.57 1776.13)"/><ellipse cx="135.27" cy="1772.43" rx="9.15" ry="3.49" transform="rotate(95.47 135.27 1772.43)"/><ellipse cx="147.13" cy="1763.88" rx="8.8" ry="3.34" transform="rotate(86.76 147.13 1763.88)"/><ellipse cx="157.23" cy="1760.02" rx="10.17" ry="3.76" transform="rotate(111.18 157.23 1760.02)"/><ellipse cx="169.9" cy="1760.81" rx="10.15" ry="2.98" transform="rotate(111.04 169.9 1760.81)"/><ellipse cx="186.17" cy="1757.05" rx="10.88" ry="3.29" transform="rotate(107.09 186.17 1757.05)"/><ellipse cx="199.27" cy="1757.72" rx="8.9" ry="3.33" transform="rotate(107.37 199.27 1757.72)"/><ellipse cx="209.68" cy="1753.39" rx="9.3" ry="3.68" transform="rotate(102.41 209.68 1753.39)"/><ellipse cx="223.56" cy="1752.59" rx="8.55" ry="3.21" transform="rotate(108.45 223.56 1752.59)"/><ellipse cx="236.41" cy="1749.31" rx="10.96" ry="3.77" transform="rotate(111.93 236.41 1749.31)"/><ellipse cx="247.8" cy="1748.33" rx="8.6" ry="3.75" transform="rotate(104.92 247.8 1748.33)"/><ellipse cx="260.91" cy="1747.18" rx="10.78" ry="3.8" transform="rotate(104.8 260.91 1747.18)"/></g>
<rect x="43.9" y="1678.6" width="215" height="184.3" fill="#000" filter="url(#spP3)" opacity=".4"/>
<rect x="43.9" y="1678.6" width="215" height="184.3" fill="#000" filter="url(#spP)"/>
<path d="M43.9 1747.3L151.9 1704.1L258.9 1689.6L258.9 1692.6L151.9 1711.1L43.9 1755Z" fill="#fff" opacity="0.93"/>
<path d="M38.9 1847.6L97.9 1805.9L151.9 1778.6L258.9 1761.6L258.9 1774.2L151.9 1791.6L97.9 1823.2L58.9 1868.6L38.9 1868.6Z" fill="#fff" opacity="0.97"/>
<path d="M178.9 1828.6L218.9 1813.6L258.9 1818.6L258.9 1853.6L233.9 1862.6L193.9 1848.6Z" fill="#fbe6f0" opacity="0.75"/>
<path d="M43.9 1756.2C61.9 1748.88 116.07 1722.7 151.9 1712.3C187.73 1701.9 241.07 1696.88 258.9 1693.8" fill="none" stroke="#ee8fc0" stroke-width="1.8" opacity=".85"/>
</g>
<text x="50.4" y="1855.4" font-size="6.6" font-weight="bold" fill="#111" font-family='"Liberation Serif", serif'>500 µm</text>
<line x1="49.9" y1="1858.4" x2="87.9" y2="1858.4" stroke="#111" stroke-width="1.2"/>
<g clip-path="url(#hc4)">
<rect x="43.9" y="1867.25" width="215" height="184.3" fill="#f4b0d0"/>
<path d="M43.9 1939.25L150.9 1891.25L193.9 1862.25L258.9 1862.25L258.9 1908.55L150.9 1945.25L97.9 1987.25L38.9 2029.25Z" fill="#d8b2dc"/>
<path d="M86.9 2057.25L150.9 1987.25L258.9 1953.75L258.9 2057.25Z" fill="#d8b2dc"/>
<g fill="#edd6ec" stroke="#5a38a8" stroke-width="2.3"><ellipse cx="35.65" cy="1992.95" rx="26.8" ry="4.96" transform="rotate(59.32 35.65 1992.95)"/><ellipse cx="44.96" cy="1985.14" rx="25.82" ry="3.92" transform="rotate(67.81 44.96 1985.14)"/><ellipse cx="56.29" cy="1978.36" rx="23.52" ry="5.22" transform="rotate(59.09 56.29 1978.36)"/><ellipse cx="66.57" cy="1970.2" rx="25.24" ry="4.72" transform="rotate(67.69 66.57 1970.2)"/><ellipse cx="74.38" cy="1962.1" rx="26.51" ry="4.2" transform="rotate(59.52 74.38 1962.1)"/><ellipse cx="83.65" cy="1954.75" rx="24.31" ry="4.32" transform="rotate(61.48 83.65 1954.75)"/><ellipse cx="95.06" cy="1948.37" rx="26.33" ry="4.1" transform="rotate(64.78 95.06 1948.37)"/><ellipse cx="102.77" cy="1941.62" rx="23.05" ry="5.02" transform="rotate(66.82 102.77 1941.62)"/><ellipse cx="113.23" cy="1935.67" rx="29.26" ry="3.98" transform="rotate(69.5 113.23 1935.67)"/><ellipse cx="123.9" cy="1929.1" rx="28.58" ry="4.45" transform="rotate(66.38 123.9 1929.1)"/><ellipse cx="134.6" cy="1923.94" rx="25.26" ry="5.18" transform="rotate(68.38 134.6 1923.94)"/><ellipse cx="144.39" cy="1915.58" rx="25.3" ry="3.89" transform="rotate(62.61 144.39 1915.58)"/><ellipse cx="152.64" cy="1909.96" rx="24.68" ry="4.07" transform="rotate(70.2 152.64 1909.96)"/><ellipse cx="165.72" cy="1905.18" rx="27.48" ry="4.27" transform="rotate(71.78 165.72 1905.18)"/><ellipse cx="174.84" cy="1898.78" rx="24.01" ry="4.54" transform="rotate(71.99 174.84 1898.78)"/><ellipse cx="187.62" cy="1895.15" rx="26.64" ry="4.21" transform="rotate(79.02 187.62 1895.15)"/><ellipse cx="196.43" cy="1888.13" rx="22.96" ry="4.43" transform="rotate(74.11 196.43 1888.13)"/><ellipse cx="207.9" cy="1882.76" rx="26.36" ry="3.81" transform="rotate(75.84 207.9 1882.76)"/><ellipse cx="217.75" cy="1878.92" rx="23.23" ry="3.84" transform="rotate(76.24 217.75 1878.92)"/><ellipse cx="229.27" cy="1875.04" rx="26.52" ry="5.05" transform="rotate(79.77 229.27 1875.04)"/><ellipse cx="241.82" cy="1871.48" rx="25.58" ry="4.34" transform="rotate(83.05 241.82 1871.48)"/><ellipse cx="251.21" cy="1866.58" rx="27.29" ry="3.87" transform="rotate(81.55 251.21 1866.58)"/><ellipse cx="264.53" cy="1861.85" rx="27.9" ry="5.15" transform="rotate(74.59 264.53 1861.85)"/></g>
<g fill="#edd6ec" stroke="#5a38a8" stroke-width="2.3"><ellipse cx="118.54" cy="2063.46" rx="27.53" ry="5.14" transform="rotate(65.46 118.54 2063.46)"/><ellipse cx="127.85" cy="2057.01" rx="26.54" ry="4.95" transform="rotate(59.49 127.85 2057.01)"/><ellipse cx="135.33" cy="2047.12" rx="24.44" ry="3.97" transform="rotate(65.55 135.33 2047.12)"/><ellipse cx="146.04" cy="2040.99" rx="26.17" ry="4.93" transform="rotate(62.09 146.04 2040.99)"/><ellipse cx="153.51" cy="2033.89" rx="26.96" ry="4.64" transform="rotate(62.55 153.51 2033.89)"/><ellipse cx="164.61" cy="2024.08" rx="26.89" ry="4.22" transform="rotate(57.94 164.61 2024.08)"/><ellipse cx="172.57" cy="2018.46" rx="23.43" ry="5.03" transform="rotate(66.95 172.57 2018.46)"/><ellipse cx="184.37" cy="2013.36" rx="25.21" ry="4.94" transform="rotate(86.05 184.37 2013.36)"/><ellipse cx="196.01" cy="2010.35" rx="22.6" ry="4.05" transform="rotate(80.92 196.01 2010.35)"/><ellipse cx="207.66" cy="2005.54" rx="25.79" ry="3.82" transform="rotate(78.99 207.66 2005.54)"/><ellipse cx="217.5" cy="2002.85" rx="26.6" ry="4.92" transform="rotate(81.29 217.5 2002.85)"/><ellipse cx="229.51" cy="1998.43" rx="25.13" ry="4" transform="rotate(87.32 229.51 1998.43)"/><ellipse cx="239.83" cy="1996.17" rx="28.19" ry="3.83" transform="rotate(82.97 239.83 1996.17)"/><ellipse cx="252.96" cy="1992.35" rx="25.02" ry="4.25" transform="rotate(80.48 252.96 1992.35)"/><ellipse cx="264.6" cy="1986.28" rx="25.88" ry="4.04" transform="rotate(83.62 264.6 1986.28)"/></g>
<rect x="43.9" y="1867.25" width="215" height="184.3" fill="#000" filter="url(#spP3)" opacity=".4"/>
<rect x="43.9" y="1867.25" width="215" height="184.3" fill="#000" filter="url(#spP)"/>
<path d="M38.9 2029.25L97.9 1987.25L150.9 1945.25L258.9 1908.55L258.9 1916.25L150.9 1953.25L97.9 1997.25L38.9 2039.25Z" fill="#fff" opacity="0.97"/>
<path d="M43.9 1867.25L96.9 1867.25L43.9 1905.65Z" fill="#fff" opacity="0.92"/>
<path d="M183.9 2057.25L258.9 2020.95L258.9 2057.25Z" fill="#fdf0f6" opacity="0.85"/>
</g>
<text x="50.4" y="2044.05" font-size="6.6" font-weight="bold" fill="#111" font-family='"Liberation Serif", serif'>500 µm</text>
<line x1="49.9" y1="2047.05" x2="87.9" y2="2047.05" stroke="#111" stroke-width="1.2"/>
<g clip-path="url(#hc5)">
<rect x="43.9" y="2055.9" width="215" height="184.3" fill="#f7cfe2"/>
<path d="M43.9 2055.9L92.9 2055.9L43.9 2092.9Z" fill="#dab8e0"/>
<path d="M43.9 2116.9L97.9 2095.9L150.9 2065.9L168.9 2050.9L258.9 2050.9L258.9 2087.9L150.9 2130.9L38.9 2196.9Z" fill="#dab8e0"/>
<path d="M98.9 2245.9L150.9 2202.9L258.9 2167.9L258.9 2245.9Z" fill="#d6b2de"/>
<g fill="#eedcee" stroke="#6b4db0" stroke-width="1.9"><ellipse cx="37.42" cy="2164.12" rx="23.21" ry="3.67" transform="rotate(71.04 37.42 2164.12)"/><ellipse cx="44.98" cy="2159.05" rx="23.64" ry="3.64" transform="rotate(62.42 44.98 2159.05)"/><ellipse cx="51.2" cy="2154.46" rx="21.18" ry="3.4" transform="rotate(63.58 51.2 2154.46)"/><ellipse cx="60.54" cy="2148.57" rx="23.32" ry="3" transform="rotate(69.68 60.54 2148.57)"/><ellipse cx="70.34" cy="2142.62" rx="23.8" ry="3.94" transform="rotate(71.19 70.34 2142.62)"/><ellipse cx="77" cy="2138.01" rx="20.86" ry="4.31" transform="rotate(68.06 77 2138.01)"/><ellipse cx="85.53" cy="2132.81" rx="20.21" ry="3.06" transform="rotate(63.19 85.53 2132.81)"/><ellipse cx="95.29" cy="2127.05" rx="23.85" ry="3.33" transform="rotate(69.58 95.29 2127.05)"/><ellipse cx="103.05" cy="2122.11" rx="20.75" ry="4.25" transform="rotate(75.77 103.05 2122.11)"/><ellipse cx="112.68" cy="2118.77" rx="23.72" ry="4.23" transform="rotate(72.42 112.68 2118.77)"/><ellipse cx="121.14" cy="2112.37" rx="22.73" ry="3.59" transform="rotate(74.45 121.14 2112.37)"/><ellipse cx="129.64" cy="2108.43" rx="18.97" ry="4.22" transform="rotate(68.2 129.64 2108.43)"/><ellipse cx="137.86" cy="2103.94" rx="20.34" ry="3.97" transform="rotate(76.69 137.86 2103.94)"/><ellipse cx="145.95" cy="2100.22" rx="20.35" ry="3.73" transform="rotate(70.87 145.95 2100.22)"/><ellipse cx="154.46" cy="2094.21" rx="19.84" ry="4.19" transform="rotate(76.47 154.46 2094.21)"/><ellipse cx="163.7" cy="2092.49" rx="24.18" ry="3.59" transform="rotate(72.9 163.7 2092.49)"/><ellipse cx="172.69" cy="2086.1" rx="20.58" ry="3.12" transform="rotate(73.89 172.69 2086.1)"/><ellipse cx="181.96" cy="2083.59" rx="23.58" ry="3.98" transform="rotate(75.63 181.96 2083.59)"/><ellipse cx="191.5" cy="2079.51" rx="20.77" ry="3.44" transform="rotate(72.12 191.5 2079.51)"/><ellipse cx="200.17" cy="2076.9" rx="19.39" ry="3.66" transform="rotate(77.8 200.17 2076.9)"/><ellipse cx="211" cy="2070.69" rx="20.19" ry="3.33" transform="rotate(75.5 211 2070.69)"/><ellipse cx="218.82" cy="2068.96" rx="23.37" ry="4.15" transform="rotate(71.72 218.82 2068.96)"/><ellipse cx="226.66" cy="2064.28" rx="23.63" ry="3.62" transform="rotate(77.37 226.66 2064.28)"/><ellipse cx="235.64" cy="2059.38" rx="23.8" ry="4.08" transform="rotate(80.06 235.64 2059.38)"/><ellipse cx="247.63" cy="2055.01" rx="19.3" ry="3.2" transform="rotate(76.73 247.63 2055.01)"/><ellipse cx="255.83" cy="2053.14" rx="22.67" ry="3.85" transform="rotate(79.15 255.83 2053.14)"/><ellipse cx="264.23" cy="2048.03" rx="18.92" ry="4.03" transform="rotate(73.83 264.23 2048.03)"/></g>
<g fill="#fff" stroke="#6b4db0" stroke-width="1.5"><ellipse cx="120.39" cy="2257.15" rx="20.37" ry="2.32" transform="rotate(62.86 120.39 2257.15)"/><ellipse cx="129.99" cy="2248.95" rx="19.32" ry="2.27" transform="rotate(65.58 129.99 2248.95)"/><ellipse cx="140.29" cy="2239.65" rx="19.93" ry="2.78" transform="rotate(60.44 140.29 2239.65)"/><ellipse cx="149.91" cy="2231.5" rx="23.97" ry="2.82" transform="rotate(69.18 149.91 2231.5)"/><ellipse cx="160.88" cy="2222.46" rx="20.06" ry="3.12" transform="rotate(67.39 160.88 2222.46)"/><ellipse cx="172.5" cy="2216.58" rx="21.44" ry="2.85" transform="rotate(85.75 172.5 2216.58)"/><ellipse cx="185.13" cy="2214.5" rx="23.79" ry="2.42" transform="rotate(81.89 185.13 2214.5)"/><ellipse cx="198.15" cy="2209.75" rx="22.45" ry="2.39" transform="rotate(89.52 198.15 2209.75)"/><ellipse cx="212.13" cy="2205.98" rx="19.83" ry="3.13" transform="rotate(84.67 212.13 2205.98)"/><ellipse cx="225.14" cy="2201.15" rx="19.92" ry="2.93" transform="rotate(84.5 225.14 2201.15)"/><ellipse cx="238.32" cy="2197.93" rx="19.73" ry="2.41" transform="rotate(85.72 238.32 2197.93)"/><ellipse cx="250.23" cy="2195.27" rx="19.51" ry="2.58" transform="rotate(83.68 250.23 2195.27)"/><ellipse cx="263.93" cy="2188.83" rx="18.99" ry="2.26" transform="rotate(85.49 263.93 2188.83)"/></g>
<rect x="43.9" y="2055.9" width="215" height="184.3" fill="#000" filter="url(#spP3)" opacity=".4"/>
<rect x="43.9" y="2055.9" width="215" height="184.3" fill="#000" filter="url(#spP)"/>
<path d="M38.9 2213.9L150.9 2142.4L258.9 2098.6L258.9 2157.9L150.9 2195.9L87.9 2245.9Z" fill="#f8d6e6" opacity="0.55"/>
<path d="M43.9 2092.9L92.9 2055.9L168.9 2050.9L150.9 2065.9L97.9 2095.9L43.9 2116.9Z" fill="#fff" opacity="0.93"/>
<path d="M38.9 2196.9L150.9 2130.9L258.9 2087.9L258.9 2098.6L150.9 2142.4L38.9 2213.9Z" fill="#fff" opacity="0.97"/>
<path d="M38.9 2214.9C57.57 2202.98 114.23 2162.62 150.9 2143.4C187.57 2124.18 240.9 2106.9 258.9 2099.6" fill="none" stroke="#e772b4" stroke-width="2.2" opacity=".9"/>
<path d="M87.9 2245.9L150.9 2195.9L258.9 2157.9L258.9 2167.9L150.9 2202.9L98.9 2245.9Z" fill="#fff" opacity="0.9"/>
</g>
<text x="50.4" y="2232.7" font-size="6.6" font-weight="bold" fill="#111" font-family='"Liberation Serif", serif'>500 µm</text>
<line x1="49.9" y1="2235.7" x2="87.9" y2="2235.7" stroke="#111" stroke-width="1.2"/>
<g clip-path="url(#hc6)">
<rect x="263.3" y="1301.3" width="257.9" height="184.3" fill="#050512"/>
<path d="M263.26 1396.54L332.53 1354.84L417.75 1314.95L417.75 1329.45L332.53 1371.16L263.26 1418.3Z" fill="#5a1024" opacity="0.4"/>
<path d="M263.26 1411.05L314.4 1374.78L368.79 1343.96L417.75 1324.01L521.11 1324.01L521.11 1440.06L459.46 1445.5L405.06 1460L350.66 1485.39L263.26 1485.39Z" fill="#0a0a40" opacity="0.45"/>
<path d="M263.26 1411.05L314.4 1374.78L368.79 1343.96L417.75 1324.01L521.11 1324.01L521.11 1440.06L459.46 1445.5L405.06 1460L350.66 1485.39L263.26 1485.39Z" fill="#000" filter="url(#fB2)" opacity="0.8"/>
<path d="M263.26 1432.81L332.53 1396.54L417.75 1403.79L521.11 1405.61L521.11 1436.43L441.32 1443.69L368.79 1467.26L314.4 1485.39L263.26 1485.39Z" fill="#000" filter="url(#fB3)" opacity="0.4"/>
<path d="M263.26 1302.25L314.4 1302.25L299.89 1324.01L263.26 1345.77Z" fill="#000" filter="url(#fB2)" opacity="0.7"/>
<path d="M341.6 1302.25L417.75 1302.25L417.75 1314.95L368.79 1313.13Z" fill="#000" filter="url(#fB1)"/>
<path d="M386.93 1485.39L423.19 1454.56L521.11 1443.69L521.11 1485.39Z" fill="#000" filter="url(#fB1)"/>
<path d="M386.93 1485.39L423.19 1458.19L521.11 1447.31L521.11 1485.39Z" fill="#3a0a1c" opacity="0.5"/>
<g fill="#30d060"><circle cx="350.66" cy="1403.79" r="1.06"/><circle cx="354.29" cy="1414.67" r="1.13"/><circle cx="345.22" cy="1398.35" r="1.36"/><circle cx="370.61" cy="1405.61" r="1.07"/><circle cx="303.52" cy="1440.06" r="1.09"/></g>
<path d="M417.75 1303.16L520.2 1303.16L520.2 1404.7L417.75 1404.7Z" fill="#07071e"/>
<path d="M417.75 1305.88L520.2 1305.88L520.2 1320.39L486.65 1331.26L450.39 1349.4L417.75 1363.9Z" fill="#2a0a1c" opacity="0.7"/>
<path d="M419.56 1371.16L459.46 1343.96L495.72 1327.64L519.29 1318.57L519.29 1403.79L419.56 1403.79Z" fill="#0a0a50" opacity="0.6"/>
<g fill="#1826d0" opacity="0.75"><circle cx="470.62" cy="1372.25" r="5.05"/><circle cx="498.65" cy="1326.59" r="4.46"/><circle cx="500.31" cy="1377.67" r="3.62"/><circle cx="423.74" cy="1402.28" r="5.21"/><circle cx="515.78" cy="1374.3" r="3.43"/><circle cx="465.83" cy="1356.12" r="2.96"/><circle cx="503.58" cy="1362.81" r="3.59"/><circle cx="483.42" cy="1361.16" r="4.03"/><circle cx="485.63" cy="1357.55" r="3.07"/><circle cx="447.31" cy="1403.59" r="3.36"/><circle cx="518.86" cy="1390.18" r="3.84"/><circle cx="490.15" cy="1345.44" r="4.35"/><circle cx="426.57" cy="1383.88" r="3.25"/><circle cx="459.5" cy="1390.72" r="3.83"/><circle cx="458.11" cy="1400.22" r="5.15"/><circle cx="440.48" cy="1396.15" r="5.37"/><circle cx="466.44" cy="1402.12" r="4.56"/><circle cx="482.34" cy="1384.92" r="4.65"/><circle cx="452.73" cy="1400.73" r="4.38"/><circle cx="495.16" cy="1328.63" r="3.27"/><circle cx="425.54" cy="1386.5" r="3.01"/><circle cx="437.28" cy="1366.24" r="2.96"/><circle cx="492.56" cy="1329.73" r="5.2"/><circle cx="446.47" cy="1401.32" r="4.67"/><circle cx="499.69" cy="1344.49" r="5.33"/><circle cx="507.81" cy="1336.53" r="2.97"/><circle cx="458.89" cy="1391.38" r="4.51"/><circle cx="518.23" cy="1336.75" r="4.13"/><circle cx="445.32" cy="1384.42" r="4.75"/><circle cx="477.68" cy="1339.28" r="3.72"/><circle cx="479.53" cy="1350.25" r="5.42"/><circle cx="464.76" cy="1400.31" r="3.11"/><circle cx="467.81" cy="1367.54" r="4.29"/><circle cx="505.98" cy="1334.15" r="4.76"/><circle cx="434.94" cy="1395.99" r="5.17"/><circle cx="501.12" cy="1339.83" r="4.76"/><circle cx="438.49" cy="1381.59" r="4.68"/><circle cx="513.35" cy="1335.33" r="4.9"/><circle cx="514.32" cy="1393.75" r="5.21"/><circle cx="479.75" cy="1354.49" r="3.8"/><circle cx="515.57" cy="1338.89" r="4.63"/><circle cx="489.83" cy="1340.47" r="5.17"/><circle cx="501.71" cy="1369.4" r="5.1"/><circle cx="442.34" cy="1366.24" r="3.96"/></g>
<g fill="#05051c" opacity="0.9"><circle cx="466.71" cy="1376.6" r="11.71"/><circle cx="455.83" cy="1389.29" r="12.15"/><circle cx="428.63" cy="1396.54" r="10.41"/></g>
<g fill="#1a1ac0" opacity="0.7"><circle cx="425.67" cy="1333.7" r="2.67"/><circle cx="425.95" cy="1338.53" r="3.13"/><circle cx="421.83" cy="1332.05" r="3.86"/><circle cx="456.19" cy="1315.9" r="4.07"/><circle cx="439.05" cy="1306.37" r="4.01"/><circle cx="442.49" cy="1335.39" r="3.04"/><circle cx="434.99" cy="1313.26" r="3.43"/><circle cx="444.46" cy="1334.86" r="2.9"/></g>
<path d="M426.82 1357.56L452.2 1349.4L470.34 1337.61M486.65 1367.53L498.44 1391.1M497.53 1327.64L500.25 1337.61" fill="none" stroke="#38d888" stroke-width="2.2" stroke-linecap="round" opacity=".85"/>
</g>
<rect x="310.8" y="1383" width="39" height="37.1" fill="none" stroke="#fff" stroke-width="1.2"/>
<rect x="418.3" y="1303.5" width="101.3" height="101" fill="none" stroke="#fff" stroke-width="1.4"/>
<text x="421.5" y="1398.6" font-size="15.5" fill="#fff">Merge</text>
<rect x="266.6" y="1470.3" width="41" height="12.3" fill="#8c8c90" opacity=".92"/>
<text x="269.3" y="1478.6" font-size="6.6" font-weight="bold" fill="#1a1a30" font-family='"Liberation Serif", serif'>500 µm</text>
<line x1="268.8" y1="1480.9" x2="305.8" y2="1480.9" stroke="#1a1a30" stroke-width="1.1"/>
<rect x="523.9" y="1300.1" width="60.8" height="60.2" fill="#000"/>
<g clip-path="url(#hc7)" opacity="0.28">
<path d="M518.9 1333.21L554.3 1312.14L589.7 1306.12L589.7 1345.25L548.22 1351.27L518.9 1357.29Z" fill="#000" filter="url(#fG2)"/>
</g>
<text x="525.1" y="1357.7" font-size="13.2" fill="#25dd25">mø</text>
<rect x="523.9" y="1363.1" width="60.8" height="60.4" fill="#0c0202"/>
<rect x="523.9" y="1363.1" width="60.8" height="60.4" fill="#2a0606"/>
<g clip-path="url(#hc8)" opacity="0.08">
<path d="M518.9 1396.32L554.3 1375.18L589.7 1369.14L589.7 1408.4L548.22 1414.44L518.9 1420.48Z" fill="#000" filter="url(#fR2)"/>
</g>
<text x="525.1" y="1420.9" font-size="13.2" fill="#e02020">IL-6</text>
<rect x="523.9" y="1425.7" width="60.8" height="59.9" fill="#040414"/>
<g clip-path="url(#hc9)" opacity="0.6">
<path d="M518.9 1443.67L589.7 1420.7L589.7 1490.6L518.9 1490.6Z" fill="#000" filter="url(#fB4)"/>
</g>
<text x="525.1" y="1483" font-size="13.2" fill="#2a7ae8">DAPI</text>
<g clip-path="url(#hc10)">
<rect x="263.3" y="1489.95" width="257.9" height="184.3" fill="#030308"/>
<rect x="263.3" y="1489.95" width="257.9" height="184.3" fill="#000" filter="url(#fB1)" opacity=".8"/>
<path d="M350.66 1610.58L423.19 1601.51L521.11 1601.51L521.11 1674.04L314.4 1674.04L305.33 1637.78Z" fill="#000" filter="url(#fB2)"/>
<path d="M263.26 1538.05L305.33 1543.49L350.66 1568.87L417.75 1596.07L521.11 1596.07L521.11 1639.59L459.46 1630.52L395.99 1648.65L350.66 1625.08L305.33 1632.34L263.26 1592.44Z" fill="#000" filter="url(#fR)" opacity="0.8"/>
<path d="M263.26 1538.05L305.33 1543.49L350.66 1568.87L417.75 1596.07L521.11 1596.07L521.11 1639.59L459.46 1630.52L395.99 1648.65L350.66 1625.08L305.33 1632.34L263.26 1592.44Z" fill="#000" filter="url(#fG)" opacity="0.8"/>
<path d="M263.26 1545.3L305.33 1550.74L341.6 1574.31L386.93 1599.7L386.93 1639.59L350.66 1617.83L305.33 1621.46L263.26 1585.19Z" fill="#000" filter="url(#fR)"/>
<path d="M263.26 1545.3L305.33 1550.74L341.6 1574.31L386.93 1599.7L386.93 1639.59L350.66 1617.83L305.33 1621.46L263.26 1585.19Z" fill="#000" filter="url(#fG)"/>
<path d="M263.26 1545.3L305.33 1550.74L341.6 1574.31L386.93 1599.7L386.93 1639.59L350.66 1617.83L305.33 1621.46L263.26 1585.19Z" fill="#000" filter="url(#fY)"/>
<path d="M263.26 1545.3L305.33 1550.74L341.6 1574.31L386.93 1599.7L386.93 1639.59L350.66 1617.83L305.33 1621.46L263.26 1585.19Z" fill="#4a5a10" opacity="0.35" filter="url(#hb6)"/>
<path d="M339.78 1552.55L386.93 1559.81L390.55 1574.31L350.66 1568.87Z" fill="#000" filter="url(#fY)"/>
<path d="M339.78 1552.55L386.93 1559.81L390.55 1574.31L350.66 1568.87Z" fill="#000" filter="url(#fG)"/>
<g fill="#000" opacity="0.9"><circle cx="278.13" cy="1637.78" r="30.83"/></g>
<path d="M459.46 1641.4L521.11 1635.96L521.11 1674.04L432.26 1674.04Z" fill="#000" opacity="0.9" filter="url(#hb6)"/>
<path d="M417.75 1491.81L520.2 1491.81L520.2 1593.35L417.75 1593.35Z" fill="#0a0410"/>
<path d="M417.75 1491.81L520.2 1491.81L520.2 1538.05L417.75 1519.91Z" fill="#3a0810" opacity="0.6"/>
<path d="M417.75 1556.18L520.2 1574.31L520.2 1593.35L417.75 1593.35Z" fill="#30081c" opacity="0.6"/>
<g fill="#2222d8" opacity="0.8"><circle cx="469.08" cy="1576.49" r="2.73"/><circle cx="504.21" cy="1564.17" r="4.57"/><circle cx="514.31" cy="1521.63" r="4.11"/><circle cx="436.43" cy="1538.65" r="2.82"/><circle cx="447.01" cy="1515.49" r="3.53"/><circle cx="460.85" cy="1555.8" r="3.9"/><circle cx="468.82" cy="1525.41" r="4.52"/><circle cx="503.25" cy="1590.69" r="3.36"/><circle cx="464.69" cy="1501.84" r="3.78"/><circle cx="422.7" cy="1579.99" r="4.45"/><circle cx="423.7" cy="1563.91" r="4.27"/><circle cx="476.47" cy="1524.79" r="4.59"/><circle cx="498.5" cy="1496.4" r="3.55"/><circle cx="433.12" cy="1539.06" r="3.96"/><circle cx="422.03" cy="1575.77" r="2.98"/><circle cx="443.24" cy="1508.32" r="4.11"/><circle cx="424.25" cy="1556.14" r="4.32"/><circle cx="464.09" cy="1556.21" r="3.93"/><circle cx="484.89" cy="1573.58" r="4.1"/><circle cx="515.15" cy="1561.55" r="3"/><circle cx="439.44" cy="1541.05" r="4.5"/><circle cx="437.38" cy="1495.58" r="4.67"/><circle cx="466.66" cy="1564.46" r="4.67"/><circle cx="437.43" cy="1521.2" r="3.71"/><circle cx="454.04" cy="1562.81" r="4.26"/><circle cx="471.47" cy="1554.69" r="3.24"/><circle cx="494.98" cy="1533.06" r="4.52"/><circle cx="498.54" cy="1583.26" r="4.4"/></g>
<g fill="#d02018" opacity="0.75"><ellipse cx="454.32" cy="1497.38" rx="5.81" ry="3.63" transform="rotate(-23.69 454.32 1497.38)"/><ellipse cx="463.54" cy="1513.49" rx="4.16" ry="2.6" transform="rotate(-1.84 463.54 1513.49)"/><ellipse cx="496.18" cy="1511.32" rx="5.86" ry="3.66" transform="rotate(-35.96 496.18 1511.32)"/><ellipse cx="436.81" cy="1506.07" rx="6.85" ry="4.28" transform="rotate(-26.23 436.81 1506.07)"/><ellipse cx="498.14" cy="1499.37" rx="5.77" ry="3.61" transform="rotate(-18.54 498.14 1499.37)"/><ellipse cx="434.39" cy="1512.32" rx="4.29" ry="2.68" transform="rotate(-27.68 434.39 1512.32)"/><ellipse cx="491.72" cy="1523.47" rx="5.5" ry="3.44" transform="rotate(-2.59 491.72 1523.47)"/><ellipse cx="428.14" cy="1502.16" rx="7.28" ry="4.55" transform="rotate(-43.85 428.14 1502.16)"/><ellipse cx="472.09" cy="1504.53" rx="5.71" ry="3.57" transform="rotate(-52.38 472.09 1504.53)"/><ellipse cx="492.25" cy="1516.54" rx="5.57" ry="3.48" transform="rotate(-11.06 492.25 1516.54)"/><ellipse cx="475.41" cy="1505.27" rx="7.2" ry="4.5" transform="rotate(-31.41 475.41 1505.27)"/><ellipse cx="509.37" cy="1501.7" rx="5.17" ry="3.23" transform="rotate(-48.51 509.37 1501.7)"/><ellipse cx="471.84" cy="1514.27" rx="6.21" ry="3.88" transform="rotate(-4.48 471.84 1514.27)"/><ellipse cx="439.61" cy="1512.99" rx="4.51" ry="2.82" transform="rotate(-13.24 439.61 1512.99)"/></g>
<g fill="#f0c010" opacity="0.9"><circle cx="421.84" cy="1529.72" r="4.36"/><circle cx="451.69" cy="1539.36" r="6.91"/><circle cx="470.47" cy="1533.09" r="7.44"/><circle cx="439.28" cy="1549.84" r="4.99"/><circle cx="463.12" cy="1540.58" r="5.99"/><circle cx="460.79" cy="1549.78" r="7.05"/><circle cx="435.49" cy="1530.32" r="5.81"/><circle cx="482.52" cy="1556.31" r="5.04"/><circle cx="472.38" cy="1569.04" r="4.93"/><circle cx="480.57" cy="1569.37" r="6.21"/><circle cx="500.4" cy="1572.11" r="4.37"/><circle cx="451.07" cy="1536.95" r="7.62"/><circle cx="519.13" cy="1571.21" r="7.28"/><circle cx="432.92" cy="1532.42" r="6.92"/><circle cx="461.61" cy="1565.37" r="7.5"/><circle cx="432.13" cy="1542.2" r="6.64"/><circle cx="510.45" cy="1576.05" r="5.81"/><circle cx="431.07" cy="1548.36" r="6.53"/><circle cx="495.17" cy="1548.19" r="6.18"/><circle cx="426.6" cy="1524.45" r="7.95"/><circle cx="470.91" cy="1552.13" r="7.29"/><circle cx="434.18" cy="1529.14" r="5.27"/><circle cx="518.33" cy="1573.56" r="7.69"/><circle cx="429.06" cy="1521.81" r="7.07"/><circle cx="466.13" cy="1548.93" r="7.19"/><circle cx="462.46" cy="1554.06" r="7.33"/></g>
<g fill="#d8e818" opacity="0.9"><circle cx="507.31" cy="1559.68" r="6.18"/><circle cx="496.08" cy="1563.89" r="5.55"/><circle cx="460.03" cy="1561.34" r="4.8"/><circle cx="426.6" cy="1538.55" r="6.3"/><circle cx="455.03" cy="1556.32" r="5.83"/><circle cx="513.78" cy="1557.96" r="5.2"/><circle cx="453.25" cy="1557.58" r="3.77"/><circle cx="476.37" cy="1550" r="5.26"/><circle cx="483.62" cy="1560.06" r="4.77"/><circle cx="439.06" cy="1540.58" r="4.03"/><circle cx="429.38" cy="1533.11" r="3.58"/><circle cx="509.88" cy="1551.02" r="4.98"/><circle cx="483.19" cy="1566.54" r="3.79"/><circle cx="468.98" cy="1554.67" r="4.73"/><circle cx="461.52" cy="1549.62" r="5.39"/><circle cx="479.19" cy="1539.98" r="4.77"/><circle cx="448.06" cy="1557.3" r="4.2"/><circle cx="475.48" cy="1535.07" r="5.14"/><circle cx="423.83" cy="1527.47" r="4.66"/><circle cx="494.82" cy="1541.44" r="5.71"/><circle cx="509.07" cy="1562.88" r="4.99"/><circle cx="443.87" cy="1549.42" r="6.36"/></g>
<g fill="#40e030" opacity="0.85"><circle cx="514.57" cy="1562.04" r="3.1"/><circle cx="443.34" cy="1524.92" r="4.3"/><circle cx="508.59" cy="1565.03" r="3.34"/><circle cx="481.89" cy="1539.59" r="3.96"/><circle cx="446.64" cy="1559.09" r="4.69"/><circle cx="475.9" cy="1553.51" r="3.25"/><circle cx="482.7" cy="1563.18" r="3.73"/><circle cx="438.49" cy="1533" r="4.16"/><circle cx="517.27" cy="1572.9" r="4.54"/><circle cx="425.63" cy="1534.31" r="3.47"/><circle cx="461.97" cy="1555.4" r="3.34"/><circle cx="426.79" cy="1523.27" r="2.75"/><circle cx="487.01" cy="1551.05" r="4.44"/><circle cx="482.5" cy="1540.43" r="2.71"/><circle cx="467.29" cy="1530.71" r="2.72"/><circle cx="453.84" cy="1562.67" r="3.77"/><circle cx="481.77" cy="1564.1" r="3.59"/><circle cx="440.82" cy="1543.49" r="4.03"/></g>
<g fill="#f06018" opacity="0.85"><circle cx="427.15" cy="1530.86" r="3.39"/><circle cx="449.86" cy="1561.48" r="2.63"/><circle cx="433.82" cy="1539.51" r="3.77"/><circle cx="491.96" cy="1540.03" r="4.01"/><circle cx="513.3" cy="1572.75" r="2.84"/><circle cx="463.24" cy="1566.15" r="2.33"/><circle cx="449.96" cy="1537.11" r="3.29"/><circle cx="455.64" cy="1539.98" r="3.35"/><circle cx="455.8" cy="1541.77" r="3.4"/><circle cx="458.22" cy="1529.77" r="4.18"/><circle cx="475.79" cy="1565.8" r="3.56"/><circle cx="473.47" cy="1568.15" r="3.86"/></g>
<g fill="#2030e0" opacity="0.9"><circle cx="493.94" cy="1556.94" r="2.07"/><circle cx="444.04" cy="1531.29" r="2.07"/><circle cx="495.89" cy="1549.31" r="1.71"/><circle cx="495.83" cy="1541.7" r="2.49"/><circle cx="486.62" cy="1547.64" r="2.82"/><circle cx="473.15" cy="1561.24" r="2.01"/><circle cx="490.19" cy="1572.85" r="1.74"/><circle cx="486.06" cy="1569.17" r="1.79"/><circle cx="499.94" cy="1568" r="2.08"/><circle cx="508.19" cy="1575.41" r="1.9"/><circle cx="483.42" cy="1549.45" r="2.79"/><circle cx="490.38" cy="1566.11" r="1.6"/></g>
</g>
<rect x="346.7" y="1538" width="39.7" height="38.5" fill="none" stroke="#fff" stroke-width="1.2"/>
<rect x="418.3" y="1492.15" width="101.3" height="101" fill="none" stroke="#fff" stroke-width="1.4"/>
<text x="421.5" y="1587.25" font-size="15.5" fill="#fff">Merge</text>
<rect x="266.6" y="1658.95" width="41" height="12.3" fill="#8c8c90" opacity=".92"/>
<text x="269.3" y="1667.25" font-size="6.6" font-weight="bold" fill="#1a1a30" font-family='"Liberation Serif", serif'>500 µm</text>
<line x1="268.8" y1="1669.55" x2="305.8" y2="1669.55" stroke="#1a1a30" stroke-width="1.1"/>
<rect x="523.9" y="1488.75" width="60.8" height="60.2" fill="#000"/>
<g clip-path="url(#hc11)" opacity="0.95">
<path d="M518.9 1521.86L554.3 1500.79L589.7 1494.77L589.7 1533.9L548.22 1539.92L518.9 1545.94Z" fill="#000" filter="url(#fG2)"/>
<path d="M518.9 1521.86L554.3 1500.79L589.7 1494.77L589.7 1533.9L548.22 1539.92L518.9 1545.94Z" fill="#000" filter="url(#fG)"/>
</g>
<text x="525.1" y="1546.35" font-size="13.2" fill="#25dd25">mø</text>
<rect x="523.9" y="1551.75" width="60.8" height="60.4" fill="#0c0202"/>
<g clip-path="url(#hc12)" opacity="0.9">
<path d="M518.9 1584.97L554.3 1563.83L589.7 1557.79L589.7 1597.05L548.22 1603.09L518.9 1609.13Z" fill="#000" filter="url(#fR2)"/>
</g>
<text x="525.1" y="1609.55" font-size="13.2" fill="#e02020">IL-6</text>
<rect x="523.9" y="1614.35" width="60.8" height="59.9" fill="#040414"/>
<g clip-path="url(#hc13)" opacity="0.42">
<path d="M518.9 1632.32L589.7 1609.35L589.7 1679.25L518.9 1679.25Z" fill="#000" filter="url(#fB4)"/>
</g>
<text x="525.1" y="1671.65" font-size="13.2" fill="#2a7ae8">DAPI</text>
<g clip-path="url(#hc14)">
<rect x="263.3" y="1678.6" width="257.9" height="184.3" fill="#06061e"/>
<rect x="263.3" y="1678.6" width="257.9" height="184.3" fill="#000" filter="url(#fB2)" opacity=".85"/>
<path d="M263.26 1762.96L350.66 1781.09L423.19 1799.23L521.11 1817.36L521.11 1862.69L263.26 1862.69Z" fill="#0a0a50" opacity="0.3"/>
<path d="M263.26 1762.96L350.66 1781.09L423.19 1799.23L521.11 1817.36L521.11 1862.69L263.26 1862.69Z" fill="#000" filter="url(#fB1)"/>
<path d="M314.4 1679.55L417.75 1679.55L417.75 1748.46L350.66 1741.2L314.4 1717.63Z" fill="#05051a" opacity="0.6" filter="url(#hb6)"/>
<path d="M263.26 1690.43L350.66 1683.18L314.4 1708.56L263.26 1719.44Z" fill="#4a0c18" opacity="0.4"/>
<g fill="#f0d020" opacity="0.95"><ellipse cx="292.64" cy="1757.52" rx="3.13" ry="2.09" transform="rotate(-53.11 292.64 1757.52)"/><ellipse cx="305.33" cy="1762.96" rx="3.85" ry="2.57" transform="rotate(-13.44 305.33 1762.96)"/><ellipse cx="301.7" cy="1766.59" rx="2.86" ry="1.9" transform="rotate(-56.26 301.7 1766.59)"/><ellipse cx="328.9" cy="1748.46" rx="3.45" ry="2.3" transform="rotate(-24.96 328.9 1748.46)"/><ellipse cx="339.78" cy="1755.71" rx="4.4" ry="2.94" transform="rotate(-57.82 339.78 1755.71)"/><ellipse cx="366.98" cy="1744.83" rx="2.71" ry="1.8" transform="rotate(-48.93 366.98 1744.83)"/><ellipse cx="383.3" cy="1744.83" rx="2.94" ry="1.96" transform="rotate(-45.88 383.3 1744.83)"/><ellipse cx="386.93" cy="1759.34" rx="4" ry="2.66" transform="rotate(-24.31 386.93 1759.34)"/><ellipse cx="376.05" cy="1752.08" rx="2.95" ry="1.97" transform="rotate(-48.9 376.05 1752.08)"/><ellipse cx="401.43" cy="1757.52" rx="3.07" ry="2.05" transform="rotate(-49.65 401.43 1757.52)"/><ellipse cx="406.87" cy="1761.15" rx="4.08" ry="2.72" transform="rotate(-41.3 406.87 1761.15)"/><ellipse cx="412.31" cy="1748.46" rx="3.64" ry="2.43" transform="rotate(-10.97 412.31 1748.46)"/><ellipse cx="423.19" cy="1790.16" rx="3.49" ry="2.33" transform="rotate(-44.37 423.19 1790.16)"/><ellipse cx="426.82" cy="1791.97" rx="4.36" ry="2.91" transform="rotate(-5.14 426.82 1791.97)"/><ellipse cx="461.27" cy="1797.41" rx="3.2" ry="2.13" transform="rotate(-27.16 461.27 1797.41)"/><ellipse cx="477.59" cy="1801.95" rx="4.51" ry="3" transform="rotate(-31.04 477.59 1801.95)"/><ellipse cx="495.72" cy="1806.48" rx="2.94" ry="1.96" transform="rotate(-57.02 495.72 1806.48)"/><ellipse cx="512.04" cy="1811.92" rx="4.49" ry="2.99" transform="rotate(-11.91 512.04 1811.92)"/><ellipse cx="472.15" cy="1806.48" rx="3.29" ry="2.19" transform="rotate(-28.34 472.15 1806.48)"/><ellipse cx="321.65" cy="1840.93" rx="3.57" ry="2.38" transform="rotate(-43.53 321.65 1840.93)"/><ellipse cx="303.52" cy="1835.49" rx="4.58" ry="3.05" transform="rotate(-20.55 303.52 1835.49)"/><ellipse cx="319.84" cy="1846.37" rx="2.98" ry="1.99" transform="rotate(-59.35 319.84 1846.37)"/><ellipse cx="365.17" cy="1759.34" rx="3.48" ry="2.32" transform="rotate(-37.71 365.17 1759.34)"/><ellipse cx="381.49" cy="1757.52" rx="4.17" ry="2.78" transform="rotate(-17.2 381.49 1757.52)"/></g>
<g fill="#f04020" opacity="0.9"><circle cx="292.64" cy="1757.52" r="1.54"/><circle cx="301.7" cy="1766.59" r="1.15"/><circle cx="339.78" cy="1755.71" r="1.15"/><circle cx="383.3" cy="1744.83" r="1.3"/><circle cx="376.05" cy="1752.08" r="1.24"/><circle cx="406.87" cy="1761.15" r="1.77"/><circle cx="423.19" cy="1790.16" r="1.46"/><circle cx="461.27" cy="1797.41" r="1.57"/><circle cx="495.72" cy="1806.48" r="1.88"/><circle cx="472.15" cy="1806.48" r="1.25"/><circle cx="303.52" cy="1835.49" r="1.48"/><circle cx="365.17" cy="1759.34" r="1.15"/></g>
<g fill="#fff" opacity="0.9"><circle cx="305.33" cy="1762.96" r="1.48"/><circle cx="339.78" cy="1755.71" r="0.89"/><circle cx="386.93" cy="1759.34" r="1.51"/><circle cx="406.87" cy="1761.15" r="1.53"/><circle cx="426.82" cy="1791.97" r="1.51"/><circle cx="495.72" cy="1806.48" r="0.95"/><circle cx="321.65" cy="1840.93" r="1.09"/><circle cx="365.17" cy="1759.34" r="1.43"/></g>
<g fill="#40e040"><circle cx="363.35" cy="1708.56" r="0.69"/><circle cx="330.72" cy="1694.06" r="0.9"/><circle cx="310.77" cy="1741.2" r="0.89"/><circle cx="397.81" cy="1775.65" r="1.15"/></g>
<path d="M417.75 1680.46L520.2 1680.46L520.2 1782L417.75 1782Z" fill="#030308"/>
<path d="M417.75 1726.7L520.2 1717.63L520.2 1782L417.75 1782Z" fill="#1c0410" opacity="0.6"/>
<g fill="#e8d818" opacity="0.95"><ellipse cx="434.98" cy="1744.83" rx="8.24" ry="6.87" transform="rotate(-8.56 434.98 1744.83)"/><ellipse cx="441.32" cy="1714.91" rx="6.91" ry="5.76" transform="rotate(-12.64 441.32 1714.91)"/><ellipse cx="474.87" cy="1751.18" rx="7.44" ry="6.2" transform="rotate(-4.99 474.87 1751.18)"/><ellipse cx="484.84" cy="1741.2" rx="5.91" ry="4.93" transform="rotate(-10.42 484.84 1741.2)"/><ellipse cx="477.59" cy="1718.54" rx="6.46" ry="5.39" transform="rotate(-27.4 477.59 1718.54)"/><ellipse cx="501.16" cy="1737.58" rx="7.95" ry="6.63" transform="rotate(-50.55 501.16 1737.58)"/><ellipse cx="516.57" cy="1750.27" rx="9.39" ry="7.83" transform="rotate(-41.32 516.57 1750.27)"/><ellipse cx="432.26" cy="1756.62" rx="6.94" ry="5.79" transform="rotate(-55.44 432.26 1756.62)"/><ellipse cx="499.35" cy="1723.98" rx="6.92" ry="5.77" transform="rotate(-31.97 499.35 1723.98)"/><ellipse cx="459.46" cy="1704.94" rx="8.84" ry="7.37" transform="rotate(-38.42 459.46 1704.94)"/><ellipse cx="457.64" cy="1721.26" rx="8.71" ry="7.26" transform="rotate(-53.65 457.64 1721.26)"/><ellipse cx="434.07" cy="1773.84" rx="7.34" ry="6.11" transform="rotate(-32.29 434.07 1773.84)"/></g>
<g fill="#e83018" opacity="0.95"><circle cx="434.98" cy="1744.83" r="4.64"/><circle cx="441.32" cy="1714.91" r="4.34"/><circle cx="474.87" cy="1751.18" r="3.96"/><circle cx="484.84" cy="1741.2" r="2.57"/><circle cx="477.59" cy="1718.54" r="3.36"/><circle cx="501.16" cy="1737.58" r="4.08"/><circle cx="516.57" cy="1750.27" r="3.06"/><circle cx="432.26" cy="1756.62" r="3.77"/><circle cx="499.35" cy="1723.98" r="3.54"/><circle cx="459.46" cy="1704.94" r="2.56"/><circle cx="457.64" cy="1721.26" r="4.7"/><circle cx="434.07" cy="1773.84" r="4.28"/></g>
<g fill="#2828e0"><circle cx="474.87" cy="1751.18" r="1.49"/><circle cx="484.84" cy="1741.2" r="1.94"/><circle cx="477.59" cy="1718.54" r="1.59"/><circle cx="501.16" cy="1737.58" r="1.68"/><circle cx="516.57" cy="1750.27" r="1.86"/><circle cx="432.26" cy="1756.62" r="1.59"/></g>
<g fill="#1a20d8" opacity="0.9"><circle cx="502.97" cy="1773.84" r="4.25"/><circle cx="510.23" cy="1770.21" r="4.41"/><circle cx="495.72" cy="1768.4" r="5.19"/><circle cx="428.63" cy="1708.56" r="4.03"/><circle cx="455.83" cy="1733.95" r="3.87"/></g>
<g fill="#d02020" opacity="0.9"><circle cx="481.21" cy="1761.15" r="2.48"/><circle cx="492.09" cy="1753.9" r="1.95"/><circle cx="452.2" cy="1690.43" r="2.76"/><circle cx="504.79" cy="1759.34" r="2.26"/></g>
<path d="M432.26 1694.97Q439.51 1699.5 444.95 1691.34M476.68 1684.09Q484.84 1692.25 493 1686.81" fill="none" stroke="#78e020" stroke-width="3.2" stroke-linecap="round"/>
</g>
<rect x="357.6" y="1730" width="39.8" height="37.8" fill="none" stroke="#fff" stroke-width="1.2"/>
<rect x="418.3" y="1680.8" width="101.3" height="101" fill="none" stroke="#fff" stroke-width="1.4"/>
<text x="421.5" y="1775.9" font-size="15.5" fill="#fff">Merge</text>
<rect x="266.6" y="1847.6" width="41" height="12.3" fill="#8c8c90" opacity=".92"/>
<text x="269.3" y="1855.9" font-size="6.6" font-weight="bold" fill="#1a1a30" font-family='"Liberation Serif", serif'>500 µm</text>
<line x1="268.8" y1="1858.2" x2="305.8" y2="1858.2" stroke="#1a1a30" stroke-width="1.1"/>
<rect x="523.9" y="1677.4" width="60.8" height="60.2" fill="#000"/>
<g clip-path="url(#hc15)" opacity="0.6">
<path d="M518.9 1710.51L554.3 1689.44L589.7 1683.42L589.7 1722.55L548.22 1728.57L518.9 1734.59Z" fill="#000" filter="url(#fG2)"/>
</g>
<text x="525.1" y="1735" font-size="13.2" fill="#25dd25">mø</text>
<rect x="523.9" y="1740.4" width="60.8" height="60.4" fill="#0c0202"/>
<g clip-path="url(#hc16)" opacity="0.38">
<path d="M518.9 1773.62L554.3 1752.48L589.7 1746.44L589.7 1785.7L548.22 1791.74L518.9 1797.78Z" fill="#000" filter="url(#fR2)"/>
</g>
<text x="525.1" y="1798.2" font-size="13.2" fill="#e02020">IL-6</text>
<rect x="523.9" y="1803" width="60.8" height="59.9" fill="#040414"/>
<g clip-path="url(#hc17)" opacity="0.3">
<path d="M518.9 1820.97L589.7 1798L589.7 1867.9L518.9 1867.9Z" fill="#000" filter="url(#fB4)"/>
</g>
<text x="525.1" y="1860.3" font-size="13.2" fill="#2a7ae8">DAPI</text>
<g clip-path="url(#hc18)">
<rect x="263.3" y="1867.25" width="257.9" height="184.3" fill="#020206"/>
<path d="M263.26 1871.83L417.75 1868.2L417.75 1915.35L332.53 1951.61L263.26 1969.74Z" fill="#000" filter="url(#fB1)" opacity="0.6"/>
<path d="M263.26 1987.88L314.4 1964.3L368.79 1938.92L417.75 1920.79L417.75 1969.74L521.11 1969.74L521.11 1986.06L486.65 1995.13L441.32 2004.2L395.99 2016.89L341.6 2035.02L305.33 2042.27L263.26 2051.34Z" fill="#0a10a0" opacity="0.22" filter="url(#hb3)"/>
<path d="M263.26 1987.88L314.4 1964.3L368.79 1938.92L417.75 1920.79L417.75 1969.74L521.11 1969.74L521.11 1986.06L486.65 1995.13L441.32 2004.2L395.99 2016.89L341.6 2035.02L305.33 2042.27L263.26 2051.34Z" fill="#000" filter="url(#fB3)" opacity="0.8"/>
<path d="M263.26 1987.88L314.4 1964.3L368.79 1938.92L417.75 1920.79L417.75 1969.74L521.11 1969.74L521.11 1986.06L486.65 1995.13L441.32 2004.2L395.99 2016.89L341.6 2035.02L305.33 2042.27L263.26 2051.34Z" fill="#000" filter="url(#fB1)"/>
<path d="M361.54 1888.15L417.75 1871.83L417.75 1920.79L368.79 1938.92Z" fill="#000" filter="url(#fB3)"/>
<path d="M303.52 1962.49C306.84 1961.28 316.81 1957.66 323.46 1955.24C330.11 1952.82 335.25 1950.71 343.41 1947.99C351.57 1945.27 362.15 1942.24 372.42 1938.92C382.7 1935.59 399.62 1929.85 405.06 1928.04" fill="none" stroke="#e8d020" stroke-width="2.6" stroke-linecap="round" stroke-dasharray="5 4 2 6 7 3" opacity=".95"/>
<path d="M305.33 1959.77C310.47 1957.5 324.37 1950.25 336.16 1946.17C347.94 1942.09 362.75 1939.22 376.05 1935.29C389.34 1931.36 409.29 1924.72 415.94 1922.6" fill="none" stroke="#f07020" stroke-width="1.6" stroke-linecap="round" stroke-dasharray="3 7 5 4" opacity=".9"/>
<g fill="#30c060"><circle cx="328.9" cy="1917.16" r="1.85"/><circle cx="278.13" cy="1978.81" r="1.47"/><circle cx="314.4" cy="1987.88" r="1.95"/><circle cx="276.32" cy="2018.7" r="1.23"/></g>
<path d="M417.75 1869.11L520.2 1869.11L520.2 1970.65L417.75 1970.65Z" fill="#020206"/>
<path d="M422.28 1942.55C425.46 1941.03 432.71 1937.71 441.32 1933.48C449.94 1929.25 461.27 1920.79 473.96 1917.16C486.65 1913.53 510.23 1912.63 517.48 1911.72" fill="none" stroke="#e8c818" stroke-width="6.5" stroke-linecap="round" stroke-dasharray="9 3 5 4 12 5" opacity=".95"/>
<path d="M450.39 1946.17C454.32 1944.66 466.71 1939.37 473.96 1937.11C481.21 1934.84 490.58 1933.33 493.91 1932.57" fill="none" stroke="#e8d020" stroke-width="4.5" stroke-linecap="round" stroke-dasharray="10 4 6 5" opacity=".95"/>
<path d="M423.19 1940.73C426.52 1939.07 434.37 1935.14 443.14 1930.76C451.9 1926.38 463.38 1918.16 475.78 1914.44C488.17 1910.72 510.53 1909.45 517.48 1908.46" fill="none" stroke="#e84018" stroke-width="3.5" stroke-linecap="round" stroke-dasharray="6 9 4 7" opacity=".9"/>
<g fill="#50e030" opacity="0.9"><circle cx="443.14" cy="1929.85" r="1.99"/><circle cx="454.02" cy="1928.04" r="1.92"/><circle cx="502.97" cy="1915.35" r="2.81"/><circle cx="468.52" cy="1918.97" r="2.86"/></g>
<g fill="#e06018" opacity="0.9"><circle cx="504.79" cy="1875.46" r="2.34"/><circle cx="510.23" cy="1882.71" r="2.73"/><circle cx="501.16" cy="1888.15" r="3.49"/></g>
<g fill="#1828e0" opacity="0.9"><ellipse cx="446.99" cy="1965.86" rx="6.77" ry="4.23" transform="rotate(-52.64 446.99 1965.86)"/><ellipse cx="474.62" cy="1945.83" rx="7.63" ry="4.77" transform="rotate(-42.69 474.62 1945.83)"/><ellipse cx="491.79" cy="1958.33" rx="7.9" ry="4.94" transform="rotate(-45.55 491.79 1958.33)"/><ellipse cx="505.34" cy="1939.68" rx="6.66" ry="4.17" transform="rotate(-10.15 505.34 1939.68)"/><ellipse cx="495.89" cy="1968.86" rx="5.18" ry="3.24" transform="rotate(-27.13 495.89 1968.86)"/><ellipse cx="502.89" cy="1953.11" rx="4.76" ry="2.97" transform="rotate(-58.08 502.89 1953.11)"/><ellipse cx="470.77" cy="1945.72" rx="5.16" ry="3.22" transform="rotate(-0.78 470.77 1945.72)"/><ellipse cx="502.81" cy="1961.19" rx="8.07" ry="5.04" transform="rotate(-20.5 502.81 1961.19)"/><ellipse cx="501.09" cy="1965" rx="5.65" ry="3.53" transform="rotate(-19.73 501.09 1965)"/><ellipse cx="484.07" cy="1938.05" rx="7.29" ry="4.56" transform="rotate(-37.1 484.07 1938.05)"/><ellipse cx="496.95" cy="1969.1" rx="6.73" ry="4.21" transform="rotate(-11.77 496.95 1969.1)"/><ellipse cx="481.56" cy="1955.81" rx="4.53" ry="2.83" transform="rotate(-48.03 481.56 1955.81)"/><ellipse cx="506.47" cy="1930.44" rx="6.26" ry="3.91" transform="rotate(-51.42 506.47 1930.44)"/><ellipse cx="515" cy="1951.49" rx="5.95" ry="3.72" transform="rotate(-25.83 515 1951.49)"/><ellipse cx="460.39" cy="1949.01" rx="5.13" ry="3.21" transform="rotate(-28.81 460.39 1949.01)"/><ellipse cx="495.68" cy="1936.9" rx="5.48" ry="3.42" transform="rotate(-25.92 495.68 1936.9)"/><ellipse cx="513.76" cy="1938.47" rx="5.74" ry="3.59" transform="rotate(-21.5 513.76 1938.47)"/><ellipse cx="517.23" cy="1927.43" rx="4.61" ry="2.88" transform="rotate(-19.74 517.23 1927.43)"/><ellipse cx="511.81" cy="1947.39" rx="5.02" ry="3.14" transform="rotate(-2.44 511.81 1947.39)"/><ellipse cx="485.04" cy="1948.22" rx="6.77" ry="4.23" transform="rotate(-31.81 485.04 1948.22)"/><ellipse cx="461.94" cy="1965.31" rx="6.04" ry="3.78" transform="rotate(-22.57 461.94 1965.31)"/><ellipse cx="518.68" cy="1960.81" rx="7.11" ry="4.44" transform="rotate(-14.52 518.68 1960.81)"/></g>
<g fill="#1420b0" opacity="0.8"><circle cx="499.93" cy="1888.57" r="3.07"/><circle cx="518.87" cy="1900.71" r="3.34"/><circle cx="507.99" cy="1885.92" r="2.56"/><circle cx="475.16" cy="1891.33" r="3.06"/><circle cx="511.91" cy="1889.95" r="2.15"/><circle cx="482.26" cy="1886.72" r="2.25"/><circle cx="511.83" cy="1882.88" r="2.81"/><circle cx="511.51" cy="1897.05" r="2.91"/></g>
<g fill="#30c050" opacity="0.9"><circle cx="512.04" cy="1951.61" r="3.06"/><circle cx="513.85" cy="1899.03" r="2.39"/></g>
</g>
<rect x="306.6" y="1931.8" width="39.2" height="37.2" fill="none" stroke="#fff" stroke-width="1.2"/>
<rect x="418.3" y="1869.45" width="101.3" height="101" fill="none" stroke="#fff" stroke-width="1.4"/>
<text x="421.5" y="1964.55" font-size="15.5" fill="#fff">Merge</text>
<rect x="266.6" y="2036.25" width="41" height="12.3" fill="#8c8c90" opacity=".92"/>
<text x="269.3" y="2044.55" font-size="6.6" font-weight="bold" fill="#1a1a30" font-family='"Liberation Serif", serif'>500 µm</text>
<line x1="268.8" y1="2046.85" x2="305.8" y2="2046.85" stroke="#1a1a30" stroke-width="1.1"/>
<rect x="523.9" y="1866.05" width="60.8" height="60.2" fill="#000"/>
<g clip-path="url(#hc19)" opacity="0.6">
<path d="M518.9 1899.16L554.3 1878.09L589.7 1872.07L589.7 1911.2L548.22 1917.22L518.9 1923.24Z" fill="#000" filter="url(#fG2)"/>
</g>
<text x="525.1" y="1923.65" font-size="13.2" fill="#25dd25">mø</text>
<rect x="523.9" y="1929.05" width="60.8" height="60.4" fill="#1a0606"/>
<g clip-path="url(#hc20)" opacity="0.6">
<path d="M518.9 1962.27L554.3 1941.13L589.7 1935.09L589.7 1974.35L548.22 1980.39L518.9 1986.43Z" fill="#000" filter="url(#fR2)"/>
</g>
<text x="525.1" y="1986.85" font-size="13.2" fill="#e02020">IL-6</text>
<rect x="523.9" y="1991.65" width="60.8" height="59.9" fill="#040414"/>
<g clip-path="url(#hc21)" opacity="0.55">
<path d="M518.9 2009.62L589.7 1986.65L589.7 2056.55L518.9 2056.55Z" fill="#000" filter="url(#fB4)"/>
</g>
<text x="525.1" y="2048.95" font-size="13.2" fill="#2a7ae8">DAPI</text>
<g clip-path="url(#hc22)">
<rect x="263.3" y="2055.9" width="257.9" height="184.3" fill="#060622"/>
<rect x="263.3" y="2055.9" width="257.9" height="184.3" fill="#000" filter="url(#fB2)"/>
<path d="M263.26 2176.53L332.53 2143.89L417.75 2122.13L417.75 2160.21L521.11 2160.21L521.11 2212.79L423.19 2223.67L386.93 2239.99L263.26 2239.99Z" fill="#0a10a0" opacity="0.22" filter="url(#hb6)"/>
<path d="M263.26 2176.53L332.53 2143.89L417.75 2122.13L417.75 2160.21L521.11 2160.21L521.11 2212.79L423.19 2223.67L386.93 2239.99L263.26 2239.99Z" fill="#000" filter="url(#fB3)" opacity="0.6"/>
<path d="M263.26 2176.53L332.53 2143.89L417.75 2122.13L417.75 2160.21L521.11 2160.21L521.11 2212.79L423.19 2223.67L386.93 2239.99L263.26 2239.99Z" fill="#000" filter="url(#fB1)"/>
<path d="M395.99 2239.99L423.19 2223.67L521.11 2216.42L521.11 2239.99Z" fill="#03030f" opacity="0.9" filter="url(#hb3)"/>
<path d="M265.44 2162.02C270.58 2158.39 284.48 2146.91 296.26 2140.26C308.05 2133.61 322.86 2127.27 336.16 2122.13C349.45 2116.99 362.75 2112.46 376.05 2109.44C389.34 2106.41 409.29 2104.9 415.94 2104" fill="none" stroke="#c8e020" stroke-width="1.8" stroke-linecap="round" stroke-dasharray="3 5 2 7 4 4" opacity=".9"/>
<path d="M287.2 2151.14C292.64 2148.72 308.66 2137.24 319.84 2136.64C331.02 2136.03 347.34 2140.87 354.29 2147.51C361.24 2154.16 357.91 2169.27 361.54 2176.53C365.17 2183.78 373.63 2188.61 376.05 2191.03" fill="none" stroke="#e8d020" stroke-width="1.6" stroke-linecap="round" stroke-dasharray="2 6 4 8" opacity=".9"/>
<g fill="#e02828"><circle cx="354.29" cy="2158.39" r="1.62"/><circle cx="368.79" cy="2183.78" r="1.47"/><circle cx="376.05" cy="2194.66" r="1.22"/><circle cx="334.34" cy="2111.25" r="1.28"/><circle cx="513.85" cy="2172.9" r="1.36"/><circle cx="510.23" cy="2165.65" r="1.22"/></g>
<path d="M417.75 2057.76L520.2 2057.76L520.2 2159.3L417.75 2159.3Z" fill="#06062a"/>
<g fill="#1a2ae8" opacity="0.85"><circle cx="426.39" cy="2149.71" r="3.66"/><circle cx="515.95" cy="2125.66" r="4.2"/><circle cx="505.98" cy="2101.74" r="5.06"/><circle cx="499.87" cy="2082.19" r="5.1"/><circle cx="494.02" cy="2115.98" r="5.11"/><circle cx="509.66" cy="2070.13" r="3.66"/><circle cx="498.59" cy="2072.6" r="4.32"/><circle cx="473.18" cy="2153.59" r="3.62"/><circle cx="419.62" cy="2084.36" r="4.56"/><circle cx="449.41" cy="2092.28" r="4.35"/><circle cx="425.81" cy="2148.13" r="3.14"/><circle cx="500.89" cy="2099.38" r="4.6"/><circle cx="455.12" cy="2117.81" r="4.91"/><circle cx="424.14" cy="2063.53" r="4.54"/><circle cx="509.17" cy="2090.62" r="5.33"/><circle cx="469.27" cy="2151.93" r="3.52"/><circle cx="517.03" cy="2106.76" r="3.44"/><circle cx="440.16" cy="2089.4" r="3.09"/><circle cx="511.58" cy="2148.29" r="4.34"/><circle cx="439.06" cy="2142.52" r="4.18"/><circle cx="454.88" cy="2106.74" r="4.2"/><circle cx="436.71" cy="2146.62" r="3.73"/><circle cx="518.83" cy="2080.26" r="5.13"/><circle cx="482.63" cy="2079.23" r="3.24"/><circle cx="507.34" cy="2065.38" r="5.42"/><circle cx="430.15" cy="2131.54" r="4.53"/><circle cx="450.78" cy="2148.63" r="4.46"/><circle cx="506.29" cy="2130.31" r="5.11"/><circle cx="433.02" cy="2128.62" r="3.67"/><circle cx="513.09" cy="2104.07" r="3.43"/><circle cx="427.44" cy="2082.34" r="3.86"/><circle cx="450.2" cy="2130.05" r="3.16"/><circle cx="439.16" cy="2078.2" r="3.87"/><circle cx="443.05" cy="2125.55" r="4.67"/><circle cx="498.4" cy="2096.95" r="4.42"/><circle cx="485.59" cy="2147.08" r="3.74"/><circle cx="478.39" cy="2082.9" r="4.58"/><circle cx="449.58" cy="2151.22" r="3.28"/><circle cx="486.09" cy="2087.59" r="5.19"/><circle cx="483.38" cy="2069.29" r="3.49"/><circle cx="517.6" cy="2103.6" r="3.71"/><circle cx="472.25" cy="2112.45" r="3.46"/><circle cx="424.09" cy="2119.2" r="4.85"/><circle cx="447.94" cy="2085.05" r="5.22"/><circle cx="499.67" cy="2069.01" r="5.1"/><circle cx="448" cy="2134.47" r="3.21"/><circle cx="444.09" cy="2087.81" r="4.12"/><circle cx="474.23" cy="2078.73" r="4"/><circle cx="509.02" cy="2157.19" r="3.61"/><circle cx="422.92" cy="2105.68" r="5.58"/><circle cx="494.42" cy="2098.15" r="3.16"/><circle cx="512.24" cy="2109.43" r="4.32"/><circle cx="437.51" cy="2114.92" r="5.03"/><circle cx="483.89" cy="2095.69" r="5.62"/><circle cx="485.21" cy="2137.15" r="3.42"/><circle cx="471.1" cy="2109.99" r="4.24"/><circle cx="503.87" cy="2127.48" r="4.99"/><circle cx="471.48" cy="2153.65" r="3.15"/><circle cx="436.91" cy="2136.82" r="3.67"/><circle cx="436.04" cy="2120.02" r="5.37"/></g>
<g fill="#2030f0" opacity="0.9"><circle cx="464.56" cy="2137.52" r="6.82"/><circle cx="518.99" cy="2149.81" r="6.14"/><circle cx="498.56" cy="2130.47" r="4.68"/><circle cx="461.07" cy="2142.14" r="4.99"/><circle cx="460.17" cy="2138.87" r="4.31"/><circle cx="514.03" cy="2135.33" r="6.86"/><circle cx="467.6" cy="2157.71" r="4.98"/><circle cx="472.75" cy="2145.69" r="6.31"/><circle cx="495.49" cy="2153.48" r="6.17"/><circle cx="487.38" cy="2154.27" r="6.77"/><circle cx="477.39" cy="2136.38" r="3.87"/><circle cx="507.06" cy="2135.95" r="4.86"/><circle cx="502.24" cy="2129.94" r="5.06"/><circle cx="484.17" cy="2128.07" r="4.08"/><circle cx="477.79" cy="2133.32" r="6.69"/><circle cx="476.18" cy="2158.15" r="4.87"/><circle cx="494.28" cy="2153.42" r="6.32"/><circle cx="457.27" cy="2136.02" r="5.5"/><circle cx="469.61" cy="2132.08" r="3.99"/><circle cx="461.78" cy="2136.38" r="5.09"/></g>
<g fill="#30a0e8" opacity="0.95"><circle cx="450.39" cy="2069.55" r="3.36"/><circle cx="452.2" cy="2082.24" r="2.89"/><circle cx="434.07" cy="2093.12" r="3.15"/><circle cx="488.47" cy="2074.99" r="4.22"/></g>
<path d="M421.38 2110.34L434.07 2106.17M468.52 2102.18L504.79 2087.68M441.32 2129.38L459.46 2118.5M479.4 2110.34L493.91 2104M423.19 2140.26L434.07 2134.82" fill="none" stroke="#a0e828" stroke-width="2.6" stroke-linecap="round" opacity=".95"/>
<g fill="#e8e020" opacity="0.9"><circle cx="501.16" cy="2088.58" r="2.35"/><circle cx="443.14" cy="2126.66" r="2.9"/><circle cx="486.65" cy="2107.62" r="3.12"/></g>
<g fill="#e02828"><circle cx="466.71" cy="2158.39" r="1.86"/><circle cx="457.64" cy="2156.58" r="1.42"/><circle cx="513.85" cy="2100.37" r="2.04"/><circle cx="502.97" cy="2129.38" r="1.55"/></g>
</g>
<rect x="308.4" y="2115" width="39.9" height="37" fill="none" stroke="#fff" stroke-width="1.2"/>
<rect x="418.3" y="2058.1" width="101.3" height="101" fill="none" stroke="#fff" stroke-width="1.4"/>
<text x="421.5" y="2153.2" font-size="15.5" fill="#fff">Merge</text>
<rect x="266.6" y="2224.9" width="41" height="12.3" fill="#8c8c90" opacity=".92"/>
<text x="269.3" y="2233.2" font-size="6.6" font-weight="bold" fill="#1a1a30" font-family='"Liberation Serif", serif'>500 µm</text>
<line x1="268.8" y1="2235.5" x2="305.8" y2="2235.5" stroke="#1a1a30" stroke-width="1.1"/>
<rect x="523.9" y="2054.7" width="60.8" height="60.2" fill="#000"/>
<g clip-path="url(#hc23)" opacity="0.42">
<path d="M518.9 2087.81L554.3 2066.74L589.7 2060.72L589.7 2099.85L548.22 2105.87L518.9 2111.89Z" fill="#000" filter="url(#fG2)"/>
</g>
<text x="525.1" y="2112.3" font-size="13.2" fill="#25dd25">mø</text>
<rect x="523.9" y="2117.7" width="60.8" height="60.4" fill="#0c0202"/>
<g clip-path="url(#hc24)" opacity="0.22">
<path d="M518.9 2150.92L554.3 2129.78L589.7 2123.74L589.7 2163L548.22 2169.04L518.9 2175.08Z" fill="#000" filter="url(#fR2)"/>
</g>
<text x="525.1" y="2175.5" font-size="13.2" fill="#e02020">IL-6</text>
<rect x="523.9" y="2180.3" width="60.8" height="59.9" fill="#040414"/>
<g clip-path="url(#hc25)" opacity="0.8">
<path d="M518.9 2198.27L589.7 2175.3L589.7 2245.2L518.9 2245.2Z" fill="#000" filter="url(#fB4)"/>
</g>
<text x="525.1" y="2237.6" font-size="13.2" fill="#2a7ae8">DAPI</text>
<text x="652.8" y="1260.7" font-size="28">i</text>
<ellipse cx="881.12" cy="1359.19" rx="57.35" ry="4.58" fill="none" stroke="#29b6f6" stroke-width="1.9" transform="rotate(1 881.12 1359.19)"/>
<ellipse cx="976.15" cy="1372.92" rx="57.88" ry="10.77" fill="none" stroke="#9a9a9a" stroke-width="1.9" transform="rotate(18 976.15 1372.92)"/>
<ellipse cx="947.88" cy="1399.04" rx="74.58" ry="16.15" fill="none" stroke="#19e6e6" stroke-width="1.9" transform="rotate(-49.5 947.88 1399.04)"/>
<ellipse cx="1000.92" cy="1403.62" rx="35.54" ry="32.31" fill="none" stroke="#1a5ce0" stroke-width="1.9" transform="rotate(0 1000.92 1403.62)"/>
<ellipse cx="903.46" cy="1502.69" rx="142.42" ry="25.04" fill="none" stroke="#f39a12" stroke-width="1.9" transform="rotate(-40.7 903.46 1502.69)"/>
<ellipse cx="884.62" cy="1479" rx="26.38" ry="106.88" fill="none" stroke="#b416e0" stroke-width="1.9" transform="rotate(-2.3 884.62 1479)"/>
<ellipse cx="886.77" cy="1439.42" rx="94.77" ry="28.27" fill="none" stroke="#1fd21f" stroke-width="1.9" transform="rotate(36.5 886.77 1439.42)"/>
<ellipse cx="873.85" cy="1455.04" rx="24.77" ry="18.31" fill="none" stroke="#3b78b4" stroke-width="1.9" transform="rotate(-50 873.85 1455.04)"/>
<ellipse cx="749.46" cy="1464.46" rx="20.46" ry="5.92" fill="none" stroke="#e81c1c" stroke-width="1.9" transform="rotate(-3 749.46 1464.46)"/>
<ellipse cx="1003.62" cy="1432.69" rx="38.77" ry="9.69" fill="none" stroke="#111" stroke-width="1.9" transform="rotate(-60 1003.62 1432.69)"/>
<g fill="#2b2b2b"><circle cx="1003.62" cy="1421.92" r="4.1"/><circle cx="1013.31" cy="1413.85" r="4.1"/><circle cx="1017.35" cy="1425.42" r="4.1"/><circle cx="999.04" cy="1446.15" r="4.1"/><circle cx="988.27" cy="1458.27" r="4.1"/></g>
<g fill="#ababab"><circle cx="932.54" cy="1355.96" r="4.1"/><circle cx="955.96" cy="1366.73" r="4.1"/><circle cx="961.35" cy="1374.27" r="4.1"/><circle cx="966.73" cy="1381.54" r="4.1"/><circle cx="1004.96" cy="1380.73" r="4.1"/><circle cx="1017.35" cy="1380.73" r="4.1"/></g>
<g fill="#f5a336"><circle cx="1023.27" cy="1405.23" r="4.1"/><circle cx="890" cy="1513.46" r="4.1"/><circle cx="894.04" cy="1525.04" r="4.1"/><circle cx="862.54" cy="1559.23" r="4.1"/></g>
<g fill="#c93fe0"><circle cx="891.88" cy="1405.77" r="4.1"/><circle cx="870.35" cy="1459.62" r="4.1"/><circle cx="872.5" cy="1507.54" r="4.1"/><circle cx="901.31" cy="1542.54" r="4.1"/></g>
<g fill="#f233c0"><circle cx="711.5" cy="1380.19" r="4.1"/><circle cx="716.35" cy="1382.88" r="4.1"/><circle cx="721.73" cy="1384.23" r="4.1"/></g>
<g fill="#3a7df0"><circle cx="974.81" cy="1384.77" r="4.1"/><circle cx="997.15" cy="1386.38" r="4.1"/><circle cx="1030" cy="1395" r="4.1"/><circle cx="1011.96" cy="1405.23" r="4.1"/><circle cx="986.38" cy="1423.27" r="4.1"/><circle cx="1004.96" cy="1425.96" r="4.1"/></g>
<g fill="#1212f2"><circle cx="712.31" cy="1378.04" r="4.1"/></g>
<g fill="#ee2424"><circle cx="740.58" cy="1461.77" r="4.1"/><circle cx="748.12" cy="1468.23" r="4.1"/><circle cx="766.96" cy="1462.85" r="4.1"/></g>
<g fill="#4d86bd"><circle cx="883.81" cy="1435.38" r="4.1"/><circle cx="867.65" cy="1447.5" r="4.1"/><circle cx="857.69" cy="1464.19" r="4.1"/><circle cx="876" cy="1465" r="4.1"/><circle cx="882.73" cy="1465.81" r="4.1"/></g>
<g fill="#35dd35"><circle cx="832.12" cy="1403.08" r="4.1"/><circle cx="846.12" cy="1407.65" r="4.1"/><circle cx="928.5" cy="1448.85" r="4.1"/><circle cx="913.42" cy="1462.31" r="4.1"/><circle cx="912.08" cy="1475.77" r="4.1"/></g>
<g fill="#2cb8f5"><circle cx="846.12" cy="1355.15" r="4.1"/><circle cx="853.12" cy="1362.69" r="4.1"/><circle cx="880.58" cy="1359.46" r="4.1"/><circle cx="910.19" cy="1358.12" r="4.1"/><circle cx="916.38" cy="1359.46" r="4.1"/></g>
<g fill="#24eded"><circle cx="966.19" cy="1374.27" r="4.1"/><circle cx="978.31" cy="1374.27" r="4.1"/><circle cx="951.12" cy="1380.19" r="4.1"/><circle cx="934.42" cy="1428.12" r="4.1"/><circle cx="908.31" cy="1438.88" r="4.1"/></g>
<rect x="655.77" y="1312.35" width="430.77" height="323.08" fill="none" stroke="#4a4a4a" stroke-width="1.2"/>
<line x1="655.77" y1="1635.42" x2="1086.54" y2="1635.42" stroke="#444" stroke-width="1.6"/>
<line x1="655.77" y1="1312.35" x2="655.77" y2="1635.42" stroke="#444" stroke-width="1.6"/>
<line x1="650.27" y1="1312.35" x2="655.77" y2="1312.35" stroke="#444" stroke-width="1.1"/>
<text x="647.77" y="1315.95" font-size="10" text-anchor="end" fill="#333">0.48</text>
<line x1="650.27" y1="1353.81" x2="655.77" y2="1353.81" stroke="#444" stroke-width="1.1"/>
<text x="647.77" y="1357.41" font-size="10" text-anchor="end" fill="#333">0.3</text>
<line x1="650.27" y1="1421.92" x2="655.77" y2="1421.92" stroke="#444" stroke-width="1.1"/>
<text x="647.77" y="1425.52" font-size="10" text-anchor="end" fill="#333">0</text>
<line x1="650.27" y1="1490.58" x2="655.77" y2="1490.58" stroke="#444" stroke-width="1.1"/>
<text x="647.77" y="1494.18" font-size="10" text-anchor="end" fill="#333">-0.3</text>
<line x1="650.27" y1="1558.42" x2="655.77" y2="1558.42" stroke="#444" stroke-width="1.1"/>
<text x="647.77" y="1562.02" font-size="10" text-anchor="end" fill="#333">-0.6</text>
<line x1="650.27" y1="1626.54" x2="655.77" y2="1626.54" stroke="#444" stroke-width="1.1"/>
<text x="647.77" y="1630.14" font-size="10" text-anchor="end" fill="#333">-0.9</text>
<line x1="655.77" y1="1635.42" x2="655.77" y2="1640.92" stroke="#444" stroke-width="1.1"/>
<text x="654.27" y="1652.65" font-size="10" text-anchor="middle" fill="#333">-0.67</text>
<line x1="679.46" y1="1635.42" x2="679.46" y2="1640.92" stroke="#444" stroke-width="1.1"/>
<text x="681.46" y="1652.65" font-size="10" text-anchor="middle" fill="#333">-0.6</text>
<line x1="780.15" y1="1635.42" x2="780.15" y2="1640.92" stroke="#444" stroke-width="1.1"/>
<text x="780.15" y="1652.65" font-size="10" text-anchor="middle" fill="#333">-0.3</text>
<line x1="881.12" y1="1635.42" x2="881.12" y2="1640.92" stroke="#444" stroke-width="1.1"/>
<text x="881.12" y="1652.65" font-size="10" text-anchor="middle" fill="#333">0</text>
<line x1="982.35" y1="1635.42" x2="982.35" y2="1640.92" stroke="#444" stroke-width="1.1"/>
<text x="982.35" y="1652.65" font-size="10" text-anchor="middle" fill="#333">0.3</text>
<line x1="1083.31" y1="1635.42" x2="1083.31" y2="1640.92" stroke="#444" stroke-width="1.1"/>
<text x="1083.31" y="1652.65" font-size="10" text-anchor="middle" fill="#333">0.6</text>
<text x="871" y="1666.6" font-size="12.3" text-anchor="middle" font-weight="bold" fill="#222">PCoA1 [33.8%]</text>
<text x="627.8" y="1474" font-size="12.3" transform="rotate(-90 627.8 1474)" text-anchor="middle" font-weight="bold" fill="#222">PCoA2 [18.4%]</text>
<circle cx="1111" cy="1320.3" r="8.4" fill="#333"/>
<text x="1133" y="1325.3" font-size="14.2" fill="#222">D0.Veh</text>
<circle cx="1111" cy="1348.95" r="8.4" fill="#b0b0b0"/>
<text x="1133" y="1353.95" font-size="14.2" fill="#222">D7.Veh</text>
<circle cx="1111" cy="1377.6" r="8.4" fill="#f5a633"/>
<text x="1133" y="1382.6" font-size="14.2" fill="#222">D7.Abx</text>
<circle cx="1111" cy="1406.25" r="8.4" fill="#c940e0"/>
<text x="1133" y="1411.25" font-size="14.2" fill="#222">D7.Amp</text>
<circle cx="1111" cy="1434.9" r="8.4" fill="#f535c0"/>
<text x="1133" y="1439.9" font-size="14.2" fill="#222">D7.Met</text>
<circle cx="1111" cy="1463.55" r="8.4" fill="#3d85f0"/>
<text x="1133" y="1468.55" font-size="14.2" fill="#222">D7.Neo</text>
<circle cx="1111" cy="1492.2" r="8.4" fill="#2846f0"/>
<text x="1133" y="1497.2" font-size="14.2" fill="#222">D7.Van</text>
<circle cx="1111" cy="1520.85" r="8.4" fill="#f03535"/>
<text x="1133" y="1525.85" font-size="14.2" fill="#222">D0.Abx</text>
<circle cx="1111" cy="1549.5" r="8.4" fill="#4d8dc4"/>
<text x="1133" y="1554.5" font-size="14.2" fill="#222">D0.Amp</text>
<circle cx="1111" cy="1578.15" r="8.4" fill="#3de03d"/>
<text x="1133" y="1583.15" font-size="14.2" fill="#222">D0.Van</text>
<circle cx="1111" cy="1606.8" r="8.4" fill="#2dbdf5"/>
<text x="1133" y="1611.8" font-size="14.2" fill="#222">D0.Neo</text>
<circle cx="1111" cy="1635.45" r="8.4" fill="#33f0f0"/>
<text x="1133" y="1640.45" font-size="14.2" fill="#222">D0.Met</text>
<text x="639" y="1757.7" font-size="28" font-weight="bold">k</text>
<rect x="767.6" y="1697.46" width="24.87" height="11.4" fill="#f5608a" stroke="#000" stroke-width="1.3"/>
<line x1="792.47" y1="1703.16" x2="815.3" y2="1703.16" stroke="#000" stroke-width="1.2"/>
<line x1="815.3" y1="1700.96" x2="815.3" y2="1705.36" stroke="#000" stroke-width="1.2"/>
<circle cx="768.63" cy="1703.16" r="1.7" fill="#b0104a"/>
<circle cx="800.99" cy="1703.16" r="1.7" fill="#b0104a"/>
<circle cx="804.4" cy="1703.16" r="1.7" fill="#b0104a"/>
<circle cx="825.86" cy="1703.16" r="1.7" fill="#b0104a"/>
<rect x="767.6" y="1717.9" width="2.73" height="11.4" fill="#f048c8" stroke="#000" stroke-width="1.3"/>
<line x1="770.33" y1="1723.6" x2="777.14" y2="1723.6" stroke="#000" stroke-width="1.2"/>
<line x1="777.14" y1="1721.4" x2="777.14" y2="1725.8" stroke="#000" stroke-width="1.2"/>
<circle cx="769.31" cy="1721.56" r="1.7" fill="#8a1070"/>
<circle cx="770.33" cy="1725.31" r="1.7" fill="#8a1070"/>
<circle cx="783.96" cy="1723.6" r="1.7" fill="#8a1070"/>
<rect x="767.6" y="1757.76" width="2.73" height="11.4" fill="#5050ee" stroke="#000" stroke-width="1.3"/>
<line x1="770.33" y1="1763.46" x2="774.42" y2="1763.46" stroke="#000" stroke-width="1.2"/>
<line x1="774.42" y1="1761.26" x2="774.42" y2="1765.66" stroke="#000" stroke-width="1.2"/>
<circle cx="768.63" cy="1761.42" r="1.7" fill="#10108a"/>
<circle cx="771.35" cy="1763.46" r="1.7" fill="#10108a"/>
<circle cx="769.31" cy="1765.51" r="1.7" fill="#10108a"/>
<circle cx="775.44" cy="1763.46" r="1.7" fill="#10108a"/>
<rect x="767.6" y="1797.62" width="12.26" height="11.4" fill="#48e8a8" stroke="#000" stroke-width="1.3"/>
<line x1="779.87" y1="1803.32" x2="804.4" y2="1803.32" stroke="#000" stroke-width="1.2"/>
<line x1="804.4" y1="1801.12" x2="804.4" y2="1805.52" stroke="#000" stroke-width="1.2"/>
<circle cx="786.68" cy="1803.32" r="1.7" fill="#108a60"/>
<circle cx="826.54" cy="1803.32" r="1.7" fill="#108a60"/>
<rect x="767.6" y="1857.23" width="19.76" height="11.4" fill="#1eb4f0" stroke="#000" stroke-width="1.3"/>
<line x1="787.36" y1="1862.93" x2="806.1" y2="1862.93" stroke="#000" stroke-width="1.2"/>
<line x1="806.1" y1="1860.73" x2="806.1" y2="1865.13" stroke="#000" stroke-width="1.2"/>
<circle cx="775.44" cy="1861.23" r="1.7" fill="#1070a0"/>
<circle cx="777.14" cy="1864.64" r="1.7" fill="#1070a0"/>
<circle cx="790.77" cy="1862.93" r="1.7" fill="#1070a0"/>
<circle cx="808.48" cy="1858.16" r="1.7" fill="#1070a0"/>
<circle cx="808.48" cy="1867.7" r="1.7" fill="#1070a0"/>
<rect x="767.6" y="1876.99" width="91.3" height="11.4" fill="#0a85b5" stroke="#000" stroke-width="1.3"/>
<line x1="858.9" y1="1882.69" x2="928.05" y2="1882.69" stroke="#000" stroke-width="1.2"/>
<line x1="928.05" y1="1880.49" x2="928.05" y2="1884.89" stroke="#000" stroke-width="1.2"/>
<circle cx="786.68" cy="1877.92" r="1.7" fill="#0a4a70"/>
<circle cx="783.96" cy="1886.78" r="1.7" fill="#0a4a70"/>
<circle cx="852.09" cy="1882.69" r="1.7" fill="#0a4a70"/>
<circle cx="866.74" cy="1882.69" r="1.7" fill="#0a4a70"/>
<circle cx="916.81" cy="1882.69" r="1.7" fill="#0a4a70"/>
<circle cx="951.9" cy="1882.69" r="1.7" fill="#0a4a70"/>
<rect x="767.6" y="1949.55" width="44.29" height="11.4" fill="#f5608a" stroke="#000" stroke-width="1.3"/>
<line x1="811.89" y1="1955.25" x2="837.78" y2="1955.25" stroke="#000" stroke-width="1.2"/>
<line x1="837.78" y1="1953.05" x2="837.78" y2="1957.45" stroke="#000" stroke-width="1.2"/>
<circle cx="800.99" cy="1955.25" r="1.7" fill="#b0104a"/>
<circle cx="827.56" cy="1955.25" r="1.7" fill="#b0104a"/>
<circle cx="833.35" cy="1950.82" r="1.7" fill="#b0104a"/>
<circle cx="832.67" cy="1960.02" r="1.7" fill="#b0104a"/>
<rect x="767.6" y="1969.31" width="117.53" height="11.4" fill="#f048c8" stroke="#000" stroke-width="1.3"/>
<line x1="885.13" y1="1975.01" x2="921.92" y2="1975.01" stroke="#000" stroke-width="1.2"/>
<line x1="921.92" y1="1972.81" x2="921.92" y2="1977.21" stroke="#000" stroke-width="1.2"/>
<circle cx="841.87" cy="1975.01" r="1.7" fill="#8a1070"/>
<circle cx="869.12" cy="1975.01" r="1.7" fill="#8a1070"/>
<circle cx="875.93" cy="1972.29" r="1.7" fill="#8a1070"/>
<circle cx="874.57" cy="1978.42" r="1.7" fill="#8a1070"/>
<circle cx="905.91" cy="1975.01" r="1.7" fill="#8a1070"/>
<circle cx="945.09" cy="1975.01" r="1.7" fill="#8a1070"/>
<rect x="767.6" y="1989.41" width="2.73" height="11.4" fill="#b050d8" stroke="#000" stroke-width="1.3"/>
<line x1="770.33" y1="1995.11" x2="777.14" y2="1995.11" stroke="#000" stroke-width="1.2"/>
<line x1="777.14" y1="1992.91" x2="777.14" y2="1997.31" stroke="#000" stroke-width="1.2"/>
<circle cx="782.93" cy="1995.11" r="1.7" fill="#6a1a8a"/>
<rect x="767.6" y="2009.51" width="24.87" height="11.4" fill="#5050ee" stroke="#000" stroke-width="1.3"/>
<line x1="792.47" y1="2015.21" x2="842.55" y2="2015.21" stroke="#000" stroke-width="1.2"/>
<line x1="842.55" y1="2013.01" x2="842.55" y2="2017.41" stroke="#000" stroke-width="1.2"/>
<circle cx="766.92" cy="2016.91" r="1.7" fill="#10108a"/>
<circle cx="771.35" cy="2016.91" r="1.7" fill="#10108a"/>
<circle cx="891.26" cy="2015.21" r="1.7" fill="#10108a"/>
<rect x="767.6" y="2049.03" width="17.03" height="11.4" fill="#48e8a8" stroke="#000" stroke-width="1.3"/>
<line x1="784.64" y1="2054.73" x2="828.92" y2="2054.73" stroke="#000" stroke-width="1.2"/>
<line x1="828.92" y1="2052.53" x2="828.92" y2="2056.93" stroke="#000" stroke-width="1.2"/>
<circle cx="768.63" cy="2056.43" r="1.7" fill="#108a60"/>
<circle cx="872.53" cy="2054.73" r="1.7" fill="#108a60"/>
<rect x="767.6" y="2068.78" width="63.36" height="11.4" fill="#ffff00" stroke="#000" stroke-width="1.3"/>
<line x1="830.97" y1="2074.48" x2="896.37" y2="2074.48" stroke="#000" stroke-width="1.2"/>
<line x1="896.37" y1="2072.28" x2="896.37" y2="2076.68" stroke="#000" stroke-width="1.2"/>
<circle cx="777.14" cy="2070.4" r="1.7" fill="#9a9a10"/>
<circle cx="779.87" cy="2078.57" r="1.7" fill="#9a9a10"/>
<circle cx="867.42" cy="2074.48" r="1.7" fill="#9a9a10"/>
<circle cx="883.43" cy="2074.48" r="1.7" fill="#9a9a10"/>
<circle cx="915.11" cy="2074.48" r="1.7" fill="#9a9a10"/>
<rect x="767.6" y="2108.64" width="32.7" height="11.4" fill="#1eb4f0" stroke="#000" stroke-width="1.3"/>
<line x1="800.31" y1="2114.34" x2="826.54" y2="2114.34" stroke="#000" stroke-width="1.2"/>
<line x1="826.54" y1="2112.14" x2="826.54" y2="2116.54" stroke="#000" stroke-width="1.2"/>
<circle cx="782.93" cy="2114.34" r="1.7" fill="#1070a0"/>
<circle cx="794.18" cy="2114.34" r="1.7" fill="#1070a0"/>
<circle cx="831.65" cy="2109.23" r="1.7" fill="#1070a0"/>
<circle cx="829.95" cy="2118.77" r="1.7" fill="#1070a0"/>
<rect x="767.6" y="2128.4" width="121.96" height="11.4" fill="#0a85b5" stroke="#000" stroke-width="1.3"/>
<line x1="889.56" y1="2134.1" x2="950.88" y2="2134.1" stroke="#000" stroke-width="1.2"/>
<line x1="950.88" y1="2131.9" x2="950.88" y2="2136.3" stroke="#000" stroke-width="1.2"/>
<circle cx="824.15" cy="2134.1" r="1.7" fill="#0a4a70"/>
<circle cx="844.59" cy="2134.1" r="1.7" fill="#0a4a70"/>
<circle cx="857.2" cy="2134.1" r="1.7" fill="#0a4a70"/>
<circle cx="895.35" cy="2134.1" r="1.7" fill="#0a4a70"/>
<circle cx="935.55" cy="2134.1" r="1.7" fill="#0a4a70"/>
<circle cx="983.24" cy="2134.1" r="1.7" fill="#0a4a70"/>
<rect x="767.6" y="2148.16" width="87.21" height="11.4" fill="#70e010" stroke="#000" stroke-width="1.3"/>
<line x1="854.81" y1="2153.86" x2="906.59" y2="2153.86" stroke="#000" stroke-width="1.2"/>
<line x1="906.59" y1="2151.66" x2="906.59" y2="2156.06" stroke="#000" stroke-width="1.2"/>
<circle cx="835.05" cy="2153.86" r="1.7" fill="#409010"/>
<circle cx="870.82" cy="2148.75" r="1.7" fill="#409010"/>
<circle cx="867.42" cy="2158.29" r="1.7" fill="#409010"/>
<circle cx="886.84" cy="2153.86" r="1.7" fill="#409010"/>
<circle cx="905.57" cy="2153.86" r="1.7" fill="#409010"/>
<line x1="767.6" y1="1689.54" x2="767.6" y2="2188.88" stroke="#000" stroke-width="2.7"/>
<line x1="766.3" y1="2187.58" x2="1028.55" y2="2187.58" stroke="#000" stroke-width="2.7"/>
<rect x="766.1" y="1736.72" width="3.2" height="12.6" fill="#8a30a8"/>
<rect x="766.1" y="1776.92" width="3.2" height="12.6" fill="#2a6a8a"/>
<rect x="766.1" y="1816.78" width="3.2" height="12.6" fill="#a0a020"/>
<rect x="766.1" y="1836.54" width="3.2" height="12.6" fill="#e07818"/>
<rect x="766.1" y="1896.15" width="3.2" height="12.6" fill="#58b010"/>
<rect x="766.1" y="1916.25" width="3.2" height="12.6" fill="#0a7040"/>
<rect x="766.1" y="2028.67" width="3.2" height="12.6" fill="#2a6a8a"/>
<rect x="766.1" y="2087.6" width="3.2" height="12.6" fill="#e07818"/>
<rect x="766.1" y="2167.66" width="3.2" height="12.6" fill="#0a7040"/>
<line x1="767.6" y1="2187.58" x2="767.6" y2="2200.58" stroke="#000" stroke-width="2.7"/>
<text x="767.6" y="2226.08" font-size="17.5" text-anchor="middle" font-weight="bold">0</text>
<line x1="832.59" y1="2187.58" x2="832.59" y2="2200.58" stroke="#000" stroke-width="2.7"/>
<text x="832.59" y="2226.08" font-size="17.5" text-anchor="middle" font-weight="bold">20</text>
<line x1="897.57" y1="2187.58" x2="897.57" y2="2200.58" stroke="#000" stroke-width="2.7"/>
<text x="897.57" y="2226.08" font-size="17.5" text-anchor="middle" font-weight="bold">40</text>
<line x1="962.55" y1="2187.58" x2="962.55" y2="2200.58" stroke="#000" stroke-width="2.7"/>
<text x="962.55" y="2226.08" font-size="17.5" text-anchor="middle" font-weight="bold">60</text>
<line x1="1027.53" y1="2187.58" x2="1027.53" y2="2200.58" stroke="#000" stroke-width="2.7"/>
<text x="1027.53" y="2226.08" font-size="17.5" text-anchor="middle" font-weight="bold">80</text>
<text x="898" y="2262.8" font-size="21" text-anchor="middle" font-weight="bold" textLength="234" lengthAdjust="spacing">Mean proportions (%)</text>
<line x1="752.62" y1="1813.54" x2="767.6" y2="1813.54" stroke="#000" stroke-width="2.7"/>
<text x="749.89" y="1820.74" font-size="21" text-anchor="end" font-weight="bold" textLength="110" lengthAdjust="spacing">Dubosiella</text>
<line x1="752.62" y1="2064.26" x2="767.6" y2="2064.26" stroke="#000" stroke-width="2.7"/>
<text x="749.89" y="2071.46" font-size="21" text-anchor="end" font-weight="bold" textLength="136" lengthAdjust="spacing">Akkermansia</text>
<path d="M837.89 1703.16H842.89V1862.93H837.89" fill="none" stroke="#000" stroke-width="1.2"/>
<text x="848" y="1783.9" font-size="15" transform="rotate(90 848 1783.9)" text-anchor="middle" textLength="54" lengthAdjust="spacingAndGlyphs">P=0.9166</text>
<path d="M970.73 1862.93H974.73V1882.69H970.73" fill="none" stroke="#000" stroke-width="1.2"/>
<text x="980.52" y="1873.15" font-size="15" transform="rotate(90 980.52 1873.15)" text-anchor="middle" textLength="54" lengthAdjust="spacingAndGlyphs">P=0.0368</text>
<path d="M952.69 1954.23H957.69V2113.32H952.69" fill="none" stroke="#000" stroke-width="1.2"/>
<text x="964.85" y="2035.99" font-size="15" transform="rotate(90 964.85 2035.99)" text-anchor="middle" textLength="54" lengthAdjust="spacingAndGlyphs">P=0.6373</text>
<path d="M1004.11 2114.34H1008.11V2134.1H1004.11" fill="none" stroke="#000" stroke-width="1.2"/>
<text x="1016.29" y="2122.86" font-size="15" transform="rotate(90 1016.29 2122.86)" text-anchor="middle" textLength="54" lengthAdjust="spacingAndGlyphs">P=0.0088</text>
<rect x="1011.8" y="1697.66" width="36.3" height="11" fill="#f5608a" stroke="#000" stroke-width="1.3"/>
<text x="1059.3" y="1707.76" font-size="13.2" font-weight="bold">D0.Veh</text>
<rect x="1011.8" y="1721.17" width="36.3" height="11" fill="#f048c8" stroke="#000" stroke-width="1.3"/>
<text x="1059.3" y="1731.27" font-size="13.2" font-weight="bold">D7.Veh</text>
<rect x="1011.8" y="1745.36" width="36.3" height="11" fill="#b050d8" stroke="#000" stroke-width="1.3"/>
<text x="1059.3" y="1755.46" font-size="13.2" font-weight="bold">D0.Abx</text>
<rect x="1011.8" y="1769.54" width="36.3" height="11" fill="#5050ee" stroke="#000" stroke-width="1.3"/>
<text x="1059.3" y="1779.64" font-size="13.2" font-weight="bold">D7.Abx</text>
<rect x="1011.8" y="1793.73" width="36.3" height="11" fill="#5a9af0" stroke="#000" stroke-width="1.3"/>
<text x="1059.3" y="1803.83" font-size="13.2" font-weight="bold">D0.Amp</text>
<rect x="1011.8" y="1817.92" width="36.3" height="11" fill="#48e8a8" stroke="#000" stroke-width="1.3"/>
<text x="1059.3" y="1828.02" font-size="13.2" font-weight="bold">D7.Amp</text>
<rect x="1011.8" y="1842.1" width="36.3" height="11" fill="#f58010" stroke="#000" stroke-width="1.3"/>
<text x="1059.3" y="1852.2" font-size="13.2" font-weight="bold">D0.Van</text>
<rect x="1011.8" y="1865.95" width="36.3" height="11" fill="#ffff00" stroke="#000" stroke-width="1.3"/>
<text x="1059.3" y="1876.05" font-size="13.2" font-weight="bold">D7.Van</text>
<rect x="1011.8" y="1890.14" width="36.3" height="11" fill="#1eb4f0" stroke="#000" stroke-width="1.3"/>
<text x="1059.3" y="1900.24" font-size="13.2" font-weight="bold">D0.Neo</text>
<rect x="1011.8" y="1914.32" width="36.3" height="11" fill="#0a85b5" stroke="#000" stroke-width="1.3"/>
<text x="1059.3" y="1924.42" font-size="13.2" font-weight="bold">D7.Neo</text>
<rect x="1011.8" y="1938.51" width="36.3" height="11" fill="#70e010" stroke="#000" stroke-width="1.3"/>
<text x="1059.3" y="1948.61" font-size="13.2" font-weight="bold">D0.Metro</text>
<rect x="1011.8" y="1959.97" width="36.3" height="11" fill="#10a060" stroke="#000" stroke-width="1.3"/>
<text x="1059.3" y="1970.07" font-size="13.2" font-weight="bold">D7.Metro</text>
<text x="1193" y="1254" font-size="28">j</text>
<g shape-rendering="crispEdges">
<rect x="1289.5" y="1299" width="39.63" height="40.6" fill="#0000ff"/>
<rect x="1328.93" y="1299" width="39.43" height="40.6" fill="#e3b4b4"/>
<rect x="1371.37" y="1299" width="39.63" height="40.6" fill="#f56161"/>
<rect x="1410.8" y="1299" width="39.43" height="40.6" fill="#4f4ff8"/>
<rect x="1453.24" y="1299" width="39.63" height="40.6" fill="#e3b4b4"/>
<rect x="1492.67" y="1299" width="39.43" height="40.6" fill="#9b9beb"/>
<rect x="1535.11" y="1299" width="39.63" height="40.6" fill="#e8a3a3"/>
<rect x="1574.54" y="1299" width="39.43" height="40.6" fill="#fa3737"/>
<rect x="1616.98" y="1299" width="39.63" height="40.6" fill="#f07e7e"/>
<rect x="1656.41" y="1299" width="39.43" height="40.6" fill="#8989ee"/>
<rect x="1698.85" y="1299" width="39.63" height="40.6" fill="#e6acac"/>
<rect x="1738.28" y="1299" width="39.43" height="40.6" fill="#f84d4d"/>
<rect x="1289.5" y="1339.3" width="39.63" height="40.6" fill="#4444f9"/>
<rect x="1328.93" y="1339.3" width="39.43" height="40.6" fill="#2d2dfc"/>
<rect x="1371.37" y="1339.3" width="39.63" height="40.6" fill="#8989ee"/>
<rect x="1410.8" y="1339.3" width="39.43" height="40.6" fill="#9b9beb"/>
<rect x="1453.24" y="1339.3" width="39.63" height="40.6" fill="#f84d4d"/>
<rect x="1492.67" y="1339.3" width="39.43" height="40.6" fill="#cecece"/>
<rect x="1535.11" y="1339.3" width="39.63" height="40.6" fill="#a4a4e8"/>
<rect x="1574.54" y="1339.3" width="39.43" height="40.6" fill="#dfbdbd"/>
<rect x="1616.98" y="1339.3" width="39.63" height="40.6" fill="#8989ee"/>
<rect x="1656.41" y="1339.3" width="39.43" height="40.6" fill="#dfbdbd"/>
<rect x="1698.85" y="1339.3" width="39.63" height="40.6" fill="#e8a3a3"/>
<rect x="1738.28" y="1339.3" width="39.43" height="40.6" fill="#ff0000"/>
<rect x="1289.5" y="1379.6" width="39.63" height="40.6" fill="#fd1f1f"/>
<rect x="1328.93" y="1379.6" width="39.43" height="40.6" fill="#9b9beb"/>
<rect x="1371.37" y="1379.6" width="39.63" height="40.6" fill="#6363f5"/>
<rect x="1410.8" y="1379.6" width="39.43" height="40.6" fill="#fd1f1f"/>
<rect x="1453.24" y="1379.6" width="39.63" height="40.6" fill="#5959f6"/>
<rect x="1492.67" y="1379.6" width="39.43" height="40.6" fill="#acace6"/>
<rect x="1535.11" y="1379.6" width="39.63" height="40.6" fill="#5959f6"/>
<rect x="1574.54" y="1379.6" width="39.43" height="40.6" fill="#bdbddf"/>
<rect x="1616.98" y="1379.6" width="39.63" height="40.6" fill="#3939fa"/>
<rect x="1656.41" y="1379.6" width="39.43" height="40.6" fill="#fd1f1f"/>
<rect x="1698.85" y="1379.6" width="39.63" height="40.6" fill="#8989ee"/>
<rect x="1738.28" y="1379.6" width="39.43" height="40.6" fill="#e6acac"/>
<rect x="1289.5" y="1419.9" width="39.63" height="40.6" fill="#e3b4b4"/>
<rect x="1328.93" y="1419.9" width="39.43" height="40.6" fill="#dec0c0"/>
<rect x="1371.37" y="1419.9" width="39.63" height="40.6" fill="#4f4ff8"/>
<rect x="1410.8" y="1419.9" width="39.43" height="40.6" fill="#f27575"/>
<rect x="1453.24" y="1419.9" width="39.63" height="40.6" fill="#4f4ff8"/>
<rect x="1492.67" y="1419.9" width="39.43" height="40.6" fill="#f84d4d"/>
<rect x="1535.11" y="1419.9" width="39.63" height="40.6" fill="#4f4ff8"/>
<rect x="1574.54" y="1419.9" width="39.43" height="40.6" fill="#ed9191"/>
<rect x="1616.98" y="1419.9" width="39.63" height="40.6" fill="#4f4ff8"/>
<rect x="1656.41" y="1419.9" width="39.43" height="40.6" fill="#ff0000"/>
<rect x="1698.85" y="1419.9" width="39.63" height="40.6" fill="#4f4ff8"/>
<rect x="1738.28" y="1419.9" width="39.43" height="40.6" fill="#f27575"/>
<rect x="1289.5" y="1460.2" width="39.63" height="40.6" fill="#fc2b2b"/>
<rect x="1328.93" y="1460.2" width="39.43" height="40.6" fill="#fa3737"/>
<rect x="1371.37" y="1460.2" width="39.63" height="40.6" fill="#7676f2"/>
<rect x="1410.8" y="1460.2" width="39.43" height="40.6" fill="#fa3737"/>
<rect x="1453.24" y="1460.2" width="39.63" height="40.6" fill="#6d6df3"/>
<rect x="1492.67" y="1460.2" width="39.43" height="40.6" fill="#f65757"/>
<rect x="1535.11" y="1460.2" width="39.63" height="40.6" fill="#6363f5"/>
<rect x="1574.54" y="1460.2" width="39.43" height="40.6" fill="#5959f6"/>
<rect x="1616.98" y="1460.2" width="39.63" height="40.6" fill="#4f4ff8"/>
<rect x="1656.41" y="1460.2" width="39.43" height="40.6" fill="#f84d4d"/>
<rect x="1698.85" y="1460.2" width="39.63" height="40.6" fill="#5959f6"/>
<rect x="1738.28" y="1460.2" width="39.43" height="40.6" fill="#6d6df3"/>
<rect x="1289.5" y="1500.5" width="39.63" height="40.6" fill="#fd1f1f"/>
<rect x="1328.93" y="1500.5" width="39.43" height="40.6" fill="#f94242"/>
<rect x="1371.37" y="1500.5" width="39.63" height="40.6" fill="#3939fa"/>
<rect x="1410.8" y="1500.5" width="39.43" height="40.6" fill="#f84d4d"/>
<rect x="1453.24" y="1500.5" width="39.63" height="40.6" fill="#3939fa"/>
<rect x="1492.67" y="1500.5" width="39.43" height="40.6" fill="#ee8888"/>
<rect x="1535.11" y="1500.5" width="39.63" height="40.6" fill="#6363f5"/>
<rect x="1574.54" y="1500.5" width="39.43" height="40.6" fill="#8080f0"/>
<rect x="1616.98" y="1500.5" width="39.63" height="40.6" fill="#5959f6"/>
<rect x="1656.41" y="1500.5" width="39.43" height="40.6" fill="#fa3737"/>
<rect x="1698.85" y="1500.5" width="39.63" height="40.6" fill="#8989ee"/>
<rect x="1738.28" y="1500.5" width="39.43" height="40.6" fill="#8989ee"/>
<rect x="1289.5" y="1540.8" width="39.63" height="40.6" fill="#fc2b2b"/>
<rect x="1328.93" y="1540.8" width="39.43" height="40.6" fill="#a4a4e8"/>
<rect x="1371.37" y="1540.8" width="39.63" height="40.6" fill="#5959f6"/>
<rect x="1410.8" y="1540.8" width="39.43" height="40.6" fill="#ed9191"/>
<rect x="1453.24" y="1540.8" width="39.63" height="40.6" fill="#4f4ff8"/>
<rect x="1492.67" y="1540.8" width="39.43" height="40.6" fill="#f84d4d"/>
<rect x="1535.11" y="1540.8" width="39.63" height="40.6" fill="#4f4ff8"/>
<rect x="1574.54" y="1540.8" width="39.43" height="40.6" fill="#8080f0"/>
<rect x="1616.98" y="1540.8" width="39.63" height="40.6" fill="#f65757"/>
<rect x="1656.41" y="1540.8" width="39.43" height="40.6" fill="#fd1f1f"/>
<rect x="1698.85" y="1540.8" width="39.63" height="40.6" fill="#4444f9"/>
<rect x="1738.28" y="1540.8" width="39.43" height="40.6" fill="#9b9beb"/>
<rect x="1289.5" y="1581.1" width="39.63" height="40.6" fill="#ff0000"/>
<rect x="1328.93" y="1581.1" width="39.43" height="40.6" fill="#ed9191"/>
<rect x="1371.37" y="1581.1" width="39.63" height="40.6" fill="#2d2dfc"/>
<rect x="1410.8" y="1581.1" width="39.43" height="40.6" fill="#e6acac"/>
<rect x="1453.24" y="1581.1" width="39.63" height="40.6" fill="#8080f0"/>
<rect x="1492.67" y="1581.1" width="39.43" height="40.6" fill="#e8a3a3"/>
<rect x="1535.11" y="1581.1" width="39.63" height="40.6" fill="#8080f0"/>
<rect x="1574.54" y="1581.1" width="39.43" height="40.6" fill="#2d2dfc"/>
<rect x="1616.98" y="1581.1" width="39.63" height="40.6" fill="#acace6"/>
<rect x="1656.41" y="1581.1" width="39.43" height="40.6" fill="#fa3737"/>
<rect x="1698.85" y="1581.1" width="39.63" height="40.6" fill="#8989ee"/>
<rect x="1738.28" y="1581.1" width="39.43" height="40.6" fill="#e3b4b4"/>
<rect x="1289.5" y="1621.4" width="39.63" height="40.6" fill="#fe1212"/>
<rect x="1328.93" y="1621.4" width="39.43" height="40.6" fill="#fe1212"/>
<rect x="1371.37" y="1621.4" width="39.63" height="40.6" fill="#5959f6"/>
<rect x="1410.8" y="1621.4" width="39.43" height="40.6" fill="#f56161"/>
<rect x="1453.24" y="1621.4" width="39.63" height="40.6" fill="#6d6df3"/>
<rect x="1492.67" y="1621.4" width="39.43" height="40.6" fill="#f27575"/>
<rect x="1535.11" y="1621.4" width="39.63" height="40.6" fill="#e8a3a3"/>
<rect x="1574.54" y="1621.4" width="39.43" height="40.6" fill="#3939fa"/>
<rect x="1616.98" y="1621.4" width="39.63" height="40.6" fill="#6d6df3"/>
<rect x="1656.41" y="1621.4" width="39.43" height="40.6" fill="#8989ee"/>
<rect x="1698.85" y="1621.4" width="39.63" height="40.6" fill="#8989ee"/>
<rect x="1738.28" y="1621.4" width="39.43" height="40.6" fill="#6d6df3"/>
<rect x="1289.5" y="1661.7" width="39.63" height="40.6" fill="#f27575"/>
<rect x="1328.93" y="1661.7" width="39.43" height="40.6" fill="#fd1f1f"/>
<rect x="1371.37" y="1661.7" width="39.63" height="40.6" fill="#9292ed"/>
<rect x="1410.8" y="1661.7" width="39.43" height="40.6" fill="#fc2b2b"/>
<rect x="1453.24" y="1661.7" width="39.63" height="40.6" fill="#8080f0"/>
<rect x="1492.67" y="1661.7" width="39.43" height="40.6" fill="#f56161"/>
<rect x="1535.11" y="1661.7" width="39.63" height="40.6" fill="#f07e7e"/>
<rect x="1574.54" y="1661.7" width="39.43" height="40.6" fill="#0000ff"/>
<rect x="1616.98" y="1661.7" width="39.63" height="40.6" fill="#8080f0"/>
<rect x="1656.41" y="1661.7" width="39.43" height="40.6" fill="#6d6df3"/>
<rect x="1698.85" y="1661.7" width="39.63" height="40.6" fill="#8080f0"/>
<rect x="1738.28" y="1661.7" width="39.43" height="40.6" fill="#6d6df3"/>
<rect x="1289.5" y="1702" width="39.63" height="40.6" fill="#dfbdbd"/>
<rect x="1328.93" y="1702" width="39.43" height="40.6" fill="#c1c1de"/>
<rect x="1371.37" y="1702" width="39.63" height="40.6" fill="#7676f2"/>
<rect x="1410.8" y="1702" width="39.43" height="40.6" fill="#fc2b2b"/>
<rect x="1453.24" y="1702" width="39.63" height="40.6" fill="#8080f0"/>
<rect x="1492.67" y="1702" width="39.43" height="40.6" fill="#ff0000"/>
<rect x="1535.11" y="1702" width="39.63" height="40.6" fill="#6363f5"/>
<rect x="1574.54" y="1702" width="39.43" height="40.6" fill="#ed9191"/>
<rect x="1616.98" y="1702" width="39.63" height="40.6" fill="#6363f5"/>
<rect x="1656.41" y="1702" width="39.43" height="40.6" fill="#e8a3a3"/>
<rect x="1698.85" y="1702" width="39.63" height="40.6" fill="#1313fe"/>
<rect x="1738.28" y="1702" width="39.43" height="40.6" fill="#ee8888"/>
<rect x="1289.5" y="1742.3" width="39.63" height="40.6" fill="#f56161"/>
<rect x="1328.93" y="1742.3" width="39.43" height="40.6" fill="#e3b4b4"/>
<rect x="1371.37" y="1742.3" width="39.63" height="40.6" fill="#0000ff"/>
<rect x="1410.8" y="1742.3" width="39.43" height="40.6" fill="#ff0000"/>
<rect x="1453.24" y="1742.3" width="39.63" height="40.6" fill="#8080f0"/>
<rect x="1492.67" y="1742.3" width="39.43" height="40.6" fill="#fa3737"/>
<rect x="1535.11" y="1742.3" width="39.63" height="40.6" fill="#8080f0"/>
<rect x="1574.54" y="1742.3" width="39.43" height="40.6" fill="#8989ee"/>
<rect x="1616.98" y="1742.3" width="39.63" height="40.6" fill="#6363f5"/>
<rect x="1656.41" y="1742.3" width="39.43" height="40.6" fill="#b5b5e3"/>
<rect x="1698.85" y="1742.3" width="39.63" height="40.6" fill="#9292ed"/>
<rect x="1738.28" y="1742.3" width="39.43" height="40.6" fill="#e8a3a3"/>
<rect x="1289.5" y="1782.6" width="39.63" height="40.6" fill="#f65757"/>
<rect x="1328.93" y="1782.6" width="39.43" height="40.6" fill="#f56161"/>
<rect x="1371.37" y="1782.6" width="39.63" height="40.6" fill="#6363f5"/>
<rect x="1410.8" y="1782.6" width="39.43" height="40.6" fill="#ff0000"/>
<rect x="1453.24" y="1782.6" width="39.63" height="40.6" fill="#6363f5"/>
<rect x="1492.67" y="1782.6" width="39.43" height="40.6" fill="#f65757"/>
<rect x="1535.11" y="1782.6" width="39.63" height="40.6" fill="#6363f5"/>
<rect x="1574.54" y="1782.6" width="39.43" height="40.6" fill="#ee8888"/>
<rect x="1616.98" y="1782.6" width="39.63" height="40.6" fill="#6363f5"/>
<rect x="1656.41" y="1782.6" width="39.43" height="40.6" fill="#6363f5"/>
<rect x="1698.85" y="1782.6" width="39.63" height="40.6" fill="#6363f5"/>
<rect x="1738.28" y="1782.6" width="39.43" height="40.6" fill="#dbc6c6"/>
<rect x="1289.5" y="1822.9" width="39.63" height="40.6" fill="#ee8888"/>
<rect x="1328.93" y="1822.9" width="39.43" height="40.6" fill="#ed9191"/>
<rect x="1371.37" y="1822.9" width="39.63" height="40.6" fill="#4f4ff8"/>
<rect x="1410.8" y="1822.9" width="39.43" height="40.6" fill="#fc2b2b"/>
<rect x="1453.24" y="1822.9" width="39.63" height="40.6" fill="#4f4ff8"/>
<rect x="1492.67" y="1822.9" width="39.43" height="40.6" fill="#fd1f1f"/>
<rect x="1535.11" y="1822.9" width="39.63" height="40.6" fill="#4f4ff8"/>
<rect x="1574.54" y="1822.9" width="39.43" height="40.6" fill="#ee8888"/>
<rect x="1616.98" y="1822.9" width="39.63" height="40.6" fill="#4f4ff8"/>
<rect x="1656.41" y="1822.9" width="39.43" height="40.6" fill="#eb9a9a"/>
<rect x="1698.85" y="1822.9" width="39.63" height="40.6" fill="#4f4ff8"/>
<rect x="1738.28" y="1822.9" width="39.43" height="40.6" fill="#ee8888"/>
<rect x="1289.5" y="1863.2" width="39.63" height="40.6" fill="#f94242"/>
<rect x="1328.93" y="1863.2" width="39.43" height="40.6" fill="#f84d4d"/>
<rect x="1371.37" y="1863.2" width="39.63" height="40.6" fill="#4f4ff8"/>
<rect x="1410.8" y="1863.2" width="39.43" height="40.6" fill="#fc2b2b"/>
<rect x="1453.24" y="1863.2" width="39.63" height="40.6" fill="#4f4ff8"/>
<rect x="1492.67" y="1863.2" width="39.43" height="40.6" fill="#fa3737"/>
<rect x="1535.11" y="1863.2" width="39.63" height="40.6" fill="#8080f0"/>
<rect x="1574.54" y="1863.2" width="39.43" height="40.6" fill="#9b9beb"/>
<rect x="1616.98" y="1863.2" width="39.63" height="40.6" fill="#4f4ff8"/>
<rect x="1656.41" y="1863.2" width="39.43" height="40.6" fill="#e6acac"/>
<rect x="1698.85" y="1863.2" width="39.63" height="40.6" fill="#4f4ff8"/>
<rect x="1738.28" y="1863.2" width="39.43" height="40.6" fill="#e6acac"/>
<rect x="1289.5" y="1903.5" width="39.63" height="40.6" fill="#e6acac"/>
<rect x="1328.93" y="1903.5" width="39.43" height="40.6" fill="#4444f9"/>
<rect x="1371.37" y="1903.5" width="39.63" height="40.6" fill="#fa3737"/>
<rect x="1410.8" y="1903.5" width="39.43" height="40.6" fill="#f65757"/>
<rect x="1453.24" y="1903.5" width="39.63" height="40.6" fill="#f94242"/>
<rect x="1492.67" y="1903.5" width="39.43" height="40.6" fill="#e3b4b4"/>
<rect x="1535.11" y="1903.5" width="39.63" height="40.6" fill="#f84d4d"/>
<rect x="1574.54" y="1903.5" width="39.43" height="40.6" fill="#4444f9"/>
<rect x="1616.98" y="1903.5" width="39.63" height="40.6" fill="#8080f0"/>
<rect x="1656.41" y="1903.5" width="39.43" height="40.6" fill="#2121fd"/>
<rect x="1698.85" y="1903.5" width="39.63" height="40.6" fill="#f27575"/>
<rect x="1738.28" y="1903.5" width="39.43" height="40.6" fill="#4f4ff8"/>
<rect x="1289.5" y="1943.8" width="39.63" height="40.6" fill="#f07e7e"/>
<rect x="1328.93" y="1943.8" width="39.43" height="40.6" fill="#f65757"/>
<rect x="1371.37" y="1943.8" width="39.63" height="40.6" fill="#9292ed"/>
<rect x="1410.8" y="1943.8" width="39.43" height="40.6" fill="#eb9a9a"/>
<rect x="1453.24" y="1943.8" width="39.63" height="40.6" fill="#2d2dfc"/>
<rect x="1492.67" y="1943.8" width="39.43" height="40.6" fill="#eb9a9a"/>
<rect x="1535.11" y="1943.8" width="39.63" height="40.6" fill="#f56161"/>
<rect x="1574.54" y="1943.8" width="39.43" height="40.6" fill="#0000ff"/>
<rect x="1616.98" y="1943.8" width="39.63" height="40.6" fill="#ee8888"/>
<rect x="1656.41" y="1943.8" width="39.43" height="40.6" fill="#f84d4d"/>
<rect x="1698.85" y="1943.8" width="39.63" height="40.6" fill="#f65757"/>
<rect x="1738.28" y="1943.8" width="39.43" height="40.6" fill="#2d2dfc"/>
<rect x="1289.5" y="1984.1" width="39.63" height="40.6" fill="#ed9191"/>
<rect x="1328.93" y="1984.1" width="39.43" height="40.6" fill="#acace6"/>
<rect x="1371.37" y="1984.1" width="39.63" height="40.6" fill="#c6c6db"/>
<rect x="1410.8" y="1984.1" width="39.43" height="40.6" fill="#fd1f1f"/>
<rect x="1453.24" y="1984.1" width="39.63" height="40.6" fill="#d8c9c9"/>
<rect x="1492.67" y="1984.1" width="39.43" height="40.6" fill="#e1b9b9"/>
<rect x="1535.11" y="1984.1" width="39.63" height="40.6" fill="#acace6"/>
<rect x="1574.54" y="1984.1" width="39.43" height="40.6" fill="#0000ff"/>
<rect x="1616.98" y="1984.1" width="39.63" height="40.6" fill="#6363f5"/>
<rect x="1656.41" y="1984.1" width="39.43" height="40.6" fill="#f94242"/>
<rect x="1698.85" y="1984.1" width="39.63" height="40.6" fill="#f94242"/>
<rect x="1738.28" y="1984.1" width="39.43" height="40.6" fill="#2d2dfc"/>
<rect x="1289.5" y="2024.4" width="39.63" height="40.6" fill="#fe1212"/>
<rect x="1328.93" y="2024.4" width="39.43" height="40.6" fill="#f65757"/>
<rect x="1371.37" y="2024.4" width="39.63" height="40.6" fill="#7676f2"/>
<rect x="1410.8" y="2024.4" width="39.43" height="40.6" fill="#f65757"/>
<rect x="1453.24" y="2024.4" width="39.63" height="40.6" fill="#9292ed"/>
<rect x="1492.67" y="2024.4" width="39.43" height="40.6" fill="#8989ee"/>
<rect x="1535.11" y="2024.4" width="39.63" height="40.6" fill="#4444f9"/>
<rect x="1574.54" y="2024.4" width="39.43" height="40.6" fill="#2121fd"/>
<rect x="1616.98" y="2024.4" width="39.63" height="40.6" fill="#9b9beb"/>
<rect x="1656.41" y="2024.4" width="39.43" height="40.6" fill="#f65757"/>
<rect x="1698.85" y="2024.4" width="39.63" height="40.6" fill="#f84d4d"/>
<rect x="1738.28" y="2024.4" width="39.43" height="40.6" fill="#5959f6"/>
<rect x="1289.5" y="2064.7" width="39.63" height="40.6" fill="#ed9191"/>
<rect x="1328.93" y="2064.7" width="39.43" height="40.6" fill="#f84d4d"/>
<rect x="1371.37" y="2064.7" width="39.63" height="40.6" fill="#5959f6"/>
<rect x="1410.8" y="2064.7" width="39.43" height="40.6" fill="#ed9191"/>
<rect x="1453.24" y="2064.7" width="39.63" height="40.6" fill="#f84d4d"/>
<rect x="1492.67" y="2064.7" width="39.43" height="40.6" fill="#6d6df3"/>
<rect x="1535.11" y="2064.7" width="39.63" height="40.6" fill="#3939fa"/>
<rect x="1574.54" y="2064.7" width="39.43" height="40.6" fill="#2d2dfc"/>
<rect x="1616.98" y="2064.7" width="39.63" height="40.6" fill="#f94242"/>
<rect x="1656.41" y="2064.7" width="39.43" height="40.6" fill="#f65757"/>
<rect x="1698.85" y="2064.7" width="39.63" height="40.6" fill="#f65757"/>
<rect x="1738.28" y="2064.7" width="39.43" height="40.6" fill="#3939fa"/>
<rect x="1289.5" y="2105" width="39.63" height="40.6" fill="#fa3737"/>
<rect x="1328.93" y="2105" width="39.43" height="40.6" fill="#eb9a9a"/>
<rect x="1371.37" y="2105" width="39.63" height="40.6" fill="#9292ed"/>
<rect x="1410.8" y="2105" width="39.43" height="40.6" fill="#dfbdbd"/>
<rect x="1453.24" y="2105" width="39.63" height="40.6" fill="#f84d4d"/>
<rect x="1492.67" y="2105" width="39.43" height="40.6" fill="#8989ee"/>
<rect x="1535.11" y="2105" width="39.63" height="40.6" fill="#f27575"/>
<rect x="1574.54" y="2105" width="39.43" height="40.6" fill="#0000ff"/>
<rect x="1616.98" y="2105" width="39.63" height="40.6" fill="#8989ee"/>
<rect x="1656.41" y="2105" width="39.43" height="40.6" fill="#eb9a9a"/>
<rect x="1698.85" y="2105" width="39.63" height="40.6" fill="#fa3737"/>
<rect x="1738.28" y="2105" width="39.43" height="40.6" fill="#1313fe"/>
<rect x="1289.5" y="2145.3" width="39.63" height="40.6" fill="#f27575"/>
<rect x="1328.93" y="2145.3" width="39.43" height="40.6" fill="#e8a3a3"/>
<rect x="1371.37" y="2145.3" width="39.63" height="40.6" fill="#a4a4e8"/>
<rect x="1410.8" y="2145.3" width="39.43" height="40.6" fill="#d8c9c9"/>
<rect x="1453.24" y="2145.3" width="39.63" height="40.6" fill="#f56161"/>
<rect x="1492.67" y="2145.3" width="39.43" height="40.6" fill="#8080f0"/>
<rect x="1535.11" y="2145.3" width="39.63" height="40.6" fill="#f94242"/>
<rect x="1574.54" y="2145.3" width="39.43" height="40.6" fill="#0000ff"/>
<rect x="1616.98" y="2145.3" width="39.63" height="40.6" fill="#f94242"/>
<rect x="1656.41" y="2145.3" width="39.43" height="40.6" fill="#9b9beb"/>
<rect x="1698.85" y="2145.3" width="39.63" height="40.6" fill="#f56161"/>
<rect x="1738.28" y="2145.3" width="39.43" height="40.6" fill="#1313fe"/>
</g>
<path d="M1288.3 1298.2H1779.01V2186.4H1288.3Z" fill="none" stroke="#16245e" stroke-width="2.6"/>
<text x="1782.3" y="1325.15" font-size="17" textLength="170.19" lengthAdjust="spacingAndGlyphs">Escherichia-Shigella</text>
<text x="1782.3" y="1365.45" font-size="17" textLength="113.81" lengthAdjust="spacingAndGlyphs">Enterococcus</text>
<text x="1782.3" y="1405.75" font-size="17" textLength="129.47" lengthAdjust="spacingAndGlyphs">Bifidobacterium</text>
<text x="1782.3" y="1446.05" font-size="17" textLength="137.82" lengthAdjust="spacingAndGlyphs">Paeniclostridium</text>
<text x="1782.3" y="1486.35" font-size="17" textLength="182.7" lengthAdjust="spacingAndGlyphs">Erysipelatoclostridium</text>
<text x="1782.3" y="1526.65" font-size="17" textLength="69.95" lengthAdjust="spacingAndGlyphs">Alistipes</text>
<rect x="1782.5" y="1547.45" width="95" height="27" fill="#d3f4fa" rx="3"/>
<text x="1782.3" y="1566.95" font-size="17" textLength="87.72" lengthAdjust="spacingAndGlyphs">Dubosiella</text>
<text x="1782.3" y="1607.25" font-size="17" textLength="261.08" lengthAdjust="spacingAndGlyphs">Rikenellaceae_RC9_gut_group</text>
<text x="1782.3" y="1647.55" font-size="17" textLength="87.73" lengthAdjust="spacingAndGlyphs">uncultured</text>
<text x="1782.3" y="1687.85" font-size="17" textLength="108.55" lengthAdjust="spacingAndGlyphs">Mucispirillum</text>
<text x="1782.3" y="1728.15" font-size="17" textLength="78.31" lengthAdjust="spacingAndGlyphs">Ralstonia</text>
<text x="1782.3" y="1768.45" font-size="17" textLength="119.03" lengthAdjust="spacingAndGlyphs">Streptococcus</text>
<text x="1782.3" y="1808.75" font-size="17" textLength="53.25" lengthAdjust="spacingAndGlyphs">Delftia</text>
<text x="1782.3" y="1849.05" font-size="17" textLength="158.74" lengthAdjust="spacingAndGlyphs">Stenotrophomonas</text>
<text x="1782.3" y="1889.35" font-size="17" textLength="100.24" lengthAdjust="spacingAndGlyphs">Romboutsia</text>
<text x="1782.3" y="1929.65" font-size="17" textLength="108.6" lengthAdjust="spacingAndGlyphs">Lactobacillus</text>
<rect x="1782.5" y="1950.45" width="123" height="27" fill="#d3f4fa" rx="3"/>
<text x="1782.3" y="1969.95" font-size="17" textLength="108.57" lengthAdjust="spacingAndGlyphs">Akkermansia</text>
<text x="1782.3" y="2010.25" font-size="17" textLength="131.56" lengthAdjust="spacingAndGlyphs">Faecalibaculum</text>
<text x="1782.3" y="2050.55" font-size="17" textLength="136.8" lengthAdjust="spacingAndGlyphs">Parabacteroides</text>
<text x="1782.3" y="2090.85" font-size="17" textLength="99.2" lengthAdjust="spacingAndGlyphs">Bacteroides</text>
<text x="1782.3" y="2131.15" font-size="17" textLength="111.72" lengthAdjust="spacingAndGlyphs">(Unassigned)</text>
<text x="1782.3" y="2171.45" font-size="17" textLength="57.44" lengthAdjust="spacingAndGlyphs">Blautia</text>
<path d="M1288.5 1319.15H1249.4V1359.45H1288.5M1288.5 1399.75H1263V1440.05H1288.5M1288.5 1480.35H1277.05V1520.65H1288.5M1288.5 1560.95H1264.13V1601.25H1288.5M1277.05 1500.5H1258.46V1581.1H1264.13M1263 1419.9H1251.67V1540.8H1258.46M1288.5 1641.55H1272.06V1681.85H1288.5M1288.5 1843.05H1274.33V1883.35H1288.5M1288.5 1802.75H1269.11V1863.2H1274.33M1288.5 1762.45H1267.3V1832.97H1269.11M1288.5 1722.15H1262.32V1797.71H1267.3M1272.06 1661.7H1244.87V1759.93H1262.32M1251.67 1480.35H1237.39V1710.82H1244.87M1288.5 2004.25H1262.32V2044.55H1288.5M1288.5 1963.95H1257.78V2024.4H1262.32M1288.5 2125.15H1267.98V2165.45H1288.5M1288.5 2084.85H1255.97V2145.3H1267.98M1257.78 1994.17H1249.85V2115.07H1255.97M1288.5 1923.65H1235.12V2054.62H1249.85M1237.39 1595.58H1221.07V1989.14H1235.12M1249.4 1339.3H1217V1792.36H1221.07" fill="none" stroke="#3a3a3a" stroke-width="1.1"/>
<text x="1307.71" y="2223.7" font-size="21" transform="rotate(-45 1307.71 2223.7)" text-anchor="middle" font-weight="bold">D0</text>
<text x="1347.14" y="2223.7" font-size="21" transform="rotate(-45 1347.14 2223.7)" text-anchor="middle" font-weight="bold">D7</text>
<text x="1389.58" y="2223.7" font-size="21" transform="rotate(-45 1389.58 2223.7)" text-anchor="middle" font-weight="bold">D0</text>
<text x="1429.01" y="2223.7" font-size="21" transform="rotate(-45 1429.01 2223.7)" text-anchor="middle" font-weight="bold">D7</text>
<text x="1471.45" y="2223.7" font-size="21" transform="rotate(-45 1471.45 2223.7)" text-anchor="middle" font-weight="bold">D0</text>
<text x="1510.88" y="2223.7" font-size="21" transform="rotate(-45 1510.88 2223.7)" text-anchor="middle" font-weight="bold">D7</text>
<text x="1553.33" y="2223.7" font-size="21" transform="rotate(-45 1553.33 2223.7)" text-anchor="middle" font-weight="bold">D0</text>
<text x="1592.76" y="2223.7" font-size="21" transform="rotate(-45 1592.76 2223.7)" text-anchor="middle" font-weight="bold">D7</text>
<text x="1635.19" y="2223.7" font-size="21" transform="rotate(-45 1635.19 2223.7)" text-anchor="middle" font-weight="bold">D0</text>
<text x="1674.62" y="2223.7" font-size="21" transform="rotate(-45 1674.62 2223.7)" text-anchor="middle" font-weight="bold">D7</text>
<text x="1717.06" y="2223.7" font-size="21" transform="rotate(-45 1717.06 2223.7)" text-anchor="middle" font-weight="bold">D0</text>
<text x="1756.49" y="2223.7" font-size="21" transform="rotate(-45 1756.49 2223.7)" text-anchor="middle" font-weight="bold">D7</text>
<line x1="1293" y1="2249" x2="1364.5" y2="2249" stroke="#16245e" stroke-width="2.8"/>
<text x="1327" y="2277.5" font-size="23" text-anchor="middle" font-weight="bold">Veh</text>
<line x1="1374.87" y1="2249" x2="1446.37" y2="2249" stroke="#16245e" stroke-width="2.8"/>
<text x="1402" y="2277.5" font-size="23" text-anchor="middle" font-weight="bold">Abx</text>
<line x1="1456.74" y1="2249" x2="1528.24" y2="2249" stroke="#16245e" stroke-width="2.8"/>
<text x="1482.6" y="2277.5" font-size="23" text-anchor="middle" font-weight="bold">Amp</text>
<line x1="1538.61" y1="2249" x2="1610.11" y2="2249" stroke="#16245e" stroke-width="2.8"/>
<text x="1562" y="2277.5" font-size="23" text-anchor="middle" font-weight="bold">Van</text>
<line x1="1620.48" y1="2249" x2="1691.98" y2="2249" stroke="#16245e" stroke-width="2.8"/>
<text x="1644.6" y="2277.5" font-size="23" text-anchor="middle" font-weight="bold">Neo</text>
<line x1="1702.35" y1="2249" x2="1773.85" y2="2249" stroke="#16245e" stroke-width="2.8"/>
<text x="1732.5" y="2277.5" font-size="23" text-anchor="middle" font-weight="bold">Metro</text>
</svg>
</body></html>
